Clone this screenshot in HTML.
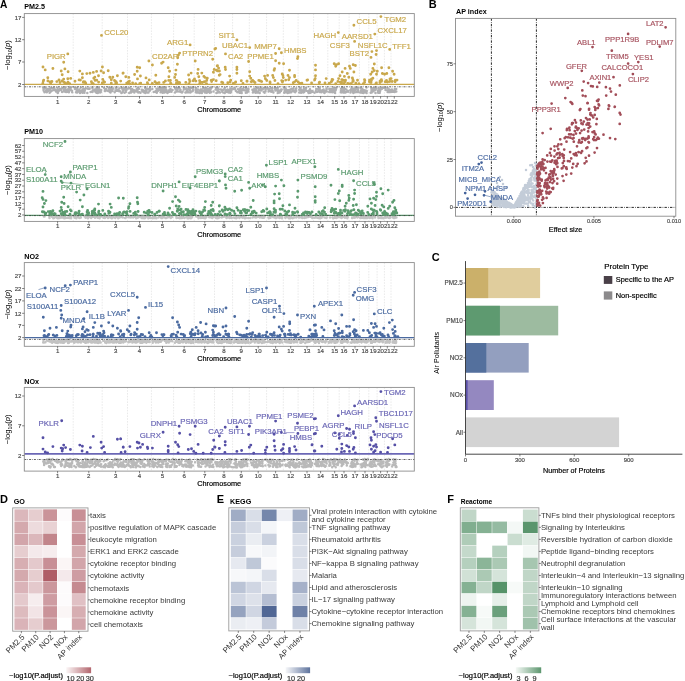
<!DOCTYPE html>
<html><head><meta charset="utf-8"><style>
html,body{margin:0;padding:0;background:#fff;}
svg{display:block;font-family:"Liberation Sans", sans-serif;filter:blur(0.3px);}

</style></head><body>
<svg width="685" height="681" viewBox="0 0 685 681">
<rect width="685" height="681" fill="#fff"/>
<text x="24.30" y="9.29" font-size="7.2" text-anchor="start" font-weight="bold" fill="#000" >PM2.5</text>
<line x1="73.20" y1="13.60" x2="73.20" y2="96.40" stroke="#d4d4d4" stroke-width="0.5" stroke-dasharray="1.6,1.2"/>
<line x1="102.20" y1="13.60" x2="102.20" y2="96.40" stroke="#d4d4d4" stroke-width="0.5" stroke-dasharray="1.6,1.2"/>
<line x1="127.50" y1="13.60" x2="127.50" y2="96.40" stroke="#d4d4d4" stroke-width="0.5" stroke-dasharray="1.6,1.2"/>
<line x1="151.40" y1="13.60" x2="151.40" y2="96.40" stroke="#d4d4d4" stroke-width="0.5" stroke-dasharray="1.6,1.2"/>
<line x1="173.60" y1="13.60" x2="173.60" y2="96.40" stroke="#d4d4d4" stroke-width="0.5" stroke-dasharray="1.6,1.2"/>
<line x1="194.20" y1="13.60" x2="194.20" y2="96.40" stroke="#d4d4d4" stroke-width="0.5" stroke-dasharray="1.6,1.2"/>
<line x1="214.50" y1="13.60" x2="214.50" y2="96.40" stroke="#d4d4d4" stroke-width="0.5" stroke-dasharray="1.6,1.2"/>
<line x1="232.60" y1="13.60" x2="232.60" y2="96.40" stroke="#d4d4d4" stroke-width="0.5" stroke-dasharray="1.6,1.2"/>
<line x1="249.30" y1="13.60" x2="249.30" y2="96.40" stroke="#d4d4d4" stroke-width="0.5" stroke-dasharray="1.6,1.2"/>
<line x1="266.60" y1="13.60" x2="266.60" y2="96.40" stroke="#d4d4d4" stroke-width="0.5" stroke-dasharray="1.6,1.2"/>
<line x1="283.30" y1="13.60" x2="283.30" y2="96.40" stroke="#d4d4d4" stroke-width="0.5" stroke-dasharray="1.6,1.2"/>
<line x1="298.10" y1="13.60" x2="298.10" y2="96.40" stroke="#d4d4d4" stroke-width="0.5" stroke-dasharray="1.6,1.2"/>
<line x1="313.60" y1="13.60" x2="313.60" y2="96.40" stroke="#d4d4d4" stroke-width="0.5" stroke-dasharray="1.6,1.2"/>
<line x1="327.80" y1="13.60" x2="327.80" y2="96.40" stroke="#d4d4d4" stroke-width="0.5" stroke-dasharray="1.6,1.2"/>
<line x1="339.20" y1="13.60" x2="339.20" y2="96.40" stroke="#d4d4d4" stroke-width="0.5" stroke-dasharray="1.6,1.2"/>
<line x1="349.10" y1="13.60" x2="349.10" y2="96.40" stroke="#d4d4d4" stroke-width="0.5" stroke-dasharray="1.6,1.2"/>
<line x1="359.40" y1="13.60" x2="359.40" y2="96.40" stroke="#d4d4d4" stroke-width="0.5" stroke-dasharray="1.6,1.2"/>
<line x1="368.80" y1="13.60" x2="368.80" y2="96.40" stroke="#d4d4d4" stroke-width="0.5" stroke-dasharray="1.6,1.2"/>
<line x1="377.10" y1="13.60" x2="377.10" y2="96.40" stroke="#d4d4d4" stroke-width="0.5" stroke-dasharray="1.6,1.2"/>
<line x1="384.40" y1="13.60" x2="384.40" y2="96.40" stroke="#d4d4d4" stroke-width="0.5" stroke-dasharray="1.6,1.2"/>
<line x1="391.00" y1="13.60" x2="391.00" y2="96.40" stroke="#d4d4d4" stroke-width="0.5" stroke-dasharray="1.6,1.2"/>
<line x1="24.30" y1="84.40" x2="414.30" y2="84.40" stroke="#c9a84c" stroke-width="1.3" />
<path d="M46.8 92.2h0M65.4 89.0h0M57.5 90.0h0M62.1 91.9h0M45.6 87.8h0M67.5 89.9h0M65.4 87.6h0M56.0 91.5h0M49.6 92.7h0M69.5 87.8h0M43.6 90.5h0M70.6 89.7h0M49.2 89.9h0M43.7 88.8h0M55.8 90.3h0M49.7 88.8h0M49.3 90.1h0M51.4 87.7h0M67.6 90.6h0M61.8 88.6h0M72.2 92.2h0M46.4 89.4h0M64.2 91.4h0M70.5 89.9h0M67.4 91.2h0M51.8 90.8h0M68.9 92.2h0M57.8 90.8h0M43.8 88.9h0M66.4 89.8h0M47.9 90.6h0M63.6 91.2h0M53.9 90.0h0M57.8 91.8h0M58.2 89.7h0M57.3 87.8h0M44.1 91.4h0M71.9 90.8h0M54.5 88.5h0M57.7 92.9h0M65.6 90.5h0M68.3 88.9h0M58.0 92.7h0M59.9 90.1h0M50.8 90.6h0M71.1 87.6h0M66.0 92.0h0M69.0 91.6h0M66.8 90.4h0M59.4 89.9h0M44.5 92.3h0M59.7 88.7h0M57.7 90.2h0M53.4 89.5h0M58.7 91.0h0M60.9 90.1h0M43.6 88.8h0M48.0 90.8h0M68.3 91.9h0M66.4 92.0h0M50.4 92.1h0M62.7 88.0h0M43.3 87.7h0M65.2 88.9h0M46.0 91.0h0M53.0 88.0h0M47.5 90.4h0M47.8 89.1h0M63.9 90.1h0M52.3 90.2h0M43.5 89.7h0M85.5 88.6h0M77.0 92.5h0M88.0 88.7h0M90.6 92.0h0M74.6 87.7h0M78.0 91.5h0M78.4 91.4h0M92.6 90.5h0M80.0 92.9h0M95.9 90.4h0M80.1 91.1h0M84.8 90.7h0M82.8 91.0h0M75.6 89.2h0M100.5 92.3h0M82.4 92.2h0M82.5 92.7h0M94.4 89.8h0M80.9 87.6h0M98.1 87.8h0M96.5 92.8h0M89.6 88.5h0M97.8 92.9h0M93.3 90.3h0M84.4 89.5h0M79.6 91.2h0M85.9 88.6h0M76.9 91.2h0M82.1 90.3h0M82.9 92.3h0M98.7 87.7h0M79.5 89.4h0M101.0 91.8h0M83.3 88.8h0M92.5 92.1h0M99.5 89.5h0M98.2 91.3h0M87.3 92.9h0M80.4 91.5h0M76.3 88.5h0M99.0 88.8h0M94.8 90.8h0M97.0 89.6h0M83.3 89.2h0M97.8 90.9h0M100.1 92.4h0M77.7 90.6h0M76.9 87.8h0M76.0 92.3h0M95.6 92.1h0M83.3 90.9h0M95.4 89.6h0M89.6 88.8h0M76.2 89.0h0M98.4 90.6h0M99.3 90.1h0M81.6 91.8h0M96.7 87.7h0M92.4 88.1h0M77.2 92.4h0M75.1 88.9h0M101.1 89.9h0M77.2 88.5h0M80.6 91.6h0M76.8 92.5h0M84.4 92.8h0M124.5 89.2h0M109.0 90.2h0M105.4 91.1h0M103.9 87.7h0M126.3 89.2h0M117.1 90.0h0M110.4 87.9h0M124.6 92.8h0M126.0 88.2h0M108.1 90.9h0M126.2 90.5h0M119.3 91.2h0M109.1 90.5h0M110.3 88.9h0M104.9 89.1h0M126.3 90.0h0M118.5 91.1h0M125.3 89.7h0M110.3 89.4h0M110.5 92.2h0M124.2 89.2h0M110.9 90.5h0M116.7 90.8h0M108.8 87.7h0M108.8 88.0h0M116.1 88.0h0M104.8 91.0h0M109.9 91.9h0M114.7 92.3h0M106.7 90.3h0M121.8 88.0h0M125.5 88.5h0M121.4 92.9h0M122.5 89.3h0M105.5 90.4h0M124.8 89.2h0M124.2 88.4h0M124.6 87.8h0M110.5 92.5h0M122.1 92.5h0M122.9 91.6h0M119.3 88.6h0M113.3 88.5h0M119.9 91.2h0M109.0 87.9h0M125.8 92.0h0M116.0 90.5h0M123.2 90.0h0M112.4 89.4h0M109.1 87.7h0M118.3 89.9h0M116.5 87.9h0M111.4 88.3h0M106.0 89.0h0M122.6 89.7h0M112.5 90.9h0M108.5 87.6h0M115.5 90.3h0M142.8 90.0h0M143.6 91.5h0M133.6 90.3h0M139.0 88.8h0M137.5 90.6h0M148.5 92.6h0M134.4 91.1h0M129.4 88.0h0M139.7 92.3h0M131.9 91.7h0M148.0 89.3h0M143.7 92.2h0M136.6 91.4h0M144.7 90.8h0M147.4 92.4h0M149.7 90.7h0M132.2 89.0h0M133.2 90.7h0M145.2 87.9h0M143.5 91.5h0M136.1 90.4h0M132.0 91.5h0M129.2 92.9h0M146.3 91.0h0M134.3 92.5h0M149.7 88.4h0M145.6 92.1h0M143.0 91.4h0M138.2 92.6h0M150.0 89.7h0M146.2 89.9h0M132.0 89.4h0M131.1 92.5h0M149.7 88.2h0M141.7 89.8h0M130.9 89.2h0M133.8 91.6h0M128.4 88.6h0M138.1 87.7h0M142.3 90.9h0M146.9 88.7h0M134.7 90.5h0M134.4 90.8h0M133.9 91.3h0M145.9 92.0h0M150.0 90.5h0M139.2 92.2h0M145.5 90.7h0M136.8 89.1h0M130.7 92.0h0M130.9 91.6h0M140.5 92.8h0M145.3 92.9h0M131.3 90.3h0M164.0 89.3h0M162.6 89.5h0M163.1 87.6h0M161.3 90.0h0M158.5 89.8h0M168.3 91.3h0M162.3 91.1h0M160.0 88.7h0M152.3 89.1h0M164.5 92.4h0M169.3 90.4h0M172.5 90.1h0M169.4 89.8h0M167.5 92.9h0M158.5 88.5h0M165.0 90.5h0M159.6 87.6h0M160.2 89.9h0M160.5 92.3h0M164.2 91.6h0M170.7 91.6h0M162.3 91.6h0M165.4 91.1h0M165.2 89.8h0M165.2 91.0h0M171.5 91.8h0M169.6 91.7h0M169.0 90.9h0M159.4 89.0h0M166.8 92.3h0M163.4 88.4h0M169.4 90.2h0M161.8 87.8h0M162.7 91.6h0M160.9 89.5h0M165.7 87.7h0M162.6 92.7h0M166.4 89.8h0M166.4 90.9h0M156.5 88.7h0M170.5 89.1h0M153.7 92.1h0M163.0 89.6h0M162.7 91.6h0M155.7 91.1h0M166.9 92.0h0M157.8 90.9h0M157.0 90.6h0M155.8 91.9h0M170.1 89.4h0M156.8 92.8h0M187.8 92.2h0M175.0 92.5h0M186.2 89.3h0M182.6 91.7h0M189.3 88.6h0M186.3 88.5h0M192.9 90.0h0M191.7 91.5h0M185.9 89.0h0M184.4 88.3h0M177.0 91.5h0M181.3 91.7h0M179.0 91.5h0M188.1 89.2h0M176.4 89.7h0M183.8 88.1h0M177.9 87.9h0M185.8 92.4h0M178.5 87.8h0M187.8 92.0h0M192.7 90.9h0M180.9 92.1h0M176.6 91.3h0M176.2 89.8h0M183.8 89.6h0M177.6 88.9h0M190.0 90.1h0M185.4 88.7h0M188.0 89.4h0M185.7 92.5h0M193.3 87.8h0M189.6 92.2h0M180.5 89.7h0M185.4 92.6h0M182.0 92.4h0M188.8 88.4h0M191.8 87.7h0M177.2 91.2h0M175.5 89.6h0M176.9 90.1h0M190.4 92.5h0M175.1 87.9h0M190.4 87.8h0M179.6 88.2h0M176.1 87.7h0M186.5 91.6h0M187.4 92.2h0M207.4 89.7h0M206.8 92.8h0M207.0 88.9h0M196.1 92.6h0M206.0 89.5h0M206.3 90.6h0M204.8 87.9h0M201.6 89.8h0M198.7 92.4h0M202.9 91.2h0M208.3 91.6h0M208.5 91.7h0M199.7 92.9h0M197.8 92.6h0M211.0 92.2h0M196.0 88.1h0M210.2 90.1h0M201.9 92.9h0M195.8 90.5h0M203.3 88.3h0M202.4 91.4h0M211.5 87.7h0M204.8 88.1h0M210.0 88.1h0M195.6 89.7h0M208.7 89.3h0M197.4 91.9h0M210.1 92.2h0M200.7 89.9h0M199.6 90.6h0M201.2 89.4h0M209.7 92.8h0M205.9 88.2h0M207.2 90.0h0M213.5 91.5h0M210.6 91.4h0M205.0 92.4h0M210.6 89.2h0M197.9 89.6h0M204.7 88.1h0M201.5 90.7h0M195.8 92.0h0M207.2 89.3h0M200.6 89.5h0M201.1 91.6h0M204.4 90.4h0M217.8 92.5h0M220.7 89.4h0M216.4 92.9h0M223.2 92.5h0M230.6 92.8h0M228.8 92.6h0M230.5 91.9h0M217.5 90.4h0M224.8 93.0h0M228.2 91.4h0M227.6 89.6h0M230.8 91.1h0M221.9 90.1h0M231.5 90.5h0M218.1 88.4h0M226.6 90.6h0M230.3 88.6h0M222.1 91.5h0M216.1 88.1h0M224.3 89.0h0M217.1 89.0h0M225.7 90.4h0M216.6 88.0h0M229.3 91.1h0M218.2 92.3h0M215.7 89.6h0M229.3 91.4h0M220.0 92.4h0M225.2 92.3h0M230.0 89.9h0M226.4 90.5h0M230.9 91.9h0M227.3 92.0h0M231.8 89.0h0M218.6 91.6h0M228.0 90.4h0M223.3 89.8h0M229.9 91.9h0M224.9 87.8h0M229.3 90.1h0M218.4 89.2h0M243.8 87.6h0M235.2 89.2h0M246.8 91.6h0M248.1 90.5h0M242.0 90.6h0M241.3 90.5h0M245.8 92.7h0M239.6 91.0h0M238.0 89.2h0M241.0 90.8h0M241.7 92.9h0M235.9 91.0h0M248.4 91.6h0M241.9 89.6h0M239.5 92.7h0M246.9 91.2h0M247.0 92.6h0M246.2 89.7h0M240.4 91.9h0M239.0 91.6h0M240.7 89.4h0M240.3 88.2h0M238.8 89.8h0M233.7 88.5h0M237.3 92.2h0M242.3 89.2h0M248.5 89.0h0M241.2 91.6h0M243.8 89.9h0M245.1 90.2h0M244.2 90.3h0M248.1 91.5h0M234.8 88.3h0M248.0 88.8h0M233.8 89.0h0M240.6 92.7h0M239.4 91.5h0M246.0 88.1h0M259.7 93.0h0M258.7 90.5h0M255.5 92.7h0M265.3 88.2h0M258.8 89.9h0M260.6 88.2h0M254.3 89.1h0M257.6 91.9h0M263.6 91.8h0M260.7 88.1h0M256.2 91.2h0M254.7 90.3h0M264.3 88.2h0M263.5 88.2h0M256.2 92.5h0M253.3 90.4h0M256.6 92.4h0M265.7 89.2h0M257.8 92.4h0M258.7 88.8h0M262.0 89.4h0M257.7 87.6h0M265.6 91.1h0M264.6 92.8h0M254.3 90.5h0M257.0 91.7h0M263.3 88.8h0M254.4 91.4h0M256.6 88.3h0M253.2 90.6h0M259.5 92.8h0M258.5 90.9h0M252.4 89.8h0M254.5 91.4h0M254.3 88.8h0M255.9 90.1h0M255.4 90.9h0M252.9 92.4h0M261.0 90.5h0M268.3 89.4h0M277.8 91.1h0M279.7 92.4h0M272.2 90.3h0M272.4 88.3h0M269.5 89.0h0M268.7 90.5h0M278.0 90.6h0M277.7 88.8h0M270.4 90.7h0M280.8 89.9h0M267.5 87.7h0M272.0 90.9h0M268.7 88.8h0M277.7 92.9h0M272.6 90.8h0M275.2 87.7h0M272.4 88.4h0M271.2 91.8h0M277.7 87.8h0M268.6 91.5h0M269.0 89.3h0M271.5 87.9h0M267.9 88.4h0M273.4 92.6h0M277.0 88.9h0M277.7 89.1h0M275.2 89.3h0M281.7 89.5h0M279.5 91.1h0M280.1 90.9h0M280.5 89.8h0M277.7 91.0h0M275.4 90.6h0M275.5 89.7h0M281.0 91.0h0M275.7 87.9h0M275.1 88.5h0M286.9 89.9h0M291.3 89.0h0M287.7 90.5h0M290.3 89.8h0M285.5 89.6h0M292.7 90.5h0M291.3 92.2h0M293.6 91.3h0M284.5 89.3h0M293.1 88.4h0M296.2 88.4h0M295.7 88.8h0M295.2 92.2h0M288.5 92.4h0M286.2 92.2h0M289.1 90.0h0M285.7 90.8h0M287.7 91.2h0M294.7 90.9h0M284.2 92.7h0M296.2 91.1h0M289.1 90.6h0M295.8 90.1h0M294.4 90.8h0M289.7 92.6h0M289.5 90.9h0M284.8 90.1h0M284.6 91.4h0M284.1 87.8h0M285.6 88.4h0M290.8 89.5h0M287.7 92.9h0M296.1 91.1h0M294.7 92.0h0M302.3 92.0h0M302.2 90.6h0M303.9 88.5h0M309.7 92.5h0M303.3 92.4h0M303.7 91.2h0M312.7 91.8h0M299.7 89.9h0M304.1 89.2h0M310.2 90.0h0M308.6 91.0h0M306.1 87.9h0M308.3 92.4h0M301.3 91.1h0M305.7 89.4h0M308.8 92.9h0M299.2 92.4h0M304.2 92.1h0M301.3 91.5h0M300.3 89.4h0M312.4 91.1h0M309.8 90.1h0M305.4 90.3h0M309.6 91.5h0M301.6 90.0h0M306.4 90.7h0M311.8 92.1h0M301.0 89.6h0M300.4 87.7h0M299.9 88.6h0M309.5 91.2h0M310.0 89.2h0M301.1 92.8h0M310.4 92.7h0M299.2 89.7h0M322.4 91.6h0M325.9 90.5h0M319.3 87.6h0M324.5 92.9h0M325.8 91.2h0M318.7 88.9h0M324.2 92.7h0M326.5 88.5h0M321.8 90.4h0M319.8 91.9h0M326.2 91.5h0M323.2 91.3h0M322.6 90.5h0M317.5 91.8h0M315.9 91.1h0M319.3 90.6h0M322.5 90.2h0M326.7 88.9h0M314.6 92.8h0M318.3 89.1h0M319.6 90.8h0M326.8 91.4h0M318.4 90.5h0M320.1 90.3h0M319.7 88.5h0M319.4 89.7h0M316.9 92.0h0M318.9 88.4h0M321.5 92.2h0M324.2 91.0h0M323.6 89.4h0M316.2 89.0h0M332.0 89.1h0M333.2 88.4h0M329.9 89.0h0M330.5 91.9h0M333.9 88.7h0M332.8 92.3h0M334.3 90.6h0M332.4 88.7h0M334.7 88.0h0M336.3 87.9h0M335.9 89.7h0M335.3 90.8h0M329.9 90.5h0M329.3 88.9h0M332.3 89.1h0M335.1 92.9h0M332.1 92.1h0M330.8 91.4h0M332.0 90.5h0M329.5 92.1h0M330.6 90.1h0M331.4 92.0h0M334.4 90.9h0M336.0 89.0h0M329.2 92.1h0M331.7 92.0h0M347.9 91.0h0M340.9 92.2h0M345.3 88.9h0M341.7 90.3h0M341.0 92.5h0M345.9 92.0h0M343.2 92.6h0M341.1 91.5h0M342.1 87.6h0M341.0 88.7h0M346.3 89.6h0M344.0 90.9h0M342.2 91.0h0M345.6 92.6h0M344.2 92.2h0M348.0 91.8h0M343.5 89.1h0M340.8 92.1h0M341.1 90.6h0M343.8 87.8h0M341.8 92.0h0M344.5 92.6h0M357.8 88.1h0M355.8 87.8h0M353.6 90.0h0M358.2 90.8h0M351.6 90.4h0M354.4 88.7h0M353.0 92.3h0M358.4 91.8h0M350.5 92.5h0M353.9 92.1h0M351.4 88.4h0M357.8 89.1h0M350.3 90.3h0M358.5 92.1h0M353.3 93.0h0M356.8 92.1h0M355.5 89.7h0M357.8 90.1h0M358.0 90.6h0M357.8 90.2h0M353.6 90.8h0M352.7 88.4h0M355.0 92.2h0M362.4 92.3h0M366.3 91.8h0M363.4 93.0h0M366.4 90.7h0M361.1 90.7h0M360.3 92.5h0M362.8 89.6h0M364.5 91.0h0M364.7 90.2h0M365.1 92.2h0M363.7 90.3h0M366.5 87.6h0M361.5 89.4h0M361.9 92.4h0M361.4 88.2h0M362.7 90.3h0M366.6 93.0h0M366.8 90.9h0M360.5 87.9h0M365.1 92.0h0M362.3 92.8h0M373.3 90.7h0M373.7 88.0h0M370.7 92.7h0M371.4 88.0h0M371.5 91.5h0M371.4 88.7h0M371.5 90.2h0M374.5 89.2h0M375.5 92.9h0M375.1 88.0h0M371.7 92.6h0M375.4 88.3h0M372.6 89.6h0M374.6 87.8h0M371.7 91.6h0M375.5 87.8h0M373.5 91.2h0M375.4 89.9h0M376.1 88.7h0M378.6 88.3h0M381.2 88.3h0M379.4 88.7h0M378.2 92.8h0M379.8 92.8h0M382.0 88.8h0M383.2 87.7h0M383.5 87.8h0M379.3 90.6h0M378.0 91.7h0M378.4 92.0h0M378.1 90.5h0M379.1 89.2h0M380.7 89.6h0M380.1 91.1h0M379.0 88.6h0M388.6 89.2h0M389.9 89.9h0M387.6 87.7h0M385.3 88.2h0M388.3 91.2h0M390.0 89.9h0M388.7 89.5h0M385.6 89.9h0M388.7 91.9h0M390.0 92.1h0M388.0 90.6h0M387.7 90.2h0M388.6 90.7h0M389.5 90.0h0M387.6 92.1h0M395.1 90.4h0M394.6 92.0h0M394.8 89.0h0M393.3 90.9h0M392.0 90.1h0M396.2 88.9h0M394.0 91.4h0M396.3 91.4h0M394.9 89.7h0M393.9 91.1h0M393.5 91.8h0M391.8 91.7h0M395.4 89.3h0M391.9 89.4h0" stroke="#b0b0b2" stroke-width="2.5" stroke-linecap="round" fill="none"/>
<line x1="24.30" y1="86.80" x2="414.30" y2="86.80" stroke="#3a3a3a" stroke-width="0.8" stroke-dasharray="2.0,1.1,0.6,1.1"/>
<path d="M67.8 53.9h0M63.7 62.2h0M43.0 67.0h0M45.2 69.9h0M52.9 68.5h0M61.2 71.0h0M64.9 68.9h0M68.1 71.8h0M62.2 74.7h0M47.8 77.7h0M43.7 80.1h0M50.0 82.0h0M63.7 79.1h0M67.8 78.7h0M70.7 78.4h0M56.8 81.6h0M62.0 80.9h0M79.8 71.1h0M82.4 73.9h0M86.8 73.6h0M90.0 73.3h0M93.3 72.4h0M96.6 71.4h0M101.1 71.0h0M102.4 67.0h0M103.6 72.8h0M108.2 70.7h0M82.4 77.7h0M93.8 78.2h0M94.8 77.2h0M98.5 75.8h0M96.7 80.1h0M102.8 79.4h0M104.0 81.6h0M109.8 77.2h0M112.8 77.2h0M111.3 79.7h0M116.0 81.6h0M117.4 75.8h0M123.0 73.3h0M123.2 73.1h0M125.8 76.7h0M128.8 77.4h0M134.6 74.5h0M137.2 67.2h0M139.7 67.7h0M137.2 71.2h0M140.4 76.0h0M137.5 78.9h0M146.0 77.9h0M147.4 82.6h0M148.9 61.0h0M152.4 65.0h0M155.8 75.3h0M155.0 81.8h0M161.6 63.3h0M163.1 62.1h0M168.2 67.7h0M169.6 71.2h0M168.9 76.7h0M170.4 80.4h0M178.4 55.1h0M179.6 53.1h0M177.7 57.7h0M177.4 64.3h0M175.9 70.1h0M175.5 74.5h0M174.7 77.4h0M176.2 80.4h0M190.1 44.9h0M195.2 61.0h0M198.1 69.4h0M197.7 73.5h0M201.8 73.1h0M198.8 76.7h0M188.6 75.0h0M191.1 73.1h0M189.3 79.6h0M194.5 78.9h0M195.9 81.1h0M203.9 76.4h0M205.0 77.4h0M207.3 78.2h0M204.4 81.8h0M211.2 80.4h0M213.4 79.6h0M214.9 49.0h0M212.7 59.2h0M217.5 65.8h0M214.2 69.4h0M217.5 70.9h0M213.4 72.3h0M219.3 75.3h0M215.7 48.4h0M236.9 39.9h0M249.7 47.6h0M225.5 53.9h0M248.6 61.5h0M217.2 65.9h0M218.6 68.1h0M216.5 70.3h0M219.4 71.0h0M225.2 67.3h0M225.5 69.5h0M236.9 67.3h0M236.9 69.5h0M236.9 73.2h0M220.1 74.6h0M229.6 76.1h0M249.7 71.7h0M249.7 76.1h0M250.8 78.3h0M279.2 48.8h0M281.4 52.7h0M275.6 53.5h0M275.6 60.8h0M279.2 63.2h0M283.6 63.7h0M297.9 56.8h0M297.5 58.6h0M274.6 68.8h0M274.1 70.3h0M289.5 70.3h0M264.6 76.1h0M267.6 75.4h0M265.4 78.7h0M266.8 80.5h0M272.7 75.4h0M273.4 77.6h0M274.9 80.5h0M282.2 73.9h0M282.9 75.4h0M283.3 77.6h0M288.0 75.4h0M289.5 77.6h0M288.7 79.7h0M294.6 75.4h0M294.6 76.8h0M241.3 80.8h0M247.1 81.2h0M260.3 81.0h0M261.7 81.6h0M298.2 82.0h0M307.0 80.2h0M380.9 16.6h0M353.9 25.3h0M338.3 32.6h0M374.8 34.1h0M354.6 41.4h0M389.7 49.4h0M376.5 50.6h0M371.9 51.6h0M376.1 54.5h0M371.0 57.4h0M315.5 65.2h0M315.5 69.9h0M315.5 75.7h0M315.2 78.6h0M307.2 80.1h0M311.6 83.0h0M334.2 63.7h0M336.4 64.7h0M338.6 63.7h0M335.7 66.2h0M326.2 78.6h0M332.0 80.8h0M319.6 82.3h0M345.1 68.4h0M349.5 66.2h0M350.3 68.4h0M353.2 64.7h0M355.4 65.5h0M342.2 72.0h0M347.3 73.5h0M353.9 72.0h0M340.0 75.7h0M344.4 76.4h0M348.8 77.2h0M352.4 77.9h0M338.6 78.6h0M343.0 80.1h0M374.3 64.0h0M372.9 68.4h0M374.3 70.6h0M377.3 71.3h0M372.2 72.0h0M370.7 74.2h0M376.5 74.2h0M381.6 67.7h0M382.4 73.5h0M384.6 74.2h0M386.8 73.5h0M388.9 67.7h0M392.6 71.3h0M394.1 74.2h0M391.1 78.6h0M395.5 80.1h0M389.7 81.5h0M101.5 35.4h0M47.9 80.9h0M50.7 83.3h0M42.8 83.5h0M51.9 81.5h0M43.3 81.3h0M51.6 81.7h0M59.0 80.0h0M66.9 83.4h0M68.0 82.2h0M64.8 82.7h0M60.0 82.5h0M63.9 82.3h0M69.7 83.7h0M80.4 80.1h0M91.4 81.7h0M92.0 83.2h0M85.7 83.3h0M79.1 79.9h0M95.1 80.4h0M75.0 81.3h0M83.3 82.2h0M93.2 83.8h0M85.0 81.9h0M98.6 82.1h0M83.6 81.7h0M116.6 83.0h0M115.7 83.0h0M102.3 82.9h0M104.2 82.2h0M114.5 80.5h0M120.7 81.1h0M126.7 83.1h0M111.3 83.2h0M104.6 82.1h0M139.8 83.5h0M149.2 79.9h0M129.6 83.8h0M129.4 81.1h0M147.6 83.7h0M128.2 82.0h0M135.7 83.8h0M128.2 83.3h0M132.6 83.0h0M140.7 83.1h0M156.9 83.3h0M170.6 83.2h0M163.7 82.4h0M159.0 82.6h0M152.3 83.4h0M165.4 81.0h0M156.6 83.4h0M171.0 83.6h0M168.7 80.4h0M176.9 80.6h0M177.0 83.7h0M179.7 82.8h0M185.8 82.4h0M189.9 81.4h0M176.4 83.3h0M188.9 83.6h0M193.1 80.8h0M178.4 83.0h0M179.0 82.5h0M199.7 83.8h0M199.8 83.3h0M201.6 82.4h0M211.6 81.5h0M206.7 80.5h0M202.3 82.5h0M199.6 80.7h0M211.7 80.3h0M206.5 83.6h0M216.2 80.8h0M230.1 82.0h0M230.7 80.2h0M227.8 82.7h0M222.8 82.8h0M221.7 82.3h0M233.3 83.5h0M235.7 81.9h0M246.9 81.2h0M235.4 82.4h0M243.0 83.5h0M251.3 81.7h0M253.8 81.5h0M252.7 80.5h0M255.0 82.5h0M258.8 80.4h0M281.7 80.6h0M278.0 83.7h0M270.0 82.0h0M282.8 81.2h0M270.1 82.8h0M282.4 82.1h0M296.2 80.5h0M294.9 81.6h0M293.3 82.8h0M285.7 80.1h0M299.5 83.1h0M307.6 80.0h0M301.9 83.2h0M325.0 82.9h0M319.2 82.7h0M314.6 80.1h0M335.7 83.8h0M329.1 83.4h0M332.1 79.5h0M329.5 83.1h0M331.4 81.7h0M337.9 81.6h0M337.9 81.5h0M332.8 79.6h0M345.2 81.5h0M344.6 82.2h0M343.9 83.6h0M341.8 79.6h0M341.2 83.0h0M341.5 82.2h0M340.4 82.2h0M345.5 80.2h0M347.8 83.5h0M355.8 83.1h0M353.1 80.9h0M357.5 80.2h0M358.9 83.8h0M352.8 81.5h0M350.3 83.7h0M353.3 81.0h0M351.2 83.6h0M352.9 79.7h0M364.5 79.8h0M364.8 80.4h0M364.6 82.3h0M363.3 83.7h0M369.5 80.3h0M375.9 83.8h0M370.4 82.4h0M371.5 79.1h0M371.0 82.5h0M372.9 78.2h0M371.4 80.5h0M369.4 81.8h0M376.4 83.0h0M380.1 80.9h0M381.4 81.4h0M381.7 80.8h0M379.9 82.5h0M380.4 81.7h0M381.4 79.6h0M387.4 82.0h0M390.0 79.0h0M386.5 80.5h0M386.5 80.4h0M385.2 81.7h0M395.1 80.7h0M397.0 80.1h0M395.1 81.8h0M392.1 81.5h0" stroke="#c9a84c" stroke-width="2.9" stroke-linecap="round" fill="none"/>
<text x="46.70" y="58.71" font-size="7.8" text-anchor="start" font-weight="normal" fill="#c9a84c" stroke="#c9a84c" stroke-width="0.18" >PIGR</text>
<text x="104.20" y="34.61" font-size="7.8" text-anchor="start" font-weight="normal" fill="#c9a84c" stroke="#c9a84c" stroke-width="0.18" >CCL20</text>
<text x="152.00" y="59.31" font-size="7.8" text-anchor="start" font-weight="normal" fill="#c9a84c" stroke="#c9a84c" stroke-width="0.18" >CD2AP</text>
<text x="167.00" y="45.01" font-size="7.8" text-anchor="start" font-weight="normal" fill="#c9a84c" stroke="#c9a84c" stroke-width="0.18" >ARG1</text>
<text x="182.30" y="55.91" font-size="7.8" text-anchor="start" font-weight="normal" fill="#c9a84c" stroke="#c9a84c" stroke-width="0.18" >PTPRN2</text>
<text x="218.50" y="38.31" font-size="7.8" text-anchor="start" font-weight="normal" fill="#c9a84c" stroke="#c9a84c" stroke-width="0.18" >SIT1</text>
<text x="222.00" y="47.51" font-size="7.8" text-anchor="start" font-weight="normal" fill="#c9a84c" stroke="#c9a84c" stroke-width="0.18" >UBAC1</text>
<text x="228.00" y="58.61" font-size="7.8" text-anchor="start" font-weight="normal" fill="#c9a84c" stroke="#c9a84c" stroke-width="0.18" >CA2</text>
<text x="254.20" y="48.71" font-size="7.8" text-anchor="start" font-weight="normal" fill="#c9a84c" stroke="#c9a84c" stroke-width="0.18" >MMP7</text>
<text x="247.30" y="59.31" font-size="7.8" text-anchor="start" font-weight="normal" fill="#c9a84c" stroke="#c9a84c" stroke-width="0.18" >PPME1</text>
<text x="284.00" y="52.71" font-size="7.8" text-anchor="start" font-weight="normal" fill="#c9a84c" stroke="#c9a84c" stroke-width="0.18" >HMBS</text>
<text x="313.60" y="37.81" font-size="7.8" text-anchor="start" font-weight="normal" fill="#c9a84c" stroke="#c9a84c" stroke-width="0.18" >HAGH</text>
<text x="356.60" y="24.11" font-size="7.8" text-anchor="start" font-weight="normal" fill="#c9a84c" stroke="#c9a84c" stroke-width="0.18" >CCL5</text>
<text x="384.40" y="22.31" font-size="7.8" text-anchor="start" font-weight="normal" fill="#c9a84c" stroke="#c9a84c" stroke-width="0.18" >TGM2</text>
<text x="341.70" y="39.01" font-size="7.8" text-anchor="start" font-weight="normal" fill="#c9a84c" stroke="#c9a84c" stroke-width="0.18" >AARSD1</text>
<text x="377.40" y="33.11" font-size="7.8" text-anchor="start" font-weight="normal" fill="#c9a84c" stroke="#c9a84c" stroke-width="0.18" >CXCL17</text>
<text x="329.80" y="47.71" font-size="7.8" text-anchor="start" font-weight="normal" fill="#c9a84c" stroke="#c9a84c" stroke-width="0.18" >CSF3</text>
<text x="357.80" y="47.71" font-size="7.8" text-anchor="start" font-weight="normal" fill="#c9a84c" stroke="#c9a84c" stroke-width="0.18" >NSFL1C</text>
<text x="392.30" y="49.41" font-size="7.8" text-anchor="start" font-weight="normal" fill="#c9a84c" stroke="#c9a84c" stroke-width="0.18" >TFF1</text>
<text x="349.60" y="56.41" font-size="7.8" text-anchor="start" font-weight="normal" fill="#c9a84c" stroke="#c9a84c" stroke-width="0.18" >BST2</text>
<rect x="24.3" y="13.6" width="390.0" height="82.80000000000001" fill="none" stroke="#8c8c8c" stroke-width="0.9"/>
<line x1="22.10" y1="17.40" x2="24.30" y2="17.40" stroke="#333333" stroke-width="0.6" />
<text x="21.50" y="19.60" font-size="6.1" text-anchor="end" font-weight="normal" fill="#4d4d4d" stroke="#4d4d4d" stroke-width="0.18" >17</text>
<line x1="22.10" y1="39.70" x2="24.30" y2="39.70" stroke="#333333" stroke-width="0.6" />
<text x="21.50" y="41.90" font-size="6.1" text-anchor="end" font-weight="normal" fill="#4d4d4d" stroke="#4d4d4d" stroke-width="0.18" >12</text>
<line x1="22.10" y1="62.00" x2="24.30" y2="62.00" stroke="#333333" stroke-width="0.6" />
<text x="21.50" y="64.20" font-size="6.1" text-anchor="end" font-weight="normal" fill="#4d4d4d" stroke="#4d4d4d" stroke-width="0.18" >7</text>
<line x1="22.10" y1="84.50" x2="24.30" y2="84.50" stroke="#333333" stroke-width="0.6" />
<text x="21.50" y="86.70" font-size="6.1" text-anchor="end" font-weight="normal" fill="#4d4d4d" stroke="#4d4d4d" stroke-width="0.18" >2</text>
<line x1="57.60" y1="96.40" x2="57.60" y2="98.60" stroke="#333333" stroke-width="0.6" />
<text x="57.60" y="103.70" font-size="6.1" text-anchor="middle" font-weight="normal" fill="#4d4d4d" stroke="#4d4d4d" stroke-width="0.18" >1</text>
<line x1="88.80" y1="96.40" x2="88.80" y2="98.60" stroke="#333333" stroke-width="0.6" />
<text x="88.80" y="103.70" font-size="6.1" text-anchor="middle" font-weight="normal" fill="#4d4d4d" stroke="#4d4d4d" stroke-width="0.18" >2</text>
<line x1="115.60" y1="96.40" x2="115.60" y2="98.60" stroke="#333333" stroke-width="0.6" />
<text x="115.60" y="103.70" font-size="6.1" text-anchor="middle" font-weight="normal" fill="#4d4d4d" stroke="#4d4d4d" stroke-width="0.18" >3</text>
<line x1="139.50" y1="96.40" x2="139.50" y2="98.60" stroke="#333333" stroke-width="0.6" />
<text x="139.50" y="103.70" font-size="6.1" text-anchor="middle" font-weight="normal" fill="#4d4d4d" stroke="#4d4d4d" stroke-width="0.18" >4</text>
<line x1="162.50" y1="96.40" x2="162.50" y2="98.60" stroke="#333333" stroke-width="0.6" />
<text x="162.50" y="103.70" font-size="6.1" text-anchor="middle" font-weight="normal" fill="#4d4d4d" stroke="#4d4d4d" stroke-width="0.18" >5</text>
<line x1="184.20" y1="96.40" x2="184.20" y2="98.60" stroke="#333333" stroke-width="0.6" />
<text x="184.20" y="103.70" font-size="6.1" text-anchor="middle" font-weight="normal" fill="#4d4d4d" stroke="#4d4d4d" stroke-width="0.18" >6</text>
<line x1="204.80" y1="96.40" x2="204.80" y2="98.60" stroke="#333333" stroke-width="0.6" />
<text x="204.80" y="103.70" font-size="6.1" text-anchor="middle" font-weight="normal" fill="#4d4d4d" stroke="#4d4d4d" stroke-width="0.18" >7</text>
<line x1="224.00" y1="96.40" x2="224.00" y2="98.60" stroke="#333333" stroke-width="0.6" />
<text x="224.00" y="103.70" font-size="6.1" text-anchor="middle" font-weight="normal" fill="#4d4d4d" stroke="#4d4d4d" stroke-width="0.18" >8</text>
<line x1="241.30" y1="96.40" x2="241.30" y2="98.60" stroke="#333333" stroke-width="0.6" />
<text x="241.30" y="103.70" font-size="6.1" text-anchor="middle" font-weight="normal" fill="#4d4d4d" stroke="#4d4d4d" stroke-width="0.18" >9</text>
<line x1="258.20" y1="96.40" x2="258.20" y2="98.60" stroke="#333333" stroke-width="0.6" />
<text x="258.20" y="103.70" font-size="6.1" text-anchor="middle" font-weight="normal" fill="#4d4d4d" stroke="#4d4d4d" stroke-width="0.18" >10</text>
<line x1="275.60" y1="96.40" x2="275.60" y2="98.60" stroke="#333333" stroke-width="0.6" />
<text x="275.60" y="103.70" font-size="6.1" text-anchor="middle" font-weight="normal" fill="#4d4d4d" stroke="#4d4d4d" stroke-width="0.18" >11</text>
<line x1="290.70" y1="96.40" x2="290.70" y2="98.60" stroke="#333333" stroke-width="0.6" />
<text x="290.70" y="103.70" font-size="6.1" text-anchor="middle" font-weight="normal" fill="#4d4d4d" stroke="#4d4d4d" stroke-width="0.18" >12</text>
<line x1="307.00" y1="96.40" x2="307.00" y2="98.60" stroke="#333333" stroke-width="0.6" />
<text x="307.00" y="103.70" font-size="6.1" text-anchor="middle" font-weight="normal" fill="#4d4d4d" stroke="#4d4d4d" stroke-width="0.18" >13</text>
<line x1="320.60" y1="96.40" x2="320.60" y2="98.60" stroke="#333333" stroke-width="0.6" />
<text x="320.60" y="103.70" font-size="6.1" text-anchor="middle" font-weight="normal" fill="#4d4d4d" stroke="#4d4d4d" stroke-width="0.18" >14</text>
<line x1="334.70" y1="96.40" x2="334.70" y2="98.60" stroke="#333333" stroke-width="0.6" />
<text x="334.70" y="103.70" font-size="6.1" text-anchor="middle" font-weight="normal" fill="#4d4d4d" stroke="#4d4d4d" stroke-width="0.18" >15</text>
<line x1="344.00" y1="96.40" x2="344.00" y2="98.60" stroke="#333333" stroke-width="0.6" />
<text x="344.00" y="103.70" font-size="6.1" text-anchor="middle" font-weight="normal" fill="#4d4d4d" stroke="#4d4d4d" stroke-width="0.18" >16</text>
<line x1="355.00" y1="96.40" x2="355.00" y2="98.60" stroke="#333333" stroke-width="0.6" />
<text x="355.00" y="103.70" font-size="6.1" text-anchor="middle" font-weight="normal" fill="#4d4d4d" stroke="#4d4d4d" stroke-width="0.18" >17</text>
<line x1="365.00" y1="96.40" x2="365.00" y2="98.60" stroke="#333333" stroke-width="0.6" />
<text x="365.00" y="103.70" font-size="6.1" text-anchor="middle" font-weight="normal" fill="#4d4d4d" stroke="#4d4d4d" stroke-width="0.18" >18</text>
<line x1="373.20" y1="96.40" x2="373.20" y2="98.60" stroke="#333333" stroke-width="0.6" />
<text x="373.20" y="103.70" font-size="6.1" text-anchor="middle" font-weight="normal" fill="#4d4d4d" stroke="#4d4d4d" stroke-width="0.18" >19</text>
<line x1="380.60" y1="96.40" x2="380.60" y2="98.60" stroke="#333333" stroke-width="0.6" />
<text x="380.60" y="103.70" font-size="6.1" text-anchor="middle" font-weight="normal" fill="#4d4d4d" stroke="#4d4d4d" stroke-width="0.18" >20</text>
<line x1="387.30" y1="96.40" x2="387.30" y2="98.60" stroke="#333333" stroke-width="0.6" />
<text x="387.30" y="103.70" font-size="6.1" text-anchor="middle" font-weight="normal" fill="#4d4d4d" stroke="#4d4d4d" stroke-width="0.18" >21</text>
<line x1="394.30" y1="96.40" x2="394.30" y2="98.60" stroke="#333333" stroke-width="0.6" />
<text x="394.30" y="103.70" font-size="6.1" text-anchor="middle" font-weight="normal" fill="#4d4d4d" stroke="#4d4d4d" stroke-width="0.18" >22</text>
<text x="219.20" y="111.83" font-size="7.3" text-anchor="middle" font-weight="normal" fill="#000" stroke="#000" stroke-width="0.18" >Chromosome</text>
<text transform="translate(9.94,55.00) rotate(-90)" font-size="7.6" text-anchor="middle" fill="#000">−log<tspan font-size="5.32" dy="1.90">10</tspan><tspan dy="-1.90">(</tspan><tspan font-style="italic">p</tspan>)</text>
<text x="24.30" y="134.19" font-size="7.2" text-anchor="start" font-weight="bold" fill="#000" >PM10</text>
<line x1="73.20" y1="138.60" x2="73.20" y2="221.40" stroke="#d4d4d4" stroke-width="0.5" stroke-dasharray="1.6,1.2"/>
<line x1="102.20" y1="138.60" x2="102.20" y2="221.40" stroke="#d4d4d4" stroke-width="0.5" stroke-dasharray="1.6,1.2"/>
<line x1="127.50" y1="138.60" x2="127.50" y2="221.40" stroke="#d4d4d4" stroke-width="0.5" stroke-dasharray="1.6,1.2"/>
<line x1="151.40" y1="138.60" x2="151.40" y2="221.40" stroke="#d4d4d4" stroke-width="0.5" stroke-dasharray="1.6,1.2"/>
<line x1="173.60" y1="138.60" x2="173.60" y2="221.40" stroke="#d4d4d4" stroke-width="0.5" stroke-dasharray="1.6,1.2"/>
<line x1="194.20" y1="138.60" x2="194.20" y2="221.40" stroke="#d4d4d4" stroke-width="0.5" stroke-dasharray="1.6,1.2"/>
<line x1="214.50" y1="138.60" x2="214.50" y2="221.40" stroke="#d4d4d4" stroke-width="0.5" stroke-dasharray="1.6,1.2"/>
<line x1="232.60" y1="138.60" x2="232.60" y2="221.40" stroke="#d4d4d4" stroke-width="0.5" stroke-dasharray="1.6,1.2"/>
<line x1="249.30" y1="138.60" x2="249.30" y2="221.40" stroke="#d4d4d4" stroke-width="0.5" stroke-dasharray="1.6,1.2"/>
<line x1="266.60" y1="138.60" x2="266.60" y2="221.40" stroke="#d4d4d4" stroke-width="0.5" stroke-dasharray="1.6,1.2"/>
<line x1="283.30" y1="138.60" x2="283.30" y2="221.40" stroke="#d4d4d4" stroke-width="0.5" stroke-dasharray="1.6,1.2"/>
<line x1="298.10" y1="138.60" x2="298.10" y2="221.40" stroke="#d4d4d4" stroke-width="0.5" stroke-dasharray="1.6,1.2"/>
<line x1="313.60" y1="138.60" x2="313.60" y2="221.40" stroke="#d4d4d4" stroke-width="0.5" stroke-dasharray="1.6,1.2"/>
<line x1="327.80" y1="138.60" x2="327.80" y2="221.40" stroke="#d4d4d4" stroke-width="0.5" stroke-dasharray="1.6,1.2"/>
<line x1="339.20" y1="138.60" x2="339.20" y2="221.40" stroke="#d4d4d4" stroke-width="0.5" stroke-dasharray="1.6,1.2"/>
<line x1="349.10" y1="138.60" x2="349.10" y2="221.40" stroke="#d4d4d4" stroke-width="0.5" stroke-dasharray="1.6,1.2"/>
<line x1="359.40" y1="138.60" x2="359.40" y2="221.40" stroke="#d4d4d4" stroke-width="0.5" stroke-dasharray="1.6,1.2"/>
<line x1="368.80" y1="138.60" x2="368.80" y2="221.40" stroke="#d4d4d4" stroke-width="0.5" stroke-dasharray="1.6,1.2"/>
<line x1="377.10" y1="138.60" x2="377.10" y2="221.40" stroke="#d4d4d4" stroke-width="0.5" stroke-dasharray="1.6,1.2"/>
<line x1="384.40" y1="138.60" x2="384.40" y2="221.40" stroke="#d4d4d4" stroke-width="0.5" stroke-dasharray="1.6,1.2"/>
<line x1="391.00" y1="138.60" x2="391.00" y2="221.40" stroke="#d4d4d4" stroke-width="0.5" stroke-dasharray="1.6,1.2"/>
<line x1="24.30" y1="215.40" x2="414.30" y2="215.40" stroke="#5a9a6e" stroke-width="1.3" />
<path d="M71.1 218.2h0M44.5 216.5h0M67.5 217.8h0M62.6 216.9h0M60.7 217.5h0M60.0 216.6h0M55.5 217.1h0M64.2 218.3h0M70.9 217.4h0M56.0 216.8h0M43.9 216.4h0M56.6 216.9h0M54.0 218.1h0M58.4 217.4h0M49.8 216.3h0M52.4 216.6h0M57.9 218.3h0M62.8 216.7h0M69.2 217.9h0M64.5 218.1h0M65.4 217.9h0M53.3 218.3h0M71.3 216.6h0M65.1 217.7h0M56.5 217.4h0M57.3 218.1h0M57.6 218.0h0M53.3 218.1h0M69.4 217.2h0M59.6 218.1h0M64.2 217.3h0M49.4 216.9h0M63.5 216.6h0M69.7 216.8h0M69.8 216.9h0M71.1 217.7h0M57.7 217.3h0M62.1 217.5h0M52.0 216.7h0M58.0 218.2h0M61.2 216.5h0M67.1 217.8h0M69.7 216.7h0M64.8 216.4h0M62.1 216.8h0M49.5 218.1h0M76.9 217.3h0M97.4 216.8h0M79.8 218.1h0M85.6 217.7h0M74.9 217.0h0M78.7 217.6h0M76.3 218.2h0M74.7 217.8h0M74.6 216.8h0M96.3 216.6h0M79.0 217.7h0M84.6 216.4h0M101.1 216.6h0M75.0 217.0h0M90.9 217.8h0M77.1 217.0h0M74.8 217.2h0M95.0 217.8h0M98.7 217.8h0M97.6 217.7h0M87.0 216.8h0M92.1 216.9h0M76.8 217.2h0M98.0 216.6h0M90.0 217.1h0M88.1 216.6h0M100.3 216.8h0M90.6 217.1h0M74.5 217.4h0M77.9 216.4h0M74.9 216.6h0M76.6 217.6h0M87.9 218.3h0M99.6 218.3h0M80.4 217.2h0M80.9 217.5h0M91.1 217.9h0M93.4 216.8h0M85.6 217.4h0M74.1 216.4h0M85.2 216.5h0M93.8 216.8h0M76.7 216.7h0M108.5 216.7h0M115.3 217.2h0M110.3 217.6h0M108.0 218.1h0M125.8 217.8h0M113.3 217.3h0M116.8 216.4h0M112.9 217.4h0M107.3 216.5h0M122.0 217.0h0M115.3 218.1h0M117.5 216.9h0M126.3 217.0h0M103.5 217.7h0M105.4 216.9h0M122.9 217.6h0M103.4 217.2h0M112.7 217.3h0M107.9 217.5h0M104.7 216.9h0M111.8 218.2h0M104.8 217.8h0M107.6 217.4h0M112.3 217.2h0M120.9 217.1h0M105.9 216.5h0M104.9 218.0h0M118.2 218.2h0M119.4 216.3h0M118.6 217.9h0M120.1 217.3h0M111.5 217.2h0M121.9 216.8h0M115.5 217.3h0M125.6 217.9h0M125.1 218.0h0M110.0 216.8h0M139.2 216.8h0M137.8 217.7h0M148.8 217.5h0M146.5 216.5h0M136.2 218.3h0M131.6 217.1h0M129.8 216.5h0M148.3 218.3h0M142.8 216.6h0M134.9 216.8h0M143.3 217.7h0M138.1 217.3h0M130.8 217.4h0M149.5 217.8h0M130.4 217.3h0M144.3 216.8h0M148.3 217.2h0M144.0 217.1h0M150.5 217.9h0M141.1 216.6h0M138.1 216.4h0M141.6 218.1h0M132.3 217.3h0M139.1 217.1h0M144.1 218.2h0M144.0 217.2h0M149.8 217.0h0M144.9 217.6h0M145.3 218.0h0M133.3 217.5h0M137.3 217.6h0M150.1 217.6h0M128.6 217.2h0M144.2 218.1h0M142.8 217.9h0M152.6 218.2h0M167.2 217.5h0M170.8 218.1h0M154.3 217.9h0M168.0 216.7h0M167.5 217.5h0M156.1 217.9h0M155.0 217.5h0M161.1 216.8h0M163.9 217.2h0M156.4 218.2h0M153.7 216.3h0M162.2 218.0h0M165.8 217.8h0M162.2 217.6h0M159.1 216.8h0M162.6 216.4h0M153.8 217.8h0M155.8 217.8h0M168.4 217.1h0M166.1 217.9h0M170.0 216.6h0M155.5 217.1h0M161.8 216.9h0M152.4 217.4h0M172.1 217.0h0M163.3 217.1h0M161.3 218.0h0M158.6 217.6h0M162.2 217.4h0M171.0 216.5h0M169.2 216.9h0M165.5 217.9h0M186.8 217.1h0M190.4 216.5h0M186.4 217.1h0M184.5 218.0h0M189.6 217.6h0M180.3 216.8h0M183.1 216.8h0M179.7 218.2h0M176.5 217.9h0M181.6 217.0h0M180.4 216.5h0M183.1 216.6h0M182.8 216.9h0M191.4 218.1h0M182.8 217.6h0M192.1 217.0h0M176.3 216.8h0M178.0 217.7h0M181.5 217.0h0M189.5 216.8h0M189.8 217.6h0M182.0 217.9h0M180.9 218.1h0M192.0 217.3h0M187.5 218.2h0M188.5 217.8h0M190.9 218.2h0M188.7 218.3h0M179.9 217.5h0M187.1 217.0h0M202.4 216.6h0M212.9 217.0h0M203.9 218.1h0M198.5 218.2h0M197.4 216.4h0M201.6 217.0h0M212.2 218.1h0M209.2 217.2h0M205.1 216.8h0M210.6 217.1h0M200.3 217.6h0M197.8 216.9h0M212.3 216.5h0M197.7 216.7h0M199.7 217.1h0M199.7 217.0h0M199.6 216.8h0M206.4 217.0h0M202.0 217.8h0M196.2 216.6h0M210.9 217.2h0M209.6 216.6h0M204.8 218.0h0M201.3 217.8h0M206.4 217.1h0M213.7 217.1h0M203.9 217.5h0M200.9 218.0h0M206.2 217.5h0M205.1 218.3h0M231.6 218.0h0M222.8 217.1h0M224.0 216.4h0M217.1 218.3h0M217.4 218.2h0M226.5 218.1h0M216.6 216.9h0M228.5 216.3h0M217.0 217.0h0M218.2 216.6h0M226.4 216.5h0M231.3 217.6h0M216.1 218.1h0M219.3 217.3h0M224.5 216.6h0M223.6 216.4h0M218.6 218.1h0M228.9 217.3h0M226.6 218.1h0M217.6 217.3h0M217.5 216.5h0M217.1 216.7h0M216.2 216.7h0M221.6 217.5h0M229.5 218.1h0M227.1 217.3h0M230.4 216.6h0M235.0 217.9h0M242.9 216.7h0M239.1 216.9h0M239.9 217.2h0M239.4 217.9h0M245.7 217.4h0M240.5 216.9h0M245.0 218.3h0M236.9 217.7h0M244.0 217.6h0M233.9 217.4h0M236.5 216.7h0M242.2 217.6h0M242.8 217.8h0M244.0 217.3h0M234.1 217.8h0M245.8 218.0h0M242.4 216.4h0M236.4 216.5h0M243.0 217.4h0M236.2 218.2h0M248.2 218.1h0M240.4 216.9h0M236.6 217.9h0M244.0 216.9h0M264.3 217.4h0M256.6 217.1h0M261.4 217.2h0M260.5 216.5h0M261.1 216.8h0M264.4 216.7h0M255.3 217.4h0M256.3 217.4h0M264.6 216.7h0M262.2 217.7h0M262.4 217.2h0M257.2 217.0h0M257.5 216.8h0M253.1 217.3h0M253.1 217.2h0M259.1 216.9h0M252.8 217.5h0M263.6 216.7h0M259.8 217.6h0M264.0 217.7h0M254.9 216.7h0M263.2 216.9h0M250.3 218.0h0M253.2 216.9h0M255.1 216.8h0M278.3 217.0h0M274.1 217.1h0M280.0 216.3h0M276.2 216.6h0M269.7 217.5h0M273.1 216.4h0M276.3 218.1h0M277.1 217.3h0M279.5 218.1h0M269.7 216.9h0M282.0 218.2h0M270.5 217.7h0M280.6 217.5h0M278.0 217.3h0M270.9 216.7h0M268.3 217.6h0M269.5 217.5h0M273.3 217.2h0M282.1 217.1h0M274.6 217.1h0M270.6 216.7h0M275.4 217.9h0M268.8 218.2h0M277.6 216.4h0M278.1 217.1h0M290.9 216.5h0M290.8 217.3h0M294.4 217.5h0M293.4 217.8h0M287.0 216.3h0M290.4 216.6h0M286.0 216.9h0M291.2 217.5h0M292.6 218.2h0M285.4 217.4h0M285.2 217.6h0M289.9 216.6h0M288.2 217.6h0M290.3 218.2h0M288.8 217.0h0M296.3 217.5h0M285.5 217.9h0M288.9 218.2h0M292.5 217.9h0M295.9 217.3h0M296.9 216.4h0M288.6 218.0h0M299.0 217.6h0M312.8 217.7h0M310.9 216.5h0M306.4 217.5h0M305.0 217.1h0M309.9 216.6h0M299.5 217.5h0M312.3 218.0h0M308.3 216.9h0M311.5 216.4h0M302.3 217.9h0M311.3 217.1h0M311.5 216.5h0M307.2 216.4h0M302.1 216.7h0M299.0 217.1h0M305.9 216.9h0M308.0 216.4h0M306.1 217.4h0M304.5 218.1h0M300.7 217.2h0M305.3 217.0h0M312.4 217.4h0M320.9 217.2h0M319.9 218.2h0M324.5 217.6h0M316.4 217.5h0M316.0 217.0h0M314.7 217.7h0M326.7 217.6h0M321.6 216.8h0M320.0 217.2h0M319.7 216.8h0M317.2 217.8h0M326.4 217.9h0M322.2 216.4h0M318.2 218.0h0M326.7 217.4h0M321.6 217.7h0M317.5 217.7h0M319.0 218.0h0M320.2 217.6h0M321.4 217.4h0M320.2 218.2h0M336.0 217.1h0M333.6 218.1h0M335.9 217.6h0M338.0 216.5h0M334.5 217.5h0M333.1 218.2h0M338.1 217.1h0M334.6 217.8h0M335.4 217.0h0M336.4 217.0h0M330.0 217.6h0M335.0 217.1h0M333.5 218.3h0M336.5 217.1h0M337.5 217.4h0M332.6 217.6h0M336.3 218.1h0M345.6 217.6h0M343.3 216.4h0M343.8 216.5h0M347.8 217.0h0M345.0 217.8h0M341.5 218.0h0M342.7 216.5h0M345.0 217.1h0M347.6 217.2h0M340.8 216.3h0M340.3 217.3h0M345.9 216.4h0M342.7 217.3h0M347.4 218.2h0M357.5 217.6h0M354.9 216.7h0M355.2 216.6h0M352.5 218.0h0M354.8 217.8h0M353.9 216.9h0M354.3 217.4h0M352.0 218.0h0M358.4 216.7h0M352.0 217.9h0M356.2 216.7h0M355.0 216.8h0M357.4 217.5h0M354.3 216.6h0M353.4 217.2h0M363.0 216.7h0M361.7 217.7h0M367.4 218.0h0M365.0 217.9h0M361.2 216.7h0M365.7 216.3h0M360.9 217.9h0M361.7 216.7h0M363.3 218.0h0M360.3 218.1h0M362.6 217.4h0M363.9 216.5h0M367.7 216.7h0M366.5 218.1h0M372.6 218.2h0M370.0 216.6h0M372.8 216.4h0M375.0 217.4h0M375.0 216.9h0M369.8 218.1h0M371.0 217.1h0M370.4 217.5h0M372.7 216.7h0M369.9 217.0h0M374.8 216.6h0M371.1 217.5h0M381.5 217.9h0M381.6 218.0h0M378.8 218.1h0M378.1 216.5h0M378.5 217.9h0M380.8 218.1h0M383.5 218.2h0M381.4 217.0h0M383.4 217.8h0M379.0 217.4h0M385.3 216.3h0M388.4 217.7h0M389.5 217.8h0M385.9 217.8h0M390.1 217.7h0M387.6 216.9h0M385.5 217.6h0M390.0 216.5h0M389.3 218.1h0M393.5 218.0h0M392.6 216.9h0M394.6 218.1h0M394.4 216.5h0M396.4 217.4h0M395.6 216.8h0M393.4 216.5h0M392.7 217.2h0M393.8 217.6h0" stroke="#c4c4c4" stroke-width="2.5" stroke-linecap="round" fill="none"/>
<line x1="24.30" y1="215.60" x2="414.30" y2="215.60" stroke="#3a3a3a" stroke-width="0.8" stroke-dasharray="2.0,1.1,0.6,1.1"/>
<path d="M45.2 174.6h0M70.4 172.0h0M61.2 176.8h0M61.2 181.2h0M62.2 182.6h0M71.0 183.1h0M87.1 188.9h0M76.6 192.1h0M43.0 191.4h0M83.9 195.0h0M42.2 197.7h0M43.0 199.4h0M45.9 200.6h0M44.4 203.5h0M63.7 197.2h0M61.7 202.3h0M64.1 203.5h0M80.2 200.1h0M43.0 207.0h0M68.1 206.7h0M61.2 207.4h0M82.4 206.7h0M98.5 204.1h0M110.1 204.1h0M111.3 207.4h0M118.6 198.0h0M123.3 198.2h0M52.9 210.8h0M70.4 209.9h0M94.8 208.9h0M102.8 210.4h0M65.0 141.5h0M137.2 197.7h0M137.5 202.3h0M137.8 203.8h0M129.9 203.8h0M128.8 206.7h0M128.5 208.2h0M163.1 191.0h0M179.1 181.9h0M190.1 188.0h0M195.2 176.8h0M219.3 180.9h0M175.5 196.8h0M178.4 200.1h0M179.9 201.6h0M172.6 201.6h0M169.6 208.2h0M176.2 206.0h0M179.1 206.4h0M177.7 208.9h0M178.1 210.4h0M205.4 201.6h0M212.7 202.3h0M204.7 207.4h0M211.2 205.5h0M219.3 206.0h0M187.9 209.6h0M193.0 209.6h0M195.9 211.1h0M219.4 181.0h0M225.2 174.0h0M225.2 176.6h0M225.5 184.9h0M226.0 188.3h0M234.7 191.2h0M241.6 190.3h0M248.6 182.4h0M249.7 188.3h0M265.4 186.8h0M262.4 184.9h0M266.4 165.2h0M281.4 180.1h0M275.6 186.1h0M283.9 185.7h0M274.6 194.1h0M279.2 193.7h0M279.5 198.8h0M274.1 201.0h0M274.1 202.9h0M314.9 166.8h0M297.9 180.1h0M297.9 191.2h0M297.5 197.3h0M315.2 186.8h0M315.2 196.7h0M315.2 200.8h0M315.2 202.3h0M253.2 200.5h0M219.4 205.8h0M224.9 207.3h0M236.9 207.8h0M250.8 207.3h0M266.8 209.0h0M282.9 205.8h0M289.5 204.9h0M295.0 208.3h0M274.1 208.7h0M338.3 169.4h0M353.6 180.7h0M374.3 184.3h0M373.6 183.3h0M331.0 185.3h0M342.2 185.3h0M342.2 186.5h0M339.3 190.9h0M338.3 193.5h0M354.6 190.1h0M354.6 193.5h0M380.9 188.7h0M388.2 190.1h0M376.5 192.3h0M382.7 193.8h0M334.9 199.6h0M339.7 200.8h0M348.8 195.5h0M349.2 198.2h0M348.8 200.4h0M353.6 199.3h0M370.0 198.9h0M373.6 198.2h0M376.5 196.4h0M375.8 199.6h0M394.0 200.4h0M392.6 202.3h0M394.8 207.7h0M346.3 203.3h0M345.1 206.2h0M353.2 205.5h0M356.4 204.7h0M371.4 203.3h0M375.1 205.5h0M367.8 206.2h0M382.1 205.2h0M383.8 206.9h0M389.7 206.2h0M388.2 208.4h0M324.7 207.7h0M323.2 210.6h0M332.0 208.4h0M335.7 209.1h0M331.3 210.1h0M312.0 212.0h0M305.7 212.5h0M50.3 213.6h0M51.3 211.9h0M45.4 214.2h0M51.6 211.9h0M42.4 211.7h0M45.8 213.2h0M49.7 214.1h0M44.7 212.6h0M51.0 214.6h0M50.3 211.5h0M43.8 211.9h0M48.2 211.6h0M55.2 213.9h0M55.0 214.2h0M54.7 213.6h0M52.6 214.2h0M54.1 213.6h0M66.8 211.4h0M63.1 212.5h0M64.1 214.1h0M61.7 210.1h0M71.2 210.9h0M62.1 214.4h0M61.3 213.8h0M65.1 214.8h0M65.1 211.7h0M70.0 214.2h0M60.0 211.1h0M64.6 213.7h0M74.9 213.9h0M75.6 213.9h0M75.4 212.7h0M78.9 213.7h0M76.5 212.9h0M79.1 211.3h0M94.8 214.3h0M92.1 213.8h0M88.6 212.6h0M88.6 213.7h0M81.1 214.8h0M93.9 210.5h0M86.9 214.6h0M92.6 212.8h0M87.1 212.0h0M82.4 214.1h0M92.2 211.5h0M94.8 213.1h0M94.6 210.5h0M87.6 210.5h0M96.1 214.7h0M100.7 214.5h0M98.6 212.1h0M99.8 214.2h0M100.5 214.7h0M98.9 211.3h0M98.8 214.0h0M110.0 212.2h0M108.5 211.3h0M109.5 212.9h0M108.8 213.2h0M104.8 214.0h0M104.8 214.8h0M117.0 213.6h0M119.3 214.7h0M118.3 214.3h0M114.6 214.0h0M119.7 212.5h0M115.7 214.4h0M122.6 213.7h0M133.7 213.4h0M130.1 211.4h0M122.6 213.9h0M127.0 214.2h0M126.6 212.4h0M123.6 212.3h0M125.6 212.5h0M124.1 211.9h0M127.0 211.6h0M149.5 212.3h0M135.3 213.4h0M149.6 211.9h0M146.4 212.9h0M149.1 210.4h0M144.2 212.3h0M136.5 214.8h0M138.1 211.5h0M147.7 211.2h0M148.3 214.7h0M135.4 214.0h0M135.3 212.3h0M159.4 211.3h0M152.0 212.5h0M157.0 212.5h0M154.7 214.2h0M159.0 211.3h0M168.0 213.0h0M163.2 214.0h0M164.7 214.2h0M164.5 212.4h0M167.8 214.4h0M169.3 214.8h0M183.4 211.8h0M179.4 213.6h0M180.0 209.7h0M173.7 214.4h0M181.2 213.8h0M172.4 212.4h0M173.4 214.0h0M174.7 214.6h0M181.6 211.9h0M179.5 213.6h0M181.1 209.1h0M184.0 214.7h0M175.0 214.5h0M177.2 211.3h0M194.5 213.2h0M199.5 211.6h0M200.0 212.8h0M195.0 214.5h0M193.5 211.4h0M189.3 211.5h0M187.9 212.6h0M194.5 212.5h0M188.1 214.1h0M191.2 211.4h0M192.1 214.1h0M190.7 213.5h0M187.9 211.8h0M192.6 213.4h0M186.0 209.5h0M186.6 214.4h0M204.8 210.4h0M213.2 210.6h0M203.7 210.0h0M201.4 214.5h0M202.5 212.0h0M208.7 211.5h0M213.3 210.7h0M210.7 214.2h0M212.8 209.4h0M211.8 214.6h0M210.3 212.2h0M208.0 213.7h0M211.0 210.3h0M211.0 213.5h0M227.5 214.6h0M226.6 214.7h0M215.1 214.5h0M226.1 208.9h0M222.9 211.4h0M225.0 210.0h0M231.5 210.2h0M220.6 214.6h0M230.2 213.7h0M227.9 209.8h0M217.9 214.1h0M222.2 210.0h0M229.5 208.9h0M219.6 211.6h0M229.8 213.1h0M225.0 213.9h0M246.7 212.7h0M240.8 211.3h0M238.1 210.2h0M240.3 212.8h0M244.6 211.3h0M244.4 209.8h0M245.9 212.9h0M243.3 209.8h0M233.9 211.3h0M241.4 213.0h0M234.9 213.6h0M245.0 209.7h0M248.8 210.6h0M247.1 210.1h0M252.6 211.7h0M263.9 211.3h0M254.4 211.7h0M256.2 213.1h0M261.7 211.8h0M252.2 212.0h0M251.0 214.2h0M263.2 210.4h0M254.1 211.3h0M252.9 212.8h0M272.6 214.6h0M273.9 212.0h0M280.6 214.5h0M271.6 214.8h0M270.3 213.7h0M280.1 209.3h0M270.4 212.5h0M275.4 212.4h0M282.3 209.2h0M267.6 212.9h0M275.5 211.4h0M275.5 210.2h0M268.6 212.6h0M280.3 214.2h0M269.8 211.6h0M269.3 212.1h0M285.7 214.2h0M288.7 211.2h0M292.6 212.2h0M292.8 213.3h0M297.7 212.3h0M292.8 214.7h0M287.5 212.3h0M297.4 211.6h0M284.8 211.0h0M287.0 212.3h0M286.7 214.7h0M294.8 212.8h0M307.5 212.3h0M307.3 213.5h0M303.5 213.0h0M302.4 214.1h0M310.4 213.8h0M309.1 212.4h0M305.5 211.9h0M303.6 214.8h0M324.5 212.1h0M323.4 211.2h0M320.1 213.5h0M322.1 211.5h0M318.8 212.0h0M325.6 214.1h0M316.2 214.4h0M322.5 214.3h0M339.5 214.6h0M338.9 213.5h0M339.2 213.6h0M331.1 211.8h0M333.0 210.2h0M338.2 213.9h0M334.9 212.5h0M337.7 213.9h0M335.7 212.7h0M335.9 212.5h0M334.3 213.3h0M334.0 209.8h0M350.4 214.5h0M347.9 210.6h0M353.6 214.6h0M348.3 212.7h0M356.9 213.7h0M358.3 210.2h0M340.4 212.4h0M350.7 211.5h0M357.8 214.1h0M356.6 214.8h0M356.7 213.7h0M340.5 210.2h0M359.4 211.3h0M355.6 213.0h0M345.0 211.3h0M356.2 213.7h0M347.5 213.7h0M345.3 209.8h0M340.1 214.8h0M343.7 210.4h0M351.4 210.6h0M353.9 209.7h0M351.7 214.8h0M342.0 212.9h0M360.9 213.9h0M362.2 210.9h0M367.7 212.4h0M363.4 213.5h0M360.6 213.4h0M361.1 213.0h0M382.7 213.0h0M380.7 210.2h0M384.5 212.8h0M372.3 209.6h0M377.0 213.7h0M380.3 209.8h0M385.7 213.1h0M372.8 213.8h0M373.4 214.0h0M384.6 211.5h0M368.9 214.5h0M371.3 209.0h0M374.2 210.3h0M372.0 214.1h0M385.0 214.6h0M377.0 212.2h0M374.1 210.6h0M383.4 213.9h0M373.4 212.4h0M376.6 211.5h0M394.9 213.6h0M396.8 213.0h0M386.3 213.2h0M392.1 214.3h0M396.1 212.2h0M392.0 213.8h0M387.5 213.9h0M393.4 211.8h0M393.9 214.7h0M394.9 211.7h0M393.8 212.6h0M395.8 210.0h0" stroke="#5a9a6e" stroke-width="2.9" stroke-linecap="round" fill="none"/>
<text x="42.70" y="147.11" font-size="7.8" text-anchor="start" font-weight="normal" fill="#5a9a6e" stroke="#5a9a6e" stroke-width="0.18" >NCF2</text>
<text x="26.00" y="172.41" font-size="7.8" text-anchor="start" font-weight="normal" fill="#5a9a6e" stroke="#5a9a6e" stroke-width="0.18" >ELOA</text>
<text x="26.00" y="182.31" font-size="7.8" text-anchor="start" font-weight="normal" fill="#5a9a6e" stroke="#5a9a6e" stroke-width="0.18" >S100A11</text>
<text x="72.50" y="170.21" font-size="7.8" text-anchor="start" font-weight="normal" fill="#5a9a6e" stroke="#5a9a6e" stroke-width="0.18" >PARP1</text>
<text x="63.30" y="179.31" font-size="7.8" text-anchor="start" font-weight="normal" fill="#5a9a6e" stroke="#5a9a6e" stroke-width="0.18" >MNDA</text>
<text x="60.80" y="190.01" font-size="7.8" text-anchor="start" font-weight="normal" fill="#5a9a6e" stroke="#5a9a6e" stroke-width="0.18" >PKLR</text>
<text x="84.90" y="188.01" font-size="7.8" text-anchor="start" font-weight="normal" fill="#5a9a6e" stroke="#5a9a6e" stroke-width="0.18" >EGLN1</text>
<text x="151.20" y="188.01" font-size="7.8" text-anchor="start" font-weight="normal" fill="#5a9a6e" stroke="#5a9a6e" stroke-width="0.18" >DNPH1</text>
<text x="181.80" y="188.01" font-size="7.8" text-anchor="start" font-weight="normal" fill="#5a9a6e" stroke="#5a9a6e" stroke-width="0.18" >EIF4EBP1</text>
<text x="195.90" y="174.41" font-size="7.8" text-anchor="start" font-weight="normal" fill="#5a9a6e" stroke="#5a9a6e" stroke-width="0.18" >PSMG3</text>
<text x="227.70" y="171.91" font-size="7.8" text-anchor="start" font-weight="normal" fill="#5a9a6e" stroke="#5a9a6e" stroke-width="0.18" >CA2</text>
<text x="227.70" y="181.31" font-size="7.8" text-anchor="start" font-weight="normal" fill="#5a9a6e" stroke="#5a9a6e" stroke-width="0.18" >CA1</text>
<text x="251.20" y="187.51" font-size="7.8" text-anchor="start" font-weight="normal" fill="#5a9a6e" stroke="#5a9a6e" stroke-width="0.18" >AK4</text>
<text x="256.70" y="178.11" font-size="7.8" text-anchor="start" font-weight="normal" fill="#5a9a6e" stroke="#5a9a6e" stroke-width="0.18" >HMBS</text>
<text x="268.60" y="164.91" font-size="7.8" text-anchor="start" font-weight="normal" fill="#5a9a6e" stroke="#5a9a6e" stroke-width="0.18" >LSP1</text>
<text x="291.40" y="164.41" font-size="7.8" text-anchor="start" font-weight="normal" fill="#5a9a6e" stroke="#5a9a6e" stroke-width="0.18" >APEX1</text>
<text x="300.60" y="178.81" font-size="7.8" text-anchor="start" font-weight="normal" fill="#5a9a6e" stroke="#5a9a6e" stroke-width="0.18" >PSMD9</text>
<text x="340.80" y="174.91" font-size="7.8" text-anchor="start" font-weight="normal" fill="#5a9a6e" stroke="#5a9a6e" stroke-width="0.18" >HAGH</text>
<text x="356.00" y="186.31" font-size="7.8" text-anchor="start" font-weight="normal" fill="#5a9a6e" stroke="#5a9a6e" stroke-width="0.18" >CCL3</text>
<rect x="24.3" y="138.6" width="390.0" height="82.80000000000001" fill="none" stroke="#8c8c8c" stroke-width="0.9"/>
<line x1="22.10" y1="145.50" x2="24.30" y2="145.50" stroke="#333333" stroke-width="0.6" />
<text x="21.50" y="147.70" font-size="6.1" text-anchor="end" font-weight="normal" fill="#4d4d4d" stroke="#4d4d4d" stroke-width="0.18" >62</text>
<line x1="22.10" y1="151.29" x2="24.30" y2="151.29" stroke="#333333" stroke-width="0.6" />
<text x="21.50" y="153.49" font-size="6.1" text-anchor="end" font-weight="normal" fill="#4d4d4d" stroke="#4d4d4d" stroke-width="0.18" >57</text>
<line x1="22.10" y1="157.08" x2="24.30" y2="157.08" stroke="#333333" stroke-width="0.6" />
<text x="21.50" y="159.28" font-size="6.1" text-anchor="end" font-weight="normal" fill="#4d4d4d" stroke="#4d4d4d" stroke-width="0.18" >52</text>
<line x1="22.10" y1="162.87" x2="24.30" y2="162.87" stroke="#333333" stroke-width="0.6" />
<text x="21.50" y="165.07" font-size="6.1" text-anchor="end" font-weight="normal" fill="#4d4d4d" stroke="#4d4d4d" stroke-width="0.18" >47</text>
<line x1="22.10" y1="168.66" x2="24.30" y2="168.66" stroke="#333333" stroke-width="0.6" />
<text x="21.50" y="170.86" font-size="6.1" text-anchor="end" font-weight="normal" fill="#4d4d4d" stroke="#4d4d4d" stroke-width="0.18" >42</text>
<line x1="22.10" y1="174.45" x2="24.30" y2="174.45" stroke="#333333" stroke-width="0.6" />
<text x="21.50" y="176.65" font-size="6.1" text-anchor="end" font-weight="normal" fill="#4d4d4d" stroke="#4d4d4d" stroke-width="0.18" >37</text>
<line x1="22.10" y1="180.24" x2="24.30" y2="180.24" stroke="#333333" stroke-width="0.6" />
<text x="21.50" y="182.44" font-size="6.1" text-anchor="end" font-weight="normal" fill="#4d4d4d" stroke="#4d4d4d" stroke-width="0.18" >32</text>
<line x1="22.10" y1="186.03" x2="24.30" y2="186.03" stroke="#333333" stroke-width="0.6" />
<text x="21.50" y="188.23" font-size="6.1" text-anchor="end" font-weight="normal" fill="#4d4d4d" stroke="#4d4d4d" stroke-width="0.18" >27</text>
<line x1="22.10" y1="191.82" x2="24.30" y2="191.82" stroke="#333333" stroke-width="0.6" />
<text x="21.50" y="194.02" font-size="6.1" text-anchor="end" font-weight="normal" fill="#4d4d4d" stroke="#4d4d4d" stroke-width="0.18" >22</text>
<line x1="22.10" y1="197.61" x2="24.30" y2="197.61" stroke="#333333" stroke-width="0.6" />
<text x="21.50" y="199.81" font-size="6.1" text-anchor="end" font-weight="normal" fill="#4d4d4d" stroke="#4d4d4d" stroke-width="0.18" >17</text>
<line x1="22.10" y1="203.40" x2="24.30" y2="203.40" stroke="#333333" stroke-width="0.6" />
<text x="21.50" y="205.60" font-size="6.1" text-anchor="end" font-weight="normal" fill="#4d4d4d" stroke="#4d4d4d" stroke-width="0.18" >12</text>
<line x1="22.10" y1="209.19" x2="24.30" y2="209.19" stroke="#333333" stroke-width="0.6" />
<text x="21.50" y="211.39" font-size="6.1" text-anchor="end" font-weight="normal" fill="#4d4d4d" stroke="#4d4d4d" stroke-width="0.18" >7</text>
<line x1="22.10" y1="214.98" x2="24.30" y2="214.98" stroke="#333333" stroke-width="0.6" />
<text x="21.50" y="217.18" font-size="6.1" text-anchor="end" font-weight="normal" fill="#4d4d4d" stroke="#4d4d4d" stroke-width="0.18" >2</text>
<line x1="57.60" y1="221.40" x2="57.60" y2="223.60" stroke="#333333" stroke-width="0.6" />
<text x="57.60" y="228.40" font-size="6.1" text-anchor="middle" font-weight="normal" fill="#4d4d4d" stroke="#4d4d4d" stroke-width="0.18" >1</text>
<line x1="88.80" y1="221.40" x2="88.80" y2="223.60" stroke="#333333" stroke-width="0.6" />
<text x="88.80" y="228.40" font-size="6.1" text-anchor="middle" font-weight="normal" fill="#4d4d4d" stroke="#4d4d4d" stroke-width="0.18" >2</text>
<line x1="115.60" y1="221.40" x2="115.60" y2="223.60" stroke="#333333" stroke-width="0.6" />
<text x="115.60" y="228.40" font-size="6.1" text-anchor="middle" font-weight="normal" fill="#4d4d4d" stroke="#4d4d4d" stroke-width="0.18" >3</text>
<line x1="139.50" y1="221.40" x2="139.50" y2="223.60" stroke="#333333" stroke-width="0.6" />
<text x="139.50" y="228.40" font-size="6.1" text-anchor="middle" font-weight="normal" fill="#4d4d4d" stroke="#4d4d4d" stroke-width="0.18" >4</text>
<line x1="162.50" y1="221.40" x2="162.50" y2="223.60" stroke="#333333" stroke-width="0.6" />
<text x="162.50" y="228.40" font-size="6.1" text-anchor="middle" font-weight="normal" fill="#4d4d4d" stroke="#4d4d4d" stroke-width="0.18" >5</text>
<line x1="184.20" y1="221.40" x2="184.20" y2="223.60" stroke="#333333" stroke-width="0.6" />
<text x="184.20" y="228.40" font-size="6.1" text-anchor="middle" font-weight="normal" fill="#4d4d4d" stroke="#4d4d4d" stroke-width="0.18" >6</text>
<line x1="204.80" y1="221.40" x2="204.80" y2="223.60" stroke="#333333" stroke-width="0.6" />
<text x="204.80" y="228.40" font-size="6.1" text-anchor="middle" font-weight="normal" fill="#4d4d4d" stroke="#4d4d4d" stroke-width="0.18" >7</text>
<line x1="224.00" y1="221.40" x2="224.00" y2="223.60" stroke="#333333" stroke-width="0.6" />
<text x="224.00" y="228.40" font-size="6.1" text-anchor="middle" font-weight="normal" fill="#4d4d4d" stroke="#4d4d4d" stroke-width="0.18" >8</text>
<line x1="241.30" y1="221.40" x2="241.30" y2="223.60" stroke="#333333" stroke-width="0.6" />
<text x="241.30" y="228.40" font-size="6.1" text-anchor="middle" font-weight="normal" fill="#4d4d4d" stroke="#4d4d4d" stroke-width="0.18" >9</text>
<line x1="258.20" y1="221.40" x2="258.20" y2="223.60" stroke="#333333" stroke-width="0.6" />
<text x="258.20" y="228.40" font-size="6.1" text-anchor="middle" font-weight="normal" fill="#4d4d4d" stroke="#4d4d4d" stroke-width="0.18" >10</text>
<line x1="275.60" y1="221.40" x2="275.60" y2="223.60" stroke="#333333" stroke-width="0.6" />
<text x="275.60" y="228.40" font-size="6.1" text-anchor="middle" font-weight="normal" fill="#4d4d4d" stroke="#4d4d4d" stroke-width="0.18" >11</text>
<line x1="290.70" y1="221.40" x2="290.70" y2="223.60" stroke="#333333" stroke-width="0.6" />
<text x="290.70" y="228.40" font-size="6.1" text-anchor="middle" font-weight="normal" fill="#4d4d4d" stroke="#4d4d4d" stroke-width="0.18" >12</text>
<line x1="307.00" y1="221.40" x2="307.00" y2="223.60" stroke="#333333" stroke-width="0.6" />
<text x="307.00" y="228.40" font-size="6.1" text-anchor="middle" font-weight="normal" fill="#4d4d4d" stroke="#4d4d4d" stroke-width="0.18" >13</text>
<line x1="320.60" y1="221.40" x2="320.60" y2="223.60" stroke="#333333" stroke-width="0.6" />
<text x="320.60" y="228.40" font-size="6.1" text-anchor="middle" font-weight="normal" fill="#4d4d4d" stroke="#4d4d4d" stroke-width="0.18" >14</text>
<line x1="334.70" y1="221.40" x2="334.70" y2="223.60" stroke="#333333" stroke-width="0.6" />
<text x="334.70" y="228.40" font-size="6.1" text-anchor="middle" font-weight="normal" fill="#4d4d4d" stroke="#4d4d4d" stroke-width="0.18" >15</text>
<line x1="344.00" y1="221.40" x2="344.00" y2="223.60" stroke="#333333" stroke-width="0.6" />
<text x="344.00" y="228.40" font-size="6.1" text-anchor="middle" font-weight="normal" fill="#4d4d4d" stroke="#4d4d4d" stroke-width="0.18" >16</text>
<line x1="355.00" y1="221.40" x2="355.00" y2="223.60" stroke="#333333" stroke-width="0.6" />
<text x="355.00" y="228.40" font-size="6.1" text-anchor="middle" font-weight="normal" fill="#4d4d4d" stroke="#4d4d4d" stroke-width="0.18" >17</text>
<line x1="365.00" y1="221.40" x2="365.00" y2="223.60" stroke="#333333" stroke-width="0.6" />
<text x="365.00" y="228.40" font-size="6.1" text-anchor="middle" font-weight="normal" fill="#4d4d4d" stroke="#4d4d4d" stroke-width="0.18" >18</text>
<line x1="373.20" y1="221.40" x2="373.20" y2="223.60" stroke="#333333" stroke-width="0.6" />
<text x="373.20" y="228.40" font-size="6.1" text-anchor="middle" font-weight="normal" fill="#4d4d4d" stroke="#4d4d4d" stroke-width="0.18" >19</text>
<line x1="380.60" y1="221.40" x2="380.60" y2="223.60" stroke="#333333" stroke-width="0.6" />
<text x="380.60" y="228.40" font-size="6.1" text-anchor="middle" font-weight="normal" fill="#4d4d4d" stroke="#4d4d4d" stroke-width="0.18" >20</text>
<line x1="387.30" y1="221.40" x2="387.30" y2="223.60" stroke="#333333" stroke-width="0.6" />
<text x="387.30" y="228.40" font-size="6.1" text-anchor="middle" font-weight="normal" fill="#4d4d4d" stroke="#4d4d4d" stroke-width="0.18" >21</text>
<line x1="394.30" y1="221.40" x2="394.30" y2="223.60" stroke="#333333" stroke-width="0.6" />
<text x="394.30" y="228.40" font-size="6.1" text-anchor="middle" font-weight="normal" fill="#4d4d4d" stroke="#4d4d4d" stroke-width="0.18" >22</text>
<text x="219.20" y="236.83" font-size="7.3" text-anchor="middle" font-weight="normal" fill="#000" stroke="#000" stroke-width="0.18" >Chromosome</text>
<text transform="translate(9.94,180.00) rotate(-90)" font-size="7.6" text-anchor="middle" fill="#000">−log<tspan font-size="5.32" dy="1.90">10</tspan><tspan dy="-1.90">(</tspan><tspan font-style="italic">p</tspan>)</text>
<text x="24.30" y="258.89" font-size="7.2" text-anchor="start" font-weight="bold" fill="#000" >NO2</text>
<line x1="73.20" y1="262.60" x2="73.20" y2="346.30" stroke="#d4d4d4" stroke-width="0.5" stroke-dasharray="1.6,1.2"/>
<line x1="102.20" y1="262.60" x2="102.20" y2="346.30" stroke="#d4d4d4" stroke-width="0.5" stroke-dasharray="1.6,1.2"/>
<line x1="127.50" y1="262.60" x2="127.50" y2="346.30" stroke="#d4d4d4" stroke-width="0.5" stroke-dasharray="1.6,1.2"/>
<line x1="151.40" y1="262.60" x2="151.40" y2="346.30" stroke="#d4d4d4" stroke-width="0.5" stroke-dasharray="1.6,1.2"/>
<line x1="173.60" y1="262.60" x2="173.60" y2="346.30" stroke="#d4d4d4" stroke-width="0.5" stroke-dasharray="1.6,1.2"/>
<line x1="194.20" y1="262.60" x2="194.20" y2="346.30" stroke="#d4d4d4" stroke-width="0.5" stroke-dasharray="1.6,1.2"/>
<line x1="214.50" y1="262.60" x2="214.50" y2="346.30" stroke="#d4d4d4" stroke-width="0.5" stroke-dasharray="1.6,1.2"/>
<line x1="232.60" y1="262.60" x2="232.60" y2="346.30" stroke="#d4d4d4" stroke-width="0.5" stroke-dasharray="1.6,1.2"/>
<line x1="249.30" y1="262.60" x2="249.30" y2="346.30" stroke="#d4d4d4" stroke-width="0.5" stroke-dasharray="1.6,1.2"/>
<line x1="266.60" y1="262.60" x2="266.60" y2="346.30" stroke="#d4d4d4" stroke-width="0.5" stroke-dasharray="1.6,1.2"/>
<line x1="283.30" y1="262.60" x2="283.30" y2="346.30" stroke="#d4d4d4" stroke-width="0.5" stroke-dasharray="1.6,1.2"/>
<line x1="298.10" y1="262.60" x2="298.10" y2="346.30" stroke="#d4d4d4" stroke-width="0.5" stroke-dasharray="1.6,1.2"/>
<line x1="313.60" y1="262.60" x2="313.60" y2="346.30" stroke="#d4d4d4" stroke-width="0.5" stroke-dasharray="1.6,1.2"/>
<line x1="327.80" y1="262.60" x2="327.80" y2="346.30" stroke="#d4d4d4" stroke-width="0.5" stroke-dasharray="1.6,1.2"/>
<line x1="339.20" y1="262.60" x2="339.20" y2="346.30" stroke="#d4d4d4" stroke-width="0.5" stroke-dasharray="1.6,1.2"/>
<line x1="349.10" y1="262.60" x2="349.10" y2="346.30" stroke="#d4d4d4" stroke-width="0.5" stroke-dasharray="1.6,1.2"/>
<line x1="359.40" y1="262.60" x2="359.40" y2="346.30" stroke="#d4d4d4" stroke-width="0.5" stroke-dasharray="1.6,1.2"/>
<line x1="368.80" y1="262.60" x2="368.80" y2="346.30" stroke="#d4d4d4" stroke-width="0.5" stroke-dasharray="1.6,1.2"/>
<line x1="377.10" y1="262.60" x2="377.10" y2="346.30" stroke="#d4d4d4" stroke-width="0.5" stroke-dasharray="1.6,1.2"/>
<line x1="384.40" y1="262.60" x2="384.40" y2="346.30" stroke="#d4d4d4" stroke-width="0.5" stroke-dasharray="1.6,1.2"/>
<line x1="391.00" y1="262.60" x2="391.00" y2="346.30" stroke="#d4d4d4" stroke-width="0.5" stroke-dasharray="1.6,1.2"/>
<line x1="24.30" y1="337.70" x2="414.30" y2="337.70" stroke="#4a6aa0" stroke-width="1.3" />
<path d="M49.8 341.5h0M53.8 341.7h0M61.3 340.0h0M43.2 342.4h0M50.5 340.5h0M72.3 341.3h0M67.6 341.3h0M61.7 340.3h0M61.6 342.5h0M58.3 342.1h0M62.7 340.0h0M65.2 341.6h0M51.7 339.9h0M68.4 341.3h0M64.1 342.5h0M63.9 342.7h0M54.5 342.3h0M56.0 342.7h0M68.8 340.1h0M46.8 340.5h0M71.4 341.2h0M61.3 340.7h0M57.8 341.0h0M53.2 341.6h0M60.1 342.6h0M63.0 342.7h0M68.1 342.9h0M62.7 340.3h0M68.3 342.8h0M69.6 341.6h0M63.9 340.5h0M67.4 341.6h0M51.2 340.0h0M68.1 342.9h0M45.4 342.3h0M54.9 340.3h0M51.5 342.2h0M68.6 339.9h0M61.0 339.9h0M64.1 340.8h0M68.9 342.8h0M57.8 342.9h0M52.0 340.0h0M60.6 339.9h0M48.6 341.1h0M60.9 340.3h0M44.1 342.5h0M52.1 342.8h0M69.3 341.0h0M56.4 341.4h0M61.9 341.6h0M59.4 341.7h0M70.6 341.4h0M55.6 342.0h0M49.8 340.7h0M71.7 341.4h0M59.0 339.8h0M55.1 341.6h0M43.4 341.7h0M61.5 340.0h0M61.4 341.2h0M62.9 340.9h0M63.7 342.1h0M43.5 340.0h0M62.8 342.8h0M50.2 341.2h0M60.3 340.8h0M53.6 340.8h0M53.7 341.6h0M51.7 341.0h0M65.7 339.9h0M59.7 342.1h0M52.0 340.5h0M66.6 340.5h0M48.3 341.1h0M63.5 340.1h0M52.3 340.8h0M67.5 341.2h0M68.1 340.3h0M52.8 341.8h0M69.0 341.2h0M80.2 340.2h0M88.5 340.4h0M96.1 342.4h0M79.0 340.7h0M96.1 341.8h0M96.1 340.9h0M77.6 340.7h0M95.8 340.6h0M83.5 341.1h0M85.5 341.1h0M99.2 340.3h0M74.1 342.7h0M98.1 342.9h0M85.9 342.7h0M99.4 340.5h0M94.4 342.4h0M92.2 341.4h0M81.9 340.9h0M80.2 340.0h0M90.1 340.7h0M96.2 339.9h0M98.8 342.0h0M99.3 342.6h0M98.7 341.6h0M74.4 342.1h0M78.7 340.7h0M92.2 341.4h0M85.3 342.7h0M90.8 340.9h0M80.9 342.5h0M87.1 342.2h0M83.6 340.4h0M88.6 342.3h0M78.7 342.3h0M99.3 342.3h0M96.6 339.8h0M91.2 342.5h0M75.4 340.6h0M81.4 341.4h0M85.6 341.3h0M95.3 339.8h0M75.5 340.2h0M77.4 340.0h0M100.7 342.4h0M76.4 341.4h0M82.7 340.8h0M83.6 341.8h0M90.1 340.9h0M79.2 340.8h0M77.4 341.5h0M93.6 341.0h0M76.2 340.4h0M84.2 341.7h0M95.4 341.0h0M96.0 341.7h0M85.8 341.0h0M87.6 342.0h0M85.5 342.0h0M86.6 340.6h0M88.7 342.0h0M76.0 341.1h0M85.7 342.5h0M99.7 341.0h0M98.6 342.3h0M81.2 341.2h0M77.4 342.3h0M92.1 342.6h0M95.7 341.9h0M94.1 341.5h0M76.8 341.6h0M74.1 340.2h0M95.2 339.9h0M76.5 340.1h0M98.1 340.4h0M74.6 342.4h0M105.9 342.4h0M119.0 342.4h0M125.6 341.6h0M121.9 339.9h0M121.2 341.4h0M119.9 340.1h0M120.8 342.7h0M104.4 340.8h0M116.4 342.4h0M108.7 340.4h0M108.9 341.7h0M120.9 341.0h0M111.7 341.0h0M111.3 341.1h0M105.0 341.4h0M126.1 341.1h0M120.7 340.3h0M119.4 342.1h0M119.0 341.4h0M114.5 341.8h0M124.3 340.3h0M105.3 342.1h0M124.7 341.4h0M113.5 342.0h0M107.4 340.6h0M107.7 341.6h0M110.5 340.5h0M119.4 342.8h0M110.0 342.0h0M112.8 342.4h0M116.9 340.6h0M108.2 339.9h0M114.4 341.0h0M107.1 340.9h0M110.6 342.2h0M106.4 342.9h0M114.4 341.7h0M114.1 342.4h0M122.5 341.5h0M114.4 342.0h0M123.3 341.0h0M120.4 342.8h0M114.1 340.5h0M108.6 342.0h0M119.0 342.8h0M123.2 340.6h0M107.5 340.6h0M107.4 342.0h0M123.3 342.6h0M109.0 342.5h0M110.4 341.1h0M120.3 340.1h0M105.2 342.4h0M109.9 340.9h0M116.8 341.9h0M103.2 340.8h0M113.3 341.3h0M108.0 341.6h0M125.6 341.0h0M115.9 340.2h0M109.5 341.9h0M105.7 342.6h0M124.5 340.1h0M125.3 341.0h0M121.3 342.1h0M134.9 341.9h0M142.9 342.3h0M134.2 342.1h0M149.7 341.9h0M140.3 340.2h0M139.3 340.9h0M144.3 341.9h0M140.9 340.4h0M142.7 341.8h0M132.3 342.6h0M142.9 340.2h0M149.1 340.2h0M135.7 342.0h0M141.6 341.5h0M142.7 341.2h0M135.3 340.3h0M129.8 342.0h0M145.1 341.5h0M144.8 340.9h0M134.2 341.0h0M147.8 339.9h0M139.6 340.6h0M145.4 340.9h0M135.7 341.1h0M140.4 342.2h0M136.2 342.4h0M130.8 340.6h0M130.5 340.1h0M145.7 342.1h0M132.4 340.4h0M137.6 342.1h0M146.5 342.1h0M141.5 340.3h0M137.2 340.4h0M140.1 341.6h0M132.8 340.6h0M145.7 339.9h0M146.2 342.6h0M149.5 341.0h0M140.6 341.6h0M142.4 342.8h0M143.6 340.7h0M147.5 341.3h0M141.7 342.1h0M128.4 342.2h0M143.1 341.3h0M140.0 341.2h0M132.6 341.4h0M129.1 341.4h0M142.7 341.2h0M140.9 342.8h0M148.2 340.2h0M146.0 341.7h0M129.4 340.9h0M133.5 340.0h0M140.3 342.7h0M135.5 342.5h0M143.8 340.2h0M147.4 341.7h0M149.0 342.0h0M144.8 340.9h0M146.3 342.7h0M169.9 341.2h0M167.8 341.3h0M154.4 339.9h0M153.8 340.4h0M155.5 341.3h0M166.6 341.5h0M160.9 341.8h0M158.5 341.2h0M167.8 341.0h0M155.9 342.6h0M167.0 340.9h0M159.8 341.4h0M164.5 340.5h0M152.3 340.4h0M168.3 340.2h0M161.7 340.4h0M156.5 340.3h0M160.5 340.3h0M152.8 340.1h0M155.7 341.3h0M153.4 339.9h0M161.4 341.1h0M166.7 340.0h0M160.5 341.0h0M152.7 342.8h0M156.7 340.1h0M162.0 340.3h0M165.0 340.9h0M154.8 340.0h0M167.2 340.7h0M168.4 341.2h0M171.4 340.7h0M157.3 340.6h0M169.0 341.8h0M159.3 340.1h0M166.3 342.8h0M164.4 339.8h0M152.8 340.1h0M155.7 339.9h0M153.3 341.8h0M170.7 340.4h0M172.3 341.3h0M168.8 342.6h0M171.6 339.9h0M158.5 341.7h0M171.7 340.1h0M158.2 342.4h0M154.6 341.0h0M159.1 341.9h0M171.3 340.3h0M167.4 342.1h0M169.4 341.5h0M171.2 340.9h0M160.7 340.5h0M168.3 341.3h0M157.8 340.3h0M167.0 341.7h0M187.9 341.0h0M183.7 340.3h0M187.9 339.9h0M183.3 342.2h0M187.3 340.1h0M178.9 342.4h0M186.6 342.5h0M191.0 341.2h0M191.4 342.1h0M180.7 340.9h0M175.8 341.0h0M192.6 340.1h0M185.2 340.1h0M175.9 341.8h0M179.0 340.0h0M177.3 341.8h0M185.5 339.8h0M178.8 342.8h0M178.6 341.5h0M182.4 342.2h0M185.9 342.2h0M184.6 340.4h0M177.8 340.0h0M190.1 340.1h0M174.9 342.8h0M178.2 342.6h0M176.0 341.2h0M178.6 342.4h0M186.1 341.8h0M188.9 342.5h0M181.0 341.7h0M182.9 340.1h0M190.3 341.6h0M189.9 340.4h0M184.6 341.2h0M188.2 340.0h0M181.0 341.3h0M175.8 341.5h0M188.4 341.1h0M186.7 341.7h0M178.5 340.9h0M193.3 340.8h0M182.6 340.1h0M178.5 340.3h0M192.1 342.1h0M191.0 342.9h0M186.0 342.7h0M184.6 341.1h0M192.4 342.6h0M192.4 341.3h0M189.1 341.1h0M193.3 342.7h0M179.9 342.7h0M198.5 340.1h0M208.5 340.7h0M204.7 341.8h0M195.8 342.1h0M200.2 341.1h0M201.4 342.1h0M209.0 340.7h0M196.9 340.7h0M202.7 340.0h0M197.9 342.2h0M208.1 342.8h0M213.3 342.5h0M202.0 340.3h0M200.8 341.2h0M204.8 341.5h0M201.7 342.4h0M200.3 341.2h0M211.6 342.3h0M200.6 340.6h0M210.1 339.8h0M197.5 341.4h0M205.0 340.3h0M195.9 340.4h0M209.4 341.2h0M213.3 342.2h0M213.3 339.9h0M198.5 339.8h0M203.1 340.8h0M196.0 341.5h0M196.8 340.8h0M199.6 342.3h0M202.8 340.6h0M195.8 341.1h0M206.7 341.9h0M212.1 342.3h0M199.6 340.2h0M209.2 342.2h0M204.5 342.4h0M205.3 340.7h0M198.2 339.9h0M207.0 342.6h0M211.9 341.2h0M207.4 342.7h0M210.2 341.7h0M202.7 341.4h0M198.2 340.4h0M207.8 342.9h0M205.2 341.1h0M201.6 341.2h0M210.0 341.2h0M212.9 340.3h0M200.9 341.4h0M222.1 342.4h0M229.0 342.7h0M225.4 339.9h0M224.8 341.5h0M223.3 340.7h0M227.0 342.6h0M217.0 341.9h0M221.4 341.4h0M230.1 342.8h0M225.9 340.4h0M230.5 340.4h0M221.6 342.4h0M220.5 340.6h0M231.0 342.7h0M220.5 341.0h0M220.0 340.2h0M219.4 342.8h0M216.6 340.5h0M218.6 340.0h0M224.0 342.1h0M229.1 341.8h0M228.8 339.8h0M220.0 342.8h0M216.4 340.6h0M223.3 340.6h0M224.3 339.9h0M219.2 342.8h0M217.7 342.6h0M218.2 342.9h0M226.4 341.8h0M217.6 340.0h0M227.8 340.3h0M218.4 342.4h0M229.7 340.0h0M231.2 341.5h0M221.6 340.1h0M221.7 342.9h0M219.9 340.2h0M217.7 340.2h0M221.1 342.6h0M216.6 340.4h0M230.8 342.9h0M231.5 340.6h0M221.1 342.7h0M223.3 342.0h0M220.5 339.9h0M221.0 342.1h0M245.2 341.6h0M240.4 341.5h0M240.1 341.5h0M246.0 340.4h0M242.4 342.7h0M246.2 340.4h0M247.9 342.4h0M235.9 340.6h0M236.5 340.0h0M248.2 341.1h0M246.6 340.2h0M233.6 342.5h0M245.4 342.9h0M243.8 341.4h0M245.0 340.1h0M241.6 341.2h0M235.6 341.7h0M238.3 341.4h0M239.0 340.8h0M238.8 341.7h0M248.2 342.7h0M246.4 342.4h0M237.7 342.8h0M237.5 340.2h0M241.0 342.1h0M238.5 341.8h0M237.7 342.8h0M240.2 341.3h0M241.4 342.5h0M248.3 341.4h0M240.1 341.7h0M234.4 341.1h0M246.2 342.2h0M234.3 342.4h0M239.2 342.8h0M238.9 340.5h0M241.7 342.5h0M239.9 342.5h0M244.1 340.9h0M237.9 341.4h0M239.4 341.0h0M243.2 342.5h0M242.2 340.3h0M253.6 340.9h0M259.8 340.2h0M251.4 340.8h0M254.5 339.9h0M258.6 342.7h0M258.5 342.1h0M263.1 342.4h0M264.4 341.2h0M260.8 340.2h0M263.9 341.0h0M257.6 342.6h0M254.6 340.4h0M263.0 341.7h0M251.4 339.9h0M255.6 339.8h0M263.2 340.4h0M254.4 341.0h0M258.1 341.1h0M260.0 341.8h0M256.9 340.1h0M265.5 341.9h0M251.4 341.2h0M261.9 342.9h0M251.1 339.8h0M257.6 341.1h0M264.1 342.4h0M255.3 341.1h0M259.3 342.5h0M253.3 341.0h0M251.5 341.8h0M250.5 342.7h0M258.3 341.6h0M251.4 340.5h0M257.5 342.5h0M258.6 340.7h0M265.5 341.9h0M258.4 340.4h0M254.8 342.6h0M252.2 341.4h0M259.8 340.9h0M262.2 342.6h0M263.6 342.1h0M253.3 340.0h0M256.9 340.8h0M270.3 342.5h0M270.7 342.4h0M281.6 340.2h0M281.2 341.0h0M270.6 340.4h0M268.0 341.3h0M273.2 342.4h0M280.0 340.0h0M273.5 341.0h0M270.1 340.6h0M271.4 342.0h0M272.5 340.1h0M270.7 341.2h0M275.9 340.6h0M278.0 340.5h0M277.5 341.7h0M270.1 342.1h0M273.4 341.5h0M276.4 341.7h0M274.1 340.0h0M279.3 342.5h0M274.8 341.6h0M271.5 342.6h0M277.8 340.5h0M279.7 342.9h0M272.6 342.9h0M274.7 340.4h0M278.2 340.9h0M278.5 341.6h0M269.0 341.4h0M280.2 341.3h0M275.5 342.5h0M274.1 341.3h0M276.2 342.4h0M270.5 340.1h0M278.9 341.5h0M272.0 342.6h0M280.8 341.5h0M282.3 342.4h0M278.7 340.7h0M267.6 341.9h0M278.5 340.9h0M274.6 341.6h0M287.4 342.0h0M291.5 341.0h0M285.5 341.5h0M288.3 342.0h0M286.4 341.0h0M286.7 341.1h0M291.7 340.1h0M284.8 341.3h0M286.8 341.4h0M286.3 340.1h0M291.2 342.7h0M295.6 341.4h0M289.3 340.0h0M287.7 340.8h0M296.5 340.2h0M296.6 341.3h0M289.8 340.6h0M296.8 340.4h0M291.6 341.4h0M286.7 340.5h0M297.1 342.3h0M293.8 342.6h0M285.4 342.0h0M294.0 340.5h0M290.1 342.8h0M288.4 342.2h0M286.3 341.9h0M287.7 341.4h0M289.0 342.5h0M293.9 341.4h0M293.2 341.1h0M294.7 340.6h0M291.3 341.6h0M289.2 339.9h0M286.3 341.8h0M286.9 342.2h0M290.8 342.8h0M295.3 342.1h0M304.1 339.9h0M306.6 342.1h0M311.7 340.4h0M301.1 342.8h0M309.2 341.3h0M309.2 340.3h0M306.5 341.9h0M307.3 340.3h0M300.8 341.7h0M311.2 340.2h0M299.0 340.1h0M309.8 341.0h0M305.2 342.9h0M307.4 340.6h0M308.6 339.8h0M302.8 342.0h0M301.3 339.9h0M306.1 340.8h0M312.4 340.1h0M310.1 341.0h0M310.1 341.2h0M308.2 340.8h0M302.0 341.2h0M310.0 340.9h0M302.1 341.1h0M300.2 340.8h0M306.9 341.5h0M307.2 340.7h0M299.2 339.9h0M303.6 340.4h0M306.8 340.6h0M309.5 341.7h0M308.1 342.1h0M306.2 341.1h0M303.2 340.0h0M309.9 341.4h0M300.3 342.7h0M307.0 341.7h0M305.0 340.2h0M312.8 340.3h0M319.0 342.9h0M315.9 341.3h0M320.4 340.6h0M326.1 341.1h0M314.5 341.3h0M314.5 342.0h0M325.3 342.6h0M315.0 341.9h0M318.2 341.3h0M318.2 340.7h0M316.1 341.7h0M315.5 342.8h0M315.0 342.8h0M316.8 340.1h0M323.8 341.4h0M324.1 341.4h0M322.3 340.1h0M322.9 341.4h0M326.5 339.8h0M315.3 341.9h0M326.1 341.1h0M323.4 341.5h0M319.3 341.2h0M322.0 339.9h0M318.3 342.1h0M317.7 341.3h0M317.6 340.9h0M322.6 342.1h0M326.5 341.3h0M317.0 340.8h0M315.1 340.5h0M321.8 341.7h0M317.4 340.4h0M315.6 340.4h0M320.7 340.6h0M325.5 341.6h0M331.9 341.1h0M329.0 342.1h0M336.0 340.9h0M335.7 340.6h0M330.8 340.5h0M330.5 341.7h0M334.9 342.1h0M329.6 342.2h0M333.3 341.0h0M333.5 341.1h0M330.6 341.0h0M334.9 342.0h0M337.6 340.4h0M337.3 342.3h0M335.6 342.8h0M330.0 342.2h0M337.4 340.2h0M334.4 342.7h0M331.5 342.5h0M337.5 341.1h0M330.0 340.5h0M336.7 341.1h0M331.7 341.2h0M337.7 340.6h0M328.8 342.7h0M331.7 341.0h0M338.2 340.7h0M329.4 342.6h0M331.0 340.5h0M347.8 340.5h0M347.5 340.8h0M342.5 340.5h0M344.5 341.5h0M343.3 341.4h0M342.5 342.4h0M347.8 342.1h0M346.8 340.0h0M342.1 340.4h0M341.3 342.8h0M347.5 342.6h0M344.6 340.2h0M343.5 340.0h0M347.5 340.6h0M342.4 342.7h0M341.7 342.7h0M342.6 341.9h0M340.9 342.6h0M343.3 340.9h0M345.4 341.6h0M342.1 340.2h0M344.8 339.9h0M347.2 340.9h0M341.4 340.8h0M340.9 340.8h0M354.6 341.1h0M352.8 340.7h0M354.1 342.2h0M353.7 342.2h0M354.1 340.2h0M351.4 342.4h0M354.1 341.0h0M354.4 342.4h0M353.2 340.9h0M353.1 339.8h0M354.6 341.3h0M354.2 341.2h0M354.0 342.0h0M351.5 342.8h0M350.9 342.5h0M351.4 342.3h0M352.2 340.0h0M354.6 342.4h0M357.3 342.5h0M358.4 340.0h0M353.2 340.1h0M356.5 341.2h0M356.4 342.3h0M358.6 341.9h0M357.5 341.5h0M350.6 342.6h0M360.9 340.1h0M366.7 340.7h0M365.4 339.9h0M361.8 342.0h0M360.5 341.4h0M367.5 340.5h0M365.7 342.1h0M365.0 342.2h0M365.6 339.8h0M361.7 341.5h0M367.8 340.5h0M364.8 340.2h0M366.8 341.2h0M364.3 341.9h0M361.3 342.1h0M366.4 342.5h0M362.4 340.5h0M361.5 342.6h0M363.6 341.0h0M364.3 342.0h0M362.7 340.8h0M366.2 342.2h0M362.5 340.0h0M367.4 342.1h0M373.6 341.1h0M376.0 341.1h0M371.1 340.1h0M372.0 341.7h0M372.0 342.7h0M374.0 341.2h0M374.0 341.7h0M373.7 341.3h0M373.1 341.3h0M375.2 340.4h0M374.9 340.7h0M375.3 340.0h0M372.8 341.2h0M374.4 340.4h0M371.4 340.2h0M373.4 341.6h0M369.6 340.4h0M370.9 342.8h0M372.6 341.6h0M371.5 341.8h0M375.0 341.9h0M377.9 341.2h0M380.7 339.9h0M382.4 340.8h0M379.6 341.7h0M381.2 341.3h0M382.8 341.4h0M379.9 340.0h0M381.1 340.9h0M381.0 340.9h0M377.9 339.9h0M378.8 340.1h0M382.8 341.6h0M379.3 342.0h0M381.5 340.0h0M382.2 340.5h0M383.6 340.2h0M379.5 340.6h0M382.8 342.3h0M388.1 340.3h0M387.3 342.0h0M385.5 342.7h0M389.4 342.7h0M388.7 341.7h0M390.1 340.6h0M386.7 340.2h0M386.1 342.3h0M385.7 342.1h0M387.2 342.5h0M389.0 341.9h0M389.4 339.9h0M386.5 340.9h0M387.3 341.9h0M389.6 342.1h0M389.8 342.0h0M387.0 341.4h0M395.5 342.3h0M393.6 340.9h0M394.8 340.5h0M396.1 339.8h0M395.0 341.3h0M392.8 341.6h0M394.1 342.8h0M396.1 341.6h0M396.1 342.5h0M392.6 342.4h0M395.9 342.9h0M395.5 341.0h0M392.8 341.8h0M392.8 342.1h0M394.6 342.4h0M393.5 340.7h0" stroke="#c2c2c2" stroke-width="2.5" stroke-linecap="round" fill="none"/>
<line x1="24.30" y1="339.40" x2="414.30" y2="339.40" stroke="#3a3a3a" stroke-width="0.8" stroke-dasharray="2.0,1.1,0.6,1.1"/>
<path d="M45.2 288.0h0M65.2 285.8h0M70.4 285.1h0M61.2 305.5h0M60.8 310.4h0M61.7 315.0h0M61.2 318.2h0M43.3 317.2h0M87.1 311.8h0M83.9 318.7h0M94.8 322.6h0M101.4 326.0h0M108.7 322.6h0M112.8 326.0h0M117.4 328.2h0M120.6 330.8h0M44.4 330.8h0M50.0 328.2h0M56.4 327.4h0M62.2 330.8h0M67.8 331.1h0M71.0 325.3h0M70.7 327.0h0M83.1 327.0h0M82.4 328.9h0M86.8 329.6h0M88.2 330.4h0M85.0 331.8h0M93.3 327.4h0M103.6 331.1h0M104.0 332.8h0M97.7 333.3h0M99.9 333.3h0M93.3 334.3h0M113.0 335.2h0M118.6 334.0h0M78.0 334.7h0M72.2 335.5h0M168.2 266.6h0M137.2 297.2h0M145.5 307.4h0M128.5 310.4h0M138.7 317.7h0M137.2 322.5h0M137.2 329.3h0M129.9 326.0h0M127.3 329.8h0M129.0 331.5h0M120.7 331.2h0M172.6 317.7h0M177.4 322.0h0M178.7 325.0h0M179.6 327.4h0M200.6 322.5h0M206.1 323.9h0M196.2 327.4h0M213.4 325.7h0M214.9 326.0h0M192.3 329.8h0M198.1 330.8h0M190.8 332.3h0M195.2 333.7h0M212.7 330.1h0M213.4 332.3h0M134.6 332.7h0M149.2 332.7h0M156.5 332.7h0M142.6 334.7h0M163.5 334.7h0M171.1 335.6h0M177.7 332.3h0M201.0 333.0h0M205.4 332.3h0M226.0 308.0h0M266.5 288.0h0M279.5 306.3h0M283.9 313.6h0M274.1 317.2h0M297.5 315.0h0M314.3 306.3h0M234.7 316.5h0M248.6 321.2h0M223.0 327.0h0M226.0 326.0h0M215.7 326.0h0M246.8 328.2h0M279.2 327.0h0M283.6 326.4h0M281.4 329.3h0M282.2 331.1h0M289.7 322.0h0M289.7 323.8h0M289.5 330.4h0M314.3 325.3h0M309.9 329.9h0M225.5 331.1h0M236.6 332.3h0M252.7 332.6h0M249.3 334.3h0M266.8 332.3h0M274.1 332.8h0M298.2 334.3h0M354.6 292.4h0M353.2 295.3h0M374.3 313.9h0M341.8 315.0h0M353.6 319.7h0M330.5 320.9h0M335.7 323.8h0M315.5 325.0h0M392.3 320.1h0M389.4 322.6h0M394.8 326.7h0M371.4 323.5h0M375.1 323.8h0M376.5 326.4h0M373.6 327.4h0M346.6 326.4h0M349.5 326.4h0M354.6 329.6h0M356.1 330.8h0M353.2 331.8h0M321.8 327.4h0M324.0 329.9h0M310.1 329.9h0M315.5 330.8h0M334.2 330.8h0M338.6 328.5h0M342.2 331.1h0M363.4 330.4h0M367.8 330.4h0M383.8 328.2h0M392.6 329.6h0M395.2 331.4h0M48.2 335.3h0M44.0 335.7h0M44.5 335.4h0M45.1 336.5h0M48.8 334.5h0M47.1 336.5h0M53.2 335.1h0M56.9 335.4h0M53.3 335.1h0M55.1 336.3h0M67.1 335.9h0M67.8 334.7h0M71.8 336.9h0M66.9 333.8h0M67.9 335.4h0M70.2 337.1h0M69.5 335.2h0M67.0 336.3h0M67.4 336.9h0M66.3 336.5h0M90.0 334.8h0M83.1 335.0h0M81.8 335.8h0M78.4 334.6h0M87.5 335.0h0M77.2 334.8h0M76.2 335.7h0M83.3 337.0h0M82.3 334.5h0M85.4 336.4h0M103.4 336.3h0M104.6 336.2h0M93.1 334.2h0M93.0 336.6h0M102.8 336.9h0M99.6 334.6h0M100.3 336.3h0M102.6 334.8h0M100.1 335.5h0M96.5 336.2h0M123.9 334.2h0M108.0 336.7h0M111.6 334.9h0M111.2 336.8h0M120.3 336.8h0M123.6 336.0h0M122.4 334.8h0M111.3 334.9h0M137.5 336.6h0M130.8 334.9h0M140.1 336.4h0M145.0 336.7h0M138.0 337.0h0M136.3 334.1h0M139.0 336.8h0M134.3 335.1h0M135.0 334.1h0M131.1 334.2h0M141.2 334.4h0M151.8 337.0h0M150.9 335.5h0M150.1 336.9h0M163.5 334.6h0M164.0 334.7h0M161.9 334.6h0M162.9 335.7h0M176.4 337.1h0M171.3 336.5h0M176.9 336.9h0M184.6 335.4h0M181.1 334.1h0M173.4 334.1h0M184.4 336.5h0M171.9 334.5h0M183.3 334.5h0M176.1 335.3h0M191.1 336.6h0M194.2 334.7h0M190.9 333.9h0M190.3 333.7h0M192.4 334.4h0M198.2 333.8h0M194.7 334.9h0M192.9 334.3h0M202.7 334.5h0M205.6 337.0h0M207.6 336.4h0M202.4 336.6h0M202.2 336.5h0M218.8 333.7h0M217.9 334.2h0M220.0 334.8h0M215.2 336.5h0M212.7 335.5h0M213.2 334.7h0M214.5 335.4h0M217.0 335.2h0M223.6 336.6h0M228.9 336.7h0M228.7 334.2h0M225.9 334.2h0M228.1 334.3h0M227.3 335.0h0M243.9 336.7h0M241.7 335.4h0M241.0 335.1h0M246.8 334.5h0M245.6 336.8h0M244.1 335.2h0M247.2 337.1h0M237.2 333.7h0M239.8 334.9h0M242.7 336.0h0M255.1 335.4h0M262.8 335.6h0M260.1 336.4h0M259.0 335.3h0M259.4 334.1h0M250.1 333.7h0M257.5 336.5h0M255.5 336.9h0M252.2 334.3h0M259.0 334.2h0M251.3 336.9h0M272.3 335.5h0M279.6 336.3h0M280.2 335.1h0M270.4 334.2h0M265.6 335.1h0M268.1 337.0h0M274.5 335.4h0M277.5 336.0h0M284.4 334.2h0M267.4 337.1h0M285.1 335.8h0M266.3 336.7h0M279.4 336.7h0M272.2 334.7h0M271.8 334.8h0M284.9 334.1h0M295.8 335.2h0M291.3 335.1h0M296.1 335.3h0M293.9 334.7h0M289.9 334.8h0M300.7 337.1h0M290.5 333.7h0M288.2 334.4h0M295.1 337.0h0M295.8 337.1h0M313.1 336.5h0M313.5 334.5h0M308.8 336.2h0M312.3 334.7h0M311.4 337.0h0M311.7 334.2h0M313.7 336.3h0M316.7 335.5h0M316.2 333.8h0M315.1 335.8h0M322.9 336.5h0M312.6 334.3h0M314.7 334.1h0M355.2 335.9h0M342.0 336.9h0M356.6 335.5h0M342.2 336.6h0M339.1 333.3h0M336.5 335.0h0M349.9 335.2h0M346.6 335.7h0M338.2 333.6h0M357.2 335.0h0M339.8 333.1h0M338.4 336.6h0M349.9 333.6h0M348.5 336.8h0M359.4 336.7h0M342.3 332.7h0M354.4 334.0h0M335.0 333.4h0M343.8 337.1h0M354.3 333.0h0M334.3 335.5h0M394.8 336.0h0M375.7 333.8h0M380.1 332.6h0M393.4 333.4h0M388.6 336.6h0M388.0 334.9h0M381.4 335.0h0M375.8 336.6h0M395.2 335.9h0M369.4 332.7h0M382.3 334.4h0M376.9 336.7h0M376.6 333.5h0M374.8 333.1h0M375.7 333.2h0M371.7 335.5h0M370.1 336.7h0M382.7 335.9h0M383.2 336.5h0M375.9 336.1h0M394.7 336.9h0M379.3 333.4h0M384.3 336.3h0M397.9 336.8h0" stroke="#4a6aa0" stroke-width="2.9" stroke-linecap="round" fill="none"/>
<text x="26.00" y="297.71" font-size="7.8" text-anchor="start" font-weight="normal" fill="#4a6aa0" stroke="#4a6aa0" stroke-width="0.18" >ELOA</text>
<text x="49.60" y="292.01" font-size="7.8" text-anchor="start" font-weight="normal" fill="#4a6aa0" stroke="#4a6aa0" stroke-width="0.18" >NCF2</text>
<text x="73.20" y="285.31" font-size="7.8" text-anchor="start" font-weight="normal" fill="#4a6aa0" stroke="#4a6aa0" stroke-width="0.18" >PARP1</text>
<text x="64.00" y="303.91" font-size="7.8" text-anchor="start" font-weight="normal" fill="#4a6aa0" stroke="#4a6aa0" stroke-width="0.18" >S100A12</text>
<text x="26.80" y="308.91" font-size="7.8" text-anchor="start" font-weight="normal" fill="#4a6aa0" stroke="#4a6aa0" stroke-width="0.18" >S100A11</text>
<text x="62.50" y="322.51" font-size="7.8" text-anchor="start" font-weight="normal" fill="#4a6aa0" stroke="#4a6aa0" stroke-width="0.18" >MNDA</text>
<text x="88.80" y="318.81" font-size="7.8" text-anchor="start" font-weight="normal" fill="#4a6aa0" stroke="#4a6aa0" stroke-width="0.18" >IL1B</text>
<text x="107.20" y="315.61" font-size="7.8" text-anchor="start" font-weight="normal" fill="#4a6aa0" stroke="#4a6aa0" stroke-width="0.18" >LYAR</text>
<text x="110.00" y="297.01" font-size="7.8" text-anchor="start" font-weight="normal" fill="#4a6aa0" stroke="#4a6aa0" stroke-width="0.18" >CXCL5</text>
<text x="148.00" y="307.31" font-size="7.8" text-anchor="start" font-weight="normal" fill="#4a6aa0" stroke="#4a6aa0" stroke-width="0.18" >IL15</text>
<text x="170.60" y="272.61" font-size="7.8" text-anchor="start" font-weight="normal" fill="#4a6aa0" stroke="#4a6aa0" stroke-width="0.18" >CXCL14</text>
<text x="207.60" y="312.61" font-size="7.8" text-anchor="start" font-weight="normal" fill="#4a6aa0" stroke="#4a6aa0" stroke-width="0.18" >NBN</text>
<text x="245.50" y="292.51" font-size="7.8" text-anchor="start" font-weight="normal" fill="#4a6aa0" stroke="#4a6aa0" stroke-width="0.18" >LSP1</text>
<text x="251.70" y="304.41" font-size="7.8" text-anchor="start" font-weight="normal" fill="#4a6aa0" stroke="#4a6aa0" stroke-width="0.18" >CASP1</text>
<text x="261.70" y="313.11" font-size="7.8" text-anchor="start" font-weight="normal" fill="#4a6aa0" stroke="#4a6aa0" stroke-width="0.18" >OLR1</text>
<text x="300.10" y="318.81" font-size="7.8" text-anchor="start" font-weight="normal" fill="#4a6aa0" stroke="#4a6aa0" stroke-width="0.18" >PXN</text>
<text x="317.90" y="305.61" font-size="7.8" text-anchor="start" font-weight="normal" fill="#4a6aa0" stroke="#4a6aa0" stroke-width="0.18" >APEX1</text>
<text x="356.60" y="292.01" font-size="7.8" text-anchor="start" font-weight="normal" fill="#4a6aa0" stroke="#4a6aa0" stroke-width="0.18" >CSF3</text>
<text x="355.80" y="301.41" font-size="7.8" text-anchor="start" font-weight="normal" fill="#4a6aa0" stroke="#4a6aa0" stroke-width="0.18" >OMG</text>
<text x="376.90" y="314.31" font-size="7.8" text-anchor="start" font-weight="normal" fill="#4a6aa0" stroke="#4a6aa0" stroke-width="0.18" >CLC</text>
<rect x="24.3" y="262.6" width="390.0" height="83.69999999999999" fill="none" stroke="#8c8c8c" stroke-width="0.9"/>
<line x1="22.10" y1="276.00" x2="24.30" y2="276.00" stroke="#333333" stroke-width="0.6" />
<text x="21.50" y="278.20" font-size="6.1" text-anchor="end" font-weight="normal" fill="#4d4d4d" stroke="#4d4d4d" stroke-width="0.18" >27</text>
<line x1="22.10" y1="288.50" x2="24.30" y2="288.50" stroke="#333333" stroke-width="0.6" />
<text x="21.50" y="290.70" font-size="6.1" text-anchor="end" font-weight="normal" fill="#4d4d4d" stroke="#4d4d4d" stroke-width="0.18" >22</text>
<line x1="22.10" y1="300.90" x2="24.30" y2="300.90" stroke="#333333" stroke-width="0.6" />
<text x="21.50" y="303.10" font-size="6.1" text-anchor="end" font-weight="normal" fill="#4d4d4d" stroke="#4d4d4d" stroke-width="0.18" >17</text>
<line x1="22.10" y1="313.30" x2="24.30" y2="313.30" stroke="#333333" stroke-width="0.6" />
<text x="21.50" y="315.50" font-size="6.1" text-anchor="end" font-weight="normal" fill="#4d4d4d" stroke="#4d4d4d" stroke-width="0.18" >12</text>
<line x1="22.10" y1="325.40" x2="24.30" y2="325.40" stroke="#333333" stroke-width="0.6" />
<text x="21.50" y="327.60" font-size="6.1" text-anchor="end" font-weight="normal" fill="#4d4d4d" stroke="#4d4d4d" stroke-width="0.18" >7</text>
<line x1="22.10" y1="337.60" x2="24.30" y2="337.60" stroke="#333333" stroke-width="0.6" />
<text x="21.50" y="339.80" font-size="6.1" text-anchor="end" font-weight="normal" fill="#4d4d4d" stroke="#4d4d4d" stroke-width="0.18" >2</text>
<line x1="57.60" y1="346.30" x2="57.60" y2="348.50" stroke="#333333" stroke-width="0.6" />
<text x="57.60" y="353.20" font-size="6.1" text-anchor="middle" font-weight="normal" fill="#4d4d4d" stroke="#4d4d4d" stroke-width="0.18" >1</text>
<line x1="88.80" y1="346.30" x2="88.80" y2="348.50" stroke="#333333" stroke-width="0.6" />
<text x="88.80" y="353.20" font-size="6.1" text-anchor="middle" font-weight="normal" fill="#4d4d4d" stroke="#4d4d4d" stroke-width="0.18" >2</text>
<line x1="115.60" y1="346.30" x2="115.60" y2="348.50" stroke="#333333" stroke-width="0.6" />
<text x="115.60" y="353.20" font-size="6.1" text-anchor="middle" font-weight="normal" fill="#4d4d4d" stroke="#4d4d4d" stroke-width="0.18" >3</text>
<line x1="139.50" y1="346.30" x2="139.50" y2="348.50" stroke="#333333" stroke-width="0.6" />
<text x="139.50" y="353.20" font-size="6.1" text-anchor="middle" font-weight="normal" fill="#4d4d4d" stroke="#4d4d4d" stroke-width="0.18" >4</text>
<line x1="162.50" y1="346.30" x2="162.50" y2="348.50" stroke="#333333" stroke-width="0.6" />
<text x="162.50" y="353.20" font-size="6.1" text-anchor="middle" font-weight="normal" fill="#4d4d4d" stroke="#4d4d4d" stroke-width="0.18" >5</text>
<line x1="184.20" y1="346.30" x2="184.20" y2="348.50" stroke="#333333" stroke-width="0.6" />
<text x="184.20" y="353.20" font-size="6.1" text-anchor="middle" font-weight="normal" fill="#4d4d4d" stroke="#4d4d4d" stroke-width="0.18" >6</text>
<line x1="204.80" y1="346.30" x2="204.80" y2="348.50" stroke="#333333" stroke-width="0.6" />
<text x="204.80" y="353.20" font-size="6.1" text-anchor="middle" font-weight="normal" fill="#4d4d4d" stroke="#4d4d4d" stroke-width="0.18" >7</text>
<line x1="224.00" y1="346.30" x2="224.00" y2="348.50" stroke="#333333" stroke-width="0.6" />
<text x="224.00" y="353.20" font-size="6.1" text-anchor="middle" font-weight="normal" fill="#4d4d4d" stroke="#4d4d4d" stroke-width="0.18" >8</text>
<line x1="241.30" y1="346.30" x2="241.30" y2="348.50" stroke="#333333" stroke-width="0.6" />
<text x="241.30" y="353.20" font-size="6.1" text-anchor="middle" font-weight="normal" fill="#4d4d4d" stroke="#4d4d4d" stroke-width="0.18" >9</text>
<line x1="258.20" y1="346.30" x2="258.20" y2="348.50" stroke="#333333" stroke-width="0.6" />
<text x="258.20" y="353.20" font-size="6.1" text-anchor="middle" font-weight="normal" fill="#4d4d4d" stroke="#4d4d4d" stroke-width="0.18" >10</text>
<line x1="275.60" y1="346.30" x2="275.60" y2="348.50" stroke="#333333" stroke-width="0.6" />
<text x="275.60" y="353.20" font-size="6.1" text-anchor="middle" font-weight="normal" fill="#4d4d4d" stroke="#4d4d4d" stroke-width="0.18" >11</text>
<line x1="290.70" y1="346.30" x2="290.70" y2="348.50" stroke="#333333" stroke-width="0.6" />
<text x="290.70" y="353.20" font-size="6.1" text-anchor="middle" font-weight="normal" fill="#4d4d4d" stroke="#4d4d4d" stroke-width="0.18" >12</text>
<line x1="307.00" y1="346.30" x2="307.00" y2="348.50" stroke="#333333" stroke-width="0.6" />
<text x="307.00" y="353.20" font-size="6.1" text-anchor="middle" font-weight="normal" fill="#4d4d4d" stroke="#4d4d4d" stroke-width="0.18" >13</text>
<line x1="320.60" y1="346.30" x2="320.60" y2="348.50" stroke="#333333" stroke-width="0.6" />
<text x="320.60" y="353.20" font-size="6.1" text-anchor="middle" font-weight="normal" fill="#4d4d4d" stroke="#4d4d4d" stroke-width="0.18" >14</text>
<line x1="334.70" y1="346.30" x2="334.70" y2="348.50" stroke="#333333" stroke-width="0.6" />
<text x="334.70" y="353.20" font-size="6.1" text-anchor="middle" font-weight="normal" fill="#4d4d4d" stroke="#4d4d4d" stroke-width="0.18" >15</text>
<line x1="344.00" y1="346.30" x2="344.00" y2="348.50" stroke="#333333" stroke-width="0.6" />
<text x="344.00" y="353.20" font-size="6.1" text-anchor="middle" font-weight="normal" fill="#4d4d4d" stroke="#4d4d4d" stroke-width="0.18" >16</text>
<line x1="355.00" y1="346.30" x2="355.00" y2="348.50" stroke="#333333" stroke-width="0.6" />
<text x="355.00" y="353.20" font-size="6.1" text-anchor="middle" font-weight="normal" fill="#4d4d4d" stroke="#4d4d4d" stroke-width="0.18" >17</text>
<line x1="365.00" y1="346.30" x2="365.00" y2="348.50" stroke="#333333" stroke-width="0.6" />
<text x="365.00" y="353.20" font-size="6.1" text-anchor="middle" font-weight="normal" fill="#4d4d4d" stroke="#4d4d4d" stroke-width="0.18" >18</text>
<line x1="373.20" y1="346.30" x2="373.20" y2="348.50" stroke="#333333" stroke-width="0.6" />
<text x="373.20" y="353.20" font-size="6.1" text-anchor="middle" font-weight="normal" fill="#4d4d4d" stroke="#4d4d4d" stroke-width="0.18" >19</text>
<line x1="380.60" y1="346.30" x2="380.60" y2="348.50" stroke="#333333" stroke-width="0.6" />
<text x="380.60" y="353.20" font-size="6.1" text-anchor="middle" font-weight="normal" fill="#4d4d4d" stroke="#4d4d4d" stroke-width="0.18" >20</text>
<line x1="387.30" y1="346.30" x2="387.30" y2="348.50" stroke="#333333" stroke-width="0.6" />
<text x="387.30" y="353.20" font-size="6.1" text-anchor="middle" font-weight="normal" fill="#4d4d4d" stroke="#4d4d4d" stroke-width="0.18" >21</text>
<line x1="394.30" y1="346.30" x2="394.30" y2="348.50" stroke="#333333" stroke-width="0.6" />
<text x="394.30" y="353.20" font-size="6.1" text-anchor="middle" font-weight="normal" fill="#4d4d4d" stroke="#4d4d4d" stroke-width="0.18" >22</text>
<text x="219.20" y="361.23" font-size="7.3" text-anchor="middle" font-weight="normal" fill="#000" stroke="#000" stroke-width="0.18" >Chromosome</text>
<text transform="translate(9.94,304.45) rotate(-90)" font-size="7.6" text-anchor="middle" fill="#000">−log<tspan font-size="5.32" dy="1.90">10</tspan><tspan dy="-1.90">(</tspan><tspan font-style="italic">p</tspan>)</text>
<text x="24.30" y="384.19" font-size="7.2" text-anchor="start" font-weight="bold" fill="#000" >NOx</text>
<line x1="73.20" y1="387.40" x2="73.20" y2="471.10" stroke="#d4d4d4" stroke-width="0.5" stroke-dasharray="1.6,1.2"/>
<line x1="102.20" y1="387.40" x2="102.20" y2="471.10" stroke="#d4d4d4" stroke-width="0.5" stroke-dasharray="1.6,1.2"/>
<line x1="127.50" y1="387.40" x2="127.50" y2="471.10" stroke="#d4d4d4" stroke-width="0.5" stroke-dasharray="1.6,1.2"/>
<line x1="151.40" y1="387.40" x2="151.40" y2="471.10" stroke="#d4d4d4" stroke-width="0.5" stroke-dasharray="1.6,1.2"/>
<line x1="173.60" y1="387.40" x2="173.60" y2="471.10" stroke="#d4d4d4" stroke-width="0.5" stroke-dasharray="1.6,1.2"/>
<line x1="194.20" y1="387.40" x2="194.20" y2="471.10" stroke="#d4d4d4" stroke-width="0.5" stroke-dasharray="1.6,1.2"/>
<line x1="214.50" y1="387.40" x2="214.50" y2="471.10" stroke="#d4d4d4" stroke-width="0.5" stroke-dasharray="1.6,1.2"/>
<line x1="232.60" y1="387.40" x2="232.60" y2="471.10" stroke="#d4d4d4" stroke-width="0.5" stroke-dasharray="1.6,1.2"/>
<line x1="249.30" y1="387.40" x2="249.30" y2="471.10" stroke="#d4d4d4" stroke-width="0.5" stroke-dasharray="1.6,1.2"/>
<line x1="266.60" y1="387.40" x2="266.60" y2="471.10" stroke="#d4d4d4" stroke-width="0.5" stroke-dasharray="1.6,1.2"/>
<line x1="283.30" y1="387.40" x2="283.30" y2="471.10" stroke="#d4d4d4" stroke-width="0.5" stroke-dasharray="1.6,1.2"/>
<line x1="298.10" y1="387.40" x2="298.10" y2="471.10" stroke="#d4d4d4" stroke-width="0.5" stroke-dasharray="1.6,1.2"/>
<line x1="313.60" y1="387.40" x2="313.60" y2="471.10" stroke="#d4d4d4" stroke-width="0.5" stroke-dasharray="1.6,1.2"/>
<line x1="327.80" y1="387.40" x2="327.80" y2="471.10" stroke="#d4d4d4" stroke-width="0.5" stroke-dasharray="1.6,1.2"/>
<line x1="339.20" y1="387.40" x2="339.20" y2="471.10" stroke="#d4d4d4" stroke-width="0.5" stroke-dasharray="1.6,1.2"/>
<line x1="349.10" y1="387.40" x2="349.10" y2="471.10" stroke="#d4d4d4" stroke-width="0.5" stroke-dasharray="1.6,1.2"/>
<line x1="359.40" y1="387.40" x2="359.40" y2="471.10" stroke="#d4d4d4" stroke-width="0.5" stroke-dasharray="1.6,1.2"/>
<line x1="368.80" y1="387.40" x2="368.80" y2="471.10" stroke="#d4d4d4" stroke-width="0.5" stroke-dasharray="1.6,1.2"/>
<line x1="377.10" y1="387.40" x2="377.10" y2="471.10" stroke="#d4d4d4" stroke-width="0.5" stroke-dasharray="1.6,1.2"/>
<line x1="384.40" y1="387.40" x2="384.40" y2="471.10" stroke="#d4d4d4" stroke-width="0.5" stroke-dasharray="1.6,1.2"/>
<line x1="391.00" y1="387.40" x2="391.00" y2="471.10" stroke="#d4d4d4" stroke-width="0.5" stroke-dasharray="1.6,1.2"/>
<line x1="24.30" y1="453.90" x2="414.30" y2="453.90" stroke="#6b67b6" stroke-width="1.6" />
<path d="M49.8 459.9h0M54.5 460.3h0M44.8 462.4h0M70.0 465.7h0M65.4 460.9h0M58.7 461.3h0M47.9 459.9h0M49.1 466.8h0M67.3 465.8h0M66.5 460.6h0M52.0 464.3h0M64.5 466.2h0M68.8 459.7h0M60.7 464.6h0M57.8 460.5h0M56.8 459.8h0M70.5 466.3h0M59.0 461.5h0M69.7 463.8h0M68.9 466.1h0M57.8 462.5h0M60.5 462.6h0M47.6 461.6h0M66.9 459.4h0M44.2 464.3h0M51.1 463.5h0M56.7 461.9h0M72.3 460.6h0M55.0 460.7h0M61.5 461.3h0M53.3 465.3h0M52.3 463.7h0M69.6 459.8h0M44.6 460.9h0M65.4 464.2h0M49.8 461.8h0M48.1 462.9h0M44.1 464.9h0M69.3 467.0h0M64.6 467.1h0M43.3 461.4h0M71.4 465.5h0M54.9 466.9h0M61.2 465.9h0M51.5 460.6h0M55.9 460.1h0M54.1 467.1h0M52.6 459.1h0M44.1 460.4h0M66.0 462.0h0M51.4 459.8h0M71.9 462.6h0M49.0 459.5h0M44.4 460.4h0M62.8 460.3h0M44.0 463.1h0M50.2 467.4h0M46.4 463.4h0M65.7 462.4h0M72.0 463.0h0M50.0 462.4h0M43.9 462.5h0M50.2 466.5h0M67.4 463.2h0M43.7 461.1h0M50.0 460.7h0M49.7 466.3h0M47.0 459.4h0M70.3 463.7h0M72.1 462.4h0M69.5 464.5h0M66.2 465.3h0M57.4 459.8h0M49.0 466.3h0M69.4 466.8h0M52.8 464.5h0M66.5 464.4h0M66.9 463.4h0M62.2 464.8h0M50.7 466.8h0M71.1 459.6h0M71.5 467.1h0M62.6 459.4h0M69.4 460.1h0M71.5 464.6h0M44.6 460.4h0M61.6 463.8h0M64.9 466.8h0M49.3 459.0h0M70.1 459.1h0M68.7 460.0h0M66.8 465.6h0M68.8 463.6h0M98.1 460.7h0M92.4 461.8h0M98.4 465.5h0M86.9 463.4h0M74.7 459.3h0M90.3 463.1h0M97.7 464.1h0M77.8 462.0h0M95.0 463.4h0M74.3 466.0h0M96.7 459.7h0M88.9 462.2h0M95.6 461.6h0M80.4 463.1h0M100.5 459.8h0M77.1 464.2h0M98.3 463.3h0M85.9 466.2h0M95.3 459.6h0M98.1 460.6h0M82.3 466.0h0M85.6 465.7h0M78.6 466.3h0M78.8 460.3h0M87.5 461.8h0M88.8 466.6h0M93.5 459.0h0M82.5 463.6h0M87.3 465.0h0M87.3 459.6h0M80.7 466.1h0M83.8 465.4h0M101.0 464.3h0M92.5 464.1h0M82.6 466.7h0M86.8 466.7h0M82.4 466.3h0M95.6 464.1h0M86.1 460.2h0M95.1 462.0h0M92.1 460.1h0M76.3 460.2h0M96.2 460.5h0M98.7 462.1h0M89.8 461.9h0M91.0 459.8h0M85.0 466.9h0M78.9 464.5h0M83.0 461.5h0M74.6 459.2h0M100.0 466.0h0M96.0 465.8h0M100.1 460.3h0M90.0 463.2h0M89.7 466.9h0M94.8 467.1h0M77.2 464.5h0M92.5 465.3h0M90.9 466.0h0M82.3 466.8h0M85.1 464.0h0M98.6 464.9h0M82.5 460.9h0M82.9 464.3h0M101.3 466.6h0M85.0 462.4h0M96.4 461.4h0M85.3 459.1h0M79.0 463.5h0M93.0 464.2h0M84.0 467.0h0M91.1 460.3h0M75.9 467.2h0M101.1 466.7h0M90.5 461.6h0M76.5 461.2h0M80.1 466.8h0M98.5 465.5h0M78.1 461.0h0M82.2 467.0h0M78.5 465.6h0M92.7 463.6h0M100.3 461.2h0M88.4 460.3h0M76.7 459.3h0M82.7 460.0h0M75.7 467.3h0M109.9 466.5h0M119.6 465.1h0M118.5 467.0h0M123.8 465.0h0M116.3 464.8h0M120.2 463.6h0M114.9 460.3h0M123.0 463.1h0M104.6 460.4h0M123.7 461.2h0M112.3 464.7h0M123.4 461.8h0M112.2 462.6h0M103.7 466.4h0M103.5 467.1h0M106.6 460.3h0M123.1 465.9h0M108.5 463.6h0M114.3 465.0h0M107.4 465.9h0M126.6 464.9h0M124.8 466.9h0M112.0 466.1h0M122.8 463.9h0M105.5 464.2h0M124.6 461.6h0M118.3 466.5h0M117.2 459.3h0M118.0 461.1h0M123.3 464.6h0M110.3 466.5h0M117.8 461.8h0M122.8 466.5h0M124.2 466.4h0M118.6 464.9h0M117.3 463.4h0M126.4 462.0h0M104.9 465.0h0M114.8 463.6h0M117.2 461.1h0M107.8 459.6h0M121.5 466.6h0M119.5 460.0h0M126.2 465.9h0M115.1 459.0h0M123.0 464.2h0M117.7 459.2h0M120.4 459.3h0M114.3 460.2h0M111.5 466.5h0M120.7 465.9h0M110.1 462.3h0M117.3 459.3h0M112.8 467.2h0M120.9 466.2h0M110.1 464.8h0M121.7 464.9h0M113.4 460.5h0M103.4 466.5h0M125.1 461.3h0M120.9 462.4h0M117.9 466.1h0M110.6 464.2h0M109.1 463.3h0M103.7 461.2h0M109.8 466.7h0M106.1 465.4h0M105.1 467.3h0M106.9 459.8h0M108.0 466.8h0M118.8 466.5h0M114.8 460.0h0M111.1 462.8h0M126.5 460.4h0M108.8 466.1h0M130.8 467.2h0M134.9 463.8h0M143.0 466.6h0M130.0 466.1h0M132.3 465.0h0M128.9 465.4h0M132.3 460.7h0M129.1 461.7h0M135.6 467.3h0M141.8 462.1h0M150.4 460.4h0M133.1 467.0h0M149.5 464.7h0M150.1 459.5h0M148.4 464.9h0M143.2 466.1h0M130.6 460.7h0M131.4 463.0h0M140.5 463.5h0M136.4 465.2h0M147.0 465.4h0M129.1 460.3h0M133.2 461.0h0M141.1 460.6h0M142.2 461.9h0M136.4 464.9h0M149.4 460.6h0M136.1 467.2h0M133.0 459.2h0M132.6 465.9h0M144.6 466.9h0M139.4 459.3h0M135.1 465.0h0M137.1 460.2h0M136.7 462.9h0M136.2 462.7h0M131.3 459.3h0M145.8 465.2h0M137.6 460.0h0M134.9 463.7h0M148.3 463.0h0M150.0 463.4h0M132.3 464.2h0M141.7 464.0h0M144.5 459.2h0M138.0 465.7h0M131.4 459.4h0M132.4 461.4h0M138.0 461.6h0M142.4 460.4h0M136.0 464.7h0M140.4 467.1h0M149.2 461.2h0M135.8 463.5h0M140.4 462.1h0M147.5 460.7h0M138.8 460.0h0M148.0 464.0h0M150.3 460.2h0M144.2 464.0h0M129.4 465.9h0M147.8 459.7h0M149.3 465.6h0M141.8 463.6h0M134.2 459.5h0M138.9 466.3h0M133.0 463.0h0M134.6 464.8h0M149.7 466.5h0M134.7 462.5h0M128.4 463.4h0M169.8 466.1h0M153.7 462.6h0M153.8 462.6h0M171.0 461.4h0M169.6 467.0h0M169.1 460.7h0M171.1 466.8h0M172.8 459.1h0M152.3 461.4h0M162.9 462.6h0M154.1 464.4h0M166.0 464.3h0M162.7 463.6h0M166.4 459.5h0M161.2 460.1h0M154.3 465.4h0M158.9 461.9h0M157.9 463.9h0M154.6 464.4h0M153.7 467.0h0M155.4 465.4h0M163.4 462.6h0M158.5 462.0h0M167.8 463.4h0M163.2 461.1h0M165.1 460.4h0M162.1 464.5h0M163.4 463.9h0M163.9 460.6h0M171.9 464.7h0M167.1 467.0h0M161.5 461.8h0M158.5 461.7h0M158.4 461.7h0M156.5 463.1h0M158.2 462.1h0M165.9 461.6h0M170.0 465.7h0M159.0 466.0h0M155.8 459.8h0M172.7 459.3h0M152.3 466.3h0M152.3 464.5h0M163.6 460.9h0M157.3 467.1h0M160.3 461.0h0M161.3 465.2h0M158.2 459.7h0M168.5 459.8h0M153.3 459.0h0M172.7 462.6h0M167.4 463.7h0M172.3 461.9h0M159.4 464.7h0M152.2 462.1h0M167.8 463.8h0M162.3 466.9h0M161.1 465.1h0M160.3 459.7h0M160.2 460.8h0M152.8 461.4h0M154.8 462.8h0M167.4 465.4h0M170.4 461.7h0M166.0 466.5h0M160.4 466.7h0M176.4 466.7h0M191.1 467.2h0M190.2 465.0h0M182.7 465.0h0M191.1 463.8h0M186.2 466.8h0M179.8 461.8h0M175.1 466.4h0M186.4 464.7h0M178.9 460.6h0M183.5 466.4h0M181.1 462.5h0M182.3 466.1h0M176.8 466.3h0M174.6 464.9h0M188.9 462.9h0M188.5 461.4h0M177.1 462.0h0M179.4 465.0h0M185.1 464.6h0M192.9 465.5h0M189.4 467.1h0M192.0 465.2h0M181.0 463.3h0M188.8 465.6h0M191.5 465.2h0M187.1 461.1h0M186.2 460.6h0M186.7 460.5h0M174.7 467.0h0M190.9 461.6h0M175.3 465.9h0M189.1 460.3h0M189.9 466.0h0M185.3 461.3h0M175.5 459.5h0M182.8 465.1h0M186.5 460.9h0M189.6 459.5h0M186.1 460.5h0M174.5 460.6h0M189.5 460.8h0M174.7 463.1h0M181.0 463.8h0M185.4 464.9h0M191.8 461.8h0M186.5 460.0h0M179.2 459.8h0M190.8 461.8h0M187.9 466.4h0M181.7 460.7h0M179.1 463.1h0M181.8 459.6h0M190.6 464.4h0M191.0 466.1h0M188.2 465.9h0M187.8 462.6h0M190.0 466.7h0M176.4 460.2h0M177.6 462.8h0M190.8 463.4h0M211.0 462.1h0M205.6 461.1h0M207.0 461.3h0M195.1 462.3h0M205.5 466.4h0M200.4 466.8h0M210.2 460.3h0M209.6 466.9h0M213.0 464.8h0M202.3 463.6h0M207.2 464.1h0M198.5 466.4h0M205.1 459.6h0M200.7 459.7h0M203.6 459.8h0M204.9 461.3h0M210.5 465.5h0M198.5 465.8h0M205.9 461.3h0M212.0 459.1h0M202.5 464.0h0M198.0 463.1h0M211.5 461.9h0M208.3 460.6h0M213.2 467.1h0M198.1 465.4h0M201.2 459.3h0M198.9 465.1h0M203.7 463.4h0M197.4 460.4h0M201.8 463.3h0M210.3 462.8h0M201.1 466.7h0M207.9 465.3h0M210.1 463.1h0M199.9 459.9h0M207.3 465.3h0M211.9 466.7h0M204.4 463.1h0M213.0 459.7h0M202.0 463.6h0M206.3 464.1h0M198.0 463.3h0M198.3 462.2h0M198.3 461.7h0M206.7 462.4h0M198.1 462.9h0M207.5 461.5h0M200.1 462.7h0M208.0 459.3h0M207.6 459.5h0M211.6 460.6h0M210.4 459.3h0M204.2 461.2h0M209.5 465.5h0M197.4 459.4h0M208.7 462.5h0M202.0 461.9h0M201.9 463.8h0M202.3 460.1h0M223.1 467.3h0M228.0 465.0h0M230.6 462.7h0M221.3 465.7h0M217.0 465.4h0M217.7 464.2h0M223.8 465.5h0M216.3 464.6h0M228.9 459.3h0M226.6 461.4h0M227.6 467.2h0M215.3 462.4h0M223.5 467.2h0M230.5 459.2h0M217.6 462.4h0M228.6 465.6h0M224.5 466.7h0M228.8 466.4h0M225.8 461.2h0M227.4 465.0h0M230.6 460.4h0M215.7 461.9h0M219.5 462.3h0M216.3 464.1h0M222.4 461.2h0M217.0 463.8h0M216.9 466.2h0M219.9 466.5h0M217.3 462.3h0M228.1 463.4h0M222.7 466.4h0M218.0 466.1h0M223.8 461.4h0M221.1 461.3h0M225.7 462.7h0M223.8 464.5h0M229.5 464.9h0M220.2 464.6h0M226.7 466.6h0M221.7 463.5h0M227.8 461.8h0M220.7 464.2h0M221.5 466.1h0M221.0 460.8h0M225.4 464.0h0M231.6 466.9h0M222.3 462.8h0M226.1 463.2h0M225.0 462.4h0M229.5 466.5h0M228.3 465.3h0M229.9 461.1h0M230.8 460.7h0M217.0 463.2h0M235.8 461.2h0M242.5 460.2h0M239.4 462.1h0M247.6 459.7h0M241.1 462.9h0M235.8 461.9h0M238.9 462.0h0M241.8 463.7h0M240.4 462.7h0M242.6 463.1h0M235.3 464.5h0M239.6 466.2h0M235.4 463.6h0M237.9 464.3h0M245.8 464.5h0M242.0 466.8h0M236.8 467.4h0M240.0 464.3h0M235.4 459.3h0M235.8 463.6h0M237.0 465.7h0M235.7 464.6h0M247.0 464.8h0M247.3 465.9h0M246.4 459.3h0M241.1 461.5h0M240.0 465.1h0M244.4 460.7h0M236.0 459.6h0M244.6 465.9h0M234.8 460.1h0M235.5 467.3h0M234.5 463.8h0M246.6 460.4h0M243.7 461.9h0M243.1 462.9h0M235.7 466.5h0M241.0 467.2h0M242.4 467.1h0M243.3 459.5h0M233.5 467.3h0M243.5 465.6h0M246.1 462.0h0M244.0 464.4h0M234.3 463.5h0M247.4 463.7h0M245.3 459.6h0M239.7 463.2h0M241.8 466.1h0M240.8 463.8h0M258.2 464.7h0M259.2 462.3h0M254.6 466.3h0M255.7 465.0h0M254.4 467.3h0M253.5 462.5h0M255.9 466.4h0M261.6 461.2h0M253.9 465.2h0M257.1 460.5h0M251.9 465.1h0M260.5 465.8h0M251.3 463.0h0M252.4 463.8h0M253.7 460.9h0M258.9 460.4h0M262.6 460.4h0M254.3 465.3h0M254.2 461.5h0M262.4 463.7h0M262.8 466.3h0M265.2 459.7h0M256.3 462.8h0M254.6 466.3h0M256.3 466.8h0M251.2 462.7h0M260.0 465.6h0M257.7 466.6h0M254.8 462.0h0M253.1 460.6h0M257.7 465.1h0M253.1 463.1h0M256.9 467.3h0M257.8 465.8h0M253.8 466.5h0M250.5 460.3h0M260.1 463.5h0M258.4 464.2h0M255.6 464.6h0M256.3 463.9h0M261.3 461.6h0M262.1 465.9h0M265.6 459.5h0M256.8 460.4h0M252.7 463.0h0M262.3 460.1h0M262.6 466.1h0M265.3 465.4h0M253.4 465.0h0M259.1 461.3h0M262.5 461.8h0M280.1 466.4h0M273.4 460.1h0M279.7 460.3h0M269.2 466.4h0M271.0 461.2h0M273.3 465.1h0M270.3 461.7h0M268.4 461.2h0M278.7 464.4h0M276.5 466.5h0M267.9 461.4h0M277.0 462.0h0M282.1 460.9h0M281.9 465.2h0M277.6 466.9h0M273.9 461.8h0M274.0 465.2h0M279.8 464.3h0M279.4 464.6h0M279.1 460.1h0M279.9 463.5h0M272.3 460.1h0M276.6 460.8h0M272.9 463.6h0M270.6 460.9h0M268.6 461.9h0M279.9 461.1h0M271.4 460.1h0M276.6 465.2h0M270.2 465.9h0M267.6 460.0h0M268.8 465.6h0M268.6 465.1h0M270.6 461.5h0M268.9 465.8h0M273.0 466.8h0M277.9 463.7h0M274.4 463.7h0M276.2 467.1h0M270.7 460.5h0M282.5 464.8h0M276.9 462.9h0M267.6 460.9h0M279.5 461.3h0M276.5 463.1h0M270.0 459.5h0M268.4 465.0h0M271.0 463.3h0M276.1 465.4h0M269.8 462.6h0M294.1 464.6h0M290.4 464.4h0M294.5 466.4h0M291.1 459.8h0M285.8 464.6h0M293.1 462.7h0M293.3 460.8h0M289.3 462.2h0M294.0 467.1h0M287.7 459.8h0M289.0 466.3h0M297.2 459.5h0M288.5 463.0h0M295.9 463.8h0M289.7 467.2h0M293.8 466.5h0M294.8 467.3h0M293.1 465.6h0M290.8 464.7h0M296.5 467.0h0M296.0 464.7h0M290.6 462.5h0M289.3 467.0h0M292.9 465.7h0M292.9 459.8h0M290.0 461.9h0M296.9 464.8h0M288.9 463.3h0M295.9 463.4h0M293.4 462.0h0M289.7 465.4h0M286.7 464.7h0M295.2 467.4h0M291.1 464.2h0M297.2 465.7h0M295.6 463.4h0M285.8 465.9h0M285.3 465.0h0M287.9 465.8h0M292.6 463.3h0M290.4 461.5h0M297.3 463.7h0M296.8 460.0h0M284.4 460.5h0M303.3 467.3h0M300.7 463.4h0M310.8 461.6h0M302.9 460.8h0M299.7 463.9h0M306.7 460.8h0M306.7 463.2h0M308.6 461.0h0M302.1 466.4h0M308.4 465.4h0M303.7 463.9h0M304.2 464.7h0M312.2 463.1h0M305.2 464.9h0M305.8 462.1h0M299.2 465.9h0M306.0 466.1h0M303.7 466.4h0M310.1 461.0h0M309.7 459.4h0M307.9 465.6h0M308.9 461.4h0M303.8 460.5h0M311.4 464.0h0M309.8 463.1h0M304.9 466.9h0M311.9 465.2h0M307.9 466.5h0M303.4 461.7h0M309.8 464.7h0M309.5 465.0h0M304.5 460.0h0M309.6 466.3h0M306.3 461.7h0M310.7 460.6h0M301.6 463.8h0M305.6 465.4h0M299.1 466.8h0M302.8 463.2h0M299.3 462.2h0M305.9 466.9h0M301.6 460.1h0M310.9 466.7h0M305.8 463.3h0M311.1 462.9h0M305.2 462.6h0M317.5 461.3h0M319.0 459.6h0M320.2 465.5h0M325.4 460.1h0M319.0 466.3h0M326.4 461.7h0M316.6 466.1h0M318.1 464.5h0M326.1 461.1h0M318.1 463.8h0M315.5 463.3h0M321.7 462.6h0M323.7 464.6h0M321.7 465.9h0M316.2 460.5h0M318.0 460.5h0M325.7 466.1h0M325.7 462.3h0M325.1 466.8h0M324.1 466.1h0M323.0 459.1h0M318.5 461.2h0M321.1 463.7h0M326.0 461.2h0M326.7 460.3h0M324.3 461.7h0M321.5 464.2h0M315.0 463.9h0M322.7 461.2h0M315.6 464.1h0M317.7 460.5h0M317.4 463.8h0M320.3 462.2h0M315.9 460.8h0M322.1 462.4h0M316.7 465.9h0M321.3 461.9h0M326.6 463.5h0M316.3 463.0h0M317.7 466.1h0M324.2 459.6h0M316.1 464.7h0M333.5 461.6h0M333.4 460.2h0M333.2 463.8h0M337.8 464.1h0M334.2 459.3h0M333.5 463.7h0M335.1 461.6h0M337.8 465.0h0M335.7 467.2h0M338.0 460.1h0M337.4 463.5h0M334.5 459.2h0M329.3 465.7h0M332.2 467.3h0M337.9 463.5h0M334.4 464.0h0M333.9 465.8h0M338.3 461.8h0M332.7 462.3h0M329.4 460.3h0M330.4 465.3h0M330.4 464.0h0M338.2 462.4h0M338.4 461.1h0M332.1 460.2h0M330.1 462.4h0M336.2 464.5h0M330.8 459.5h0M329.3 461.8h0M334.0 459.0h0M329.6 464.6h0M330.9 459.4h0M336.5 459.6h0M335.9 459.4h0M347.2 463.0h0M342.8 460.8h0M346.8 462.5h0M344.6 461.7h0M341.5 461.6h0M342.1 465.2h0M346.8 465.5h0M342.4 461.8h0M347.8 462.9h0M344.8 459.4h0M346.4 462.7h0M341.8 463.0h0M341.7 462.0h0M343.0 462.7h0M342.8 460.4h0M346.9 463.5h0M343.1 464.3h0M340.8 461.5h0M343.0 463.1h0M347.2 462.7h0M343.4 464.1h0M346.4 461.7h0M345.6 462.0h0M340.2 459.6h0M340.4 462.3h0M341.8 463.7h0M346.1 462.8h0M346.1 461.5h0M341.6 465.9h0M354.7 460.8h0M353.0 466.4h0M350.4 466.2h0M350.9 466.4h0M354.5 460.0h0M352.3 462.3h0M355.1 465.6h0M357.2 460.8h0M354.9 465.5h0M351.6 465.8h0M352.0 464.0h0M354.2 463.5h0M357.3 460.2h0M352.2 467.1h0M355.4 466.6h0M351.9 461.7h0M355.0 465.5h0M354.3 459.6h0M353.8 465.5h0M357.6 459.8h0M353.3 466.7h0M356.3 464.2h0M351.3 463.2h0M353.5 463.2h0M354.2 459.8h0M357.0 462.7h0M351.5 464.2h0M352.7 460.1h0M355.0 459.2h0M357.9 463.8h0M362.3 466.9h0M364.7 459.1h0M365.8 459.4h0M362.4 463.8h0M365.3 467.0h0M366.6 460.5h0M364.5 459.9h0M365.7 462.6h0M365.3 459.6h0M364.1 462.7h0M360.5 464.5h0M367.8 465.3h0M367.7 459.8h0M365.2 463.9h0M363.7 465.7h0M363.4 459.7h0M365.1 466.2h0M363.1 464.3h0M361.4 467.2h0M367.8 459.1h0M365.2 466.8h0M364.2 459.7h0M365.9 463.2h0M362.9 459.5h0M361.9 465.9h0M363.9 463.5h0M365.2 462.2h0M366.1 465.1h0M369.7 464.4h0M369.8 463.2h0M375.8 466.0h0M371.6 466.8h0M370.8 464.9h0M374.7 459.3h0M371.3 463.5h0M376.3 460.4h0M372.7 466.5h0M370.8 466.0h0M374.6 465.7h0M371.9 464.1h0M370.6 461.4h0M375.0 460.0h0M373.2 459.7h0M375.0 464.4h0M370.4 466.4h0M374.0 464.4h0M370.1 465.9h0M374.3 462.2h0M370.1 465.5h0M371.1 465.6h0M373.5 462.1h0M372.6 461.4h0M380.8 466.4h0M381.1 462.3h0M381.8 467.2h0M378.9 463.7h0M383.0 463.6h0M379.2 460.6h0M381.9 463.8h0M378.3 459.9h0M379.6 463.6h0M380.4 461.5h0M379.3 464.0h0M382.4 462.1h0M380.5 464.9h0M380.0 465.5h0M377.9 461.2h0M381.2 460.0h0M378.1 464.2h0M381.1 464.5h0M382.7 461.7h0M383.1 466.2h0M383.3 461.6h0M385.5 465.5h0M386.2 459.5h0M388.8 464.9h0M388.6 459.9h0M388.8 461.1h0M387.7 464.7h0M387.0 462.0h0M389.4 464.5h0M389.4 459.4h0M389.1 460.6h0M386.8 464.5h0M389.1 464.4h0M387.7 463.5h0M388.2 460.8h0M387.1 462.6h0M385.7 462.6h0M388.7 459.1h0M386.9 466.8h0M389.7 460.1h0M396.3 466.7h0M394.9 460.8h0M394.1 460.2h0M394.5 459.8h0M393.7 460.2h0M395.1 461.9h0M396.0 465.9h0M392.6 465.1h0M395.4 461.3h0M395.8 459.5h0M393.4 464.8h0M395.7 466.9h0M394.5 465.1h0M396.5 466.9h0M393.4 462.7h0M395.6 463.4h0M392.2 466.6h0M393.7 460.3h0M393.4 459.2h0" stroke="#b9b9b9" stroke-width="2.5" stroke-linecap="round" fill="none"/>
<line x1="24.30" y1="459.50" x2="414.30" y2="459.50" stroke="#3a3a3a" stroke-width="0.8" stroke-dasharray="2.0,1.1,0.6,1.1"/>
<path d="M61.7 420.8h0M43.0 437.8h0M93.3 436.4h0M117.4 439.3h0M120.6 438.9h0M52.9 446.6h0M43.0 449.1h0M45.2 452.0h0M47.6 452.9h0M61.2 448.1h0M63.7 445.1h0M65.6 447.6h0M62.7 448.8h0M62.2 451.0h0M70.4 449.5h0M79.8 445.1h0M82.4 446.2h0M82.1 451.0h0M90.4 447.6h0M87.1 452.4h0M101.1 442.2h0M103.6 446.6h0M101.7 448.1h0M104.6 452.4h0M123.3 447.3h0M121.1 452.4h0M179.1 426.2h0M179.6 433.2h0M195.2 426.2h0M163.1 432.3h0M190.1 434.6h0M120.7 438.9h0M123.2 447.3h0M125.1 451.7h0M129.9 446.6h0M137.2 442.2h0M139.0 443.0h0M142.6 444.4h0M137.5 448.1h0M140.4 447.3h0M147.4 447.3h0M147.7 448.5h0M152.4 448.1h0M168.2 446.2h0M168.2 450.5h0M168.2 451.7h0M175.5 442.2h0M177.7 444.7h0M178.8 446.6h0M178.1 452.9h0M198.1 444.4h0M188.3 449.5h0M191.5 448.8h0M193.7 451.4h0M195.9 453.2h0M213.7 440.3h0M214.6 447.0h0M212.7 449.5h0M219.3 436.1h0M219.3 448.5h0M203.2 453.2h0M211.2 453.2h0M219.4 436.0h0M225.2 427.2h0M236.9 426.9h0M249.5 426.2h0M248.6 434.5h0M275.6 421.1h0M297.5 423.2h0M314.3 418.9h0M274.1 434.2h0M281.4 432.4h0M297.9 433.5h0M314.3 433.9h0M225.2 441.8h0M225.2 445.1h0M219.4 448.5h0M215.0 447.3h0M250.8 445.1h0M249.3 447.3h0M274.1 440.8h0M274.6 446.2h0M275.1 450.3h0M283.6 444.4h0M282.9 448.8h0M281.4 450.3h0M266.8 447.3h0M265.4 450.3h0M289.5 448.5h0M289.5 450.3h0M289.5 451.7h0M294.6 446.6h0M296.0 450.0h0M312.1 444.7h0M314.3 451.0h0M236.9 451.4h0M241.6 450.5h0M224.9 452.4h0M253.7 453.2h0M265.4 453.2h0M283.6 453.2h0M380.9 391.6h0M354.6 405.9h0M338.3 415.7h0M375.8 417.8h0M376.5 421.2h0M315.5 418.6h0M315.5 433.5h0M346.6 428.5h0M349.5 429.2h0M353.5 431.7h0M353.5 433.5h0M355.4 437.8h0M334.9 432.9h0M339.3 434.3h0M347.3 435.4h0M339.3 438.3h0M373.6 431.7h0M374.8 434.6h0M371.0 437.8h0M371.4 440.2h0M392.6 438.7h0M312.0 444.9h0M321.8 446.3h0M314.9 451.0h0M341.8 444.1h0M336.8 449.2h0M341.8 448.5h0M346.6 445.6h0M348.8 447.0h0M353.9 447.5h0M353.2 449.2h0M349.5 451.4h0M344.4 451.4h0M341.5 451.9h0M370.0 444.9h0M373.6 446.3h0M375.8 444.6h0M376.5 447.0h0M371.4 449.2h0M375.1 450.7h0M373.6 452.2h0M394.8 444.9h0M388.2 447.8h0M380.6 452.2h0M387.5 452.4h0M355.4 452.9h0" stroke="#5650a6" stroke-width="2.9" stroke-linecap="round" fill="none"/>
<text x="38.50" y="426.31" font-size="7.8" text-anchor="start" font-weight="normal" fill="#6a66b5" stroke="#6a66b5" stroke-width="0.18" >PKLR</text>
<text x="139.70" y="438.01" font-size="7.8" text-anchor="start" font-weight="normal" fill="#6a66b5" stroke="#6a66b5" stroke-width="0.18" >GLRX</text>
<text x="150.70" y="425.61" font-size="7.8" text-anchor="start" font-weight="normal" fill="#6a66b5" stroke="#6a66b5" stroke-width="0.18" >DNPH1</text>
<text x="180.30" y="424.31" font-size="7.8" text-anchor="start" font-weight="normal" fill="#6a66b5" stroke="#6a66b5" stroke-width="0.18" >PSMG3</text>
<text x="208.30" y="433.51" font-size="7.8" text-anchor="start" font-weight="normal" fill="#6a66b5" stroke="#6a66b5" stroke-width="0.18" >CA2</text>
<text x="226.90" y="424.31" font-size="7.8" text-anchor="start" font-weight="normal" fill="#6a66b5" stroke="#6a66b5" stroke-width="0.18" >UBAC1</text>
<text x="228.20" y="434.31" font-size="7.8" text-anchor="start" font-weight="normal" fill="#6a66b5" stroke="#6a66b5" stroke-width="0.18" >SIT1</text>
<text x="256.00" y="419.31" font-size="7.8" text-anchor="start" font-weight="normal" fill="#6a66b5" stroke="#6a66b5" stroke-width="0.18" >PPME1</text>
<text x="254.70" y="433.51" font-size="7.8" text-anchor="start" font-weight="normal" fill="#6a66b5" stroke="#6a66b5" stroke-width="0.18" >PIK3AR1</text>
<text x="287.20" y="418.11" font-size="7.8" text-anchor="start" font-weight="normal" fill="#6a66b5" stroke="#6a66b5" stroke-width="0.18" >PSME2</text>
<text x="293.90" y="430.51" font-size="7.8" text-anchor="start" font-weight="normal" fill="#6a66b5" stroke="#6a66b5" stroke-width="0.18" >PEBP1</text>
<text x="289.70" y="439.71" font-size="7.8" text-anchor="start" font-weight="normal" fill="#6a66b5" stroke="#6a66b5" stroke-width="0.18" >HMBS</text>
<text x="383.90" y="395.31" font-size="7.8" text-anchor="start" font-weight="normal" fill="#6a66b5" stroke="#6a66b5" stroke-width="0.18" >TGM2</text>
<text x="357.00" y="404.51" font-size="7.8" text-anchor="start" font-weight="normal" fill="#6a66b5" stroke="#6a66b5" stroke-width="0.18" >AARSD1</text>
<text x="340.40" y="415.21" font-size="7.8" text-anchor="start" font-weight="normal" fill="#6a66b5" stroke="#6a66b5" stroke-width="0.18" >HAGH</text>
<text x="378.70" y="416.11" font-size="7.8" text-anchor="start" font-weight="normal" fill="#6a66b5" stroke="#6a66b5" stroke-width="0.18" >TBC1D17</text>
<text x="322.30" y="428.11" font-size="7.8" text-anchor="start" font-weight="normal" fill="#6a66b5" stroke="#6a66b5" stroke-width="0.18" >AGRP</text>
<text x="354.60" y="429.31" font-size="7.8" text-anchor="start" font-weight="normal" fill="#6a66b5" stroke="#6a66b5" stroke-width="0.18" >RILP</text>
<text x="378.90" y="427.61" font-size="7.8" text-anchor="start" font-weight="normal" fill="#6a66b5" stroke="#6a66b5" stroke-width="0.18" >NSFL1C</text>
<text x="331.80" y="437.31" font-size="7.8" text-anchor="start" font-weight="normal" fill="#6a66b5" stroke="#6a66b5" stroke-width="0.18" >CCL5</text>
<text x="376.20" y="438.01" font-size="7.8" text-anchor="start" font-weight="normal" fill="#6a66b5" stroke="#6a66b5" stroke-width="0.18" >PDCD5</text>
<rect x="24.3" y="387.4" width="390.0" height="83.70000000000005" fill="none" stroke="#8c8c8c" stroke-width="0.9"/>
<line x1="22.10" y1="396.00" x2="24.30" y2="396.00" stroke="#333333" stroke-width="0.6" />
<text x="21.50" y="398.20" font-size="6.1" text-anchor="end" font-weight="normal" fill="#4d4d4d" stroke="#4d4d4d" stroke-width="0.18" >12</text>
<line x1="22.10" y1="425.80" x2="24.30" y2="425.80" stroke="#333333" stroke-width="0.6" />
<text x="21.50" y="428.00" font-size="6.1" text-anchor="end" font-weight="normal" fill="#4d4d4d" stroke="#4d4d4d" stroke-width="0.18" >7</text>
<line x1="22.10" y1="455.50" x2="24.30" y2="455.50" stroke="#333333" stroke-width="0.6" />
<text x="21.50" y="457.70" font-size="6.1" text-anchor="end" font-weight="normal" fill="#4d4d4d" stroke="#4d4d4d" stroke-width="0.18" >2</text>
<line x1="57.60" y1="471.10" x2="57.60" y2="473.30" stroke="#333333" stroke-width="0.6" />
<text x="57.60" y="477.80" font-size="6.1" text-anchor="middle" font-weight="normal" fill="#4d4d4d" stroke="#4d4d4d" stroke-width="0.18" >1</text>
<line x1="88.80" y1="471.10" x2="88.80" y2="473.30" stroke="#333333" stroke-width="0.6" />
<text x="88.80" y="477.80" font-size="6.1" text-anchor="middle" font-weight="normal" fill="#4d4d4d" stroke="#4d4d4d" stroke-width="0.18" >2</text>
<line x1="115.60" y1="471.10" x2="115.60" y2="473.30" stroke="#333333" stroke-width="0.6" />
<text x="115.60" y="477.80" font-size="6.1" text-anchor="middle" font-weight="normal" fill="#4d4d4d" stroke="#4d4d4d" stroke-width="0.18" >3</text>
<line x1="139.50" y1="471.10" x2="139.50" y2="473.30" stroke="#333333" stroke-width="0.6" />
<text x="139.50" y="477.80" font-size="6.1" text-anchor="middle" font-weight="normal" fill="#4d4d4d" stroke="#4d4d4d" stroke-width="0.18" >4</text>
<line x1="162.50" y1="471.10" x2="162.50" y2="473.30" stroke="#333333" stroke-width="0.6" />
<text x="162.50" y="477.80" font-size="6.1" text-anchor="middle" font-weight="normal" fill="#4d4d4d" stroke="#4d4d4d" stroke-width="0.18" >5</text>
<line x1="184.20" y1="471.10" x2="184.20" y2="473.30" stroke="#333333" stroke-width="0.6" />
<text x="184.20" y="477.80" font-size="6.1" text-anchor="middle" font-weight="normal" fill="#4d4d4d" stroke="#4d4d4d" stroke-width="0.18" >6</text>
<line x1="204.80" y1="471.10" x2="204.80" y2="473.30" stroke="#333333" stroke-width="0.6" />
<text x="204.80" y="477.80" font-size="6.1" text-anchor="middle" font-weight="normal" fill="#4d4d4d" stroke="#4d4d4d" stroke-width="0.18" >7</text>
<line x1="224.00" y1="471.10" x2="224.00" y2="473.30" stroke="#333333" stroke-width="0.6" />
<text x="224.00" y="477.80" font-size="6.1" text-anchor="middle" font-weight="normal" fill="#4d4d4d" stroke="#4d4d4d" stroke-width="0.18" >8</text>
<line x1="241.30" y1="471.10" x2="241.30" y2="473.30" stroke="#333333" stroke-width="0.6" />
<text x="241.30" y="477.80" font-size="6.1" text-anchor="middle" font-weight="normal" fill="#4d4d4d" stroke="#4d4d4d" stroke-width="0.18" >9</text>
<line x1="258.20" y1="471.10" x2="258.20" y2="473.30" stroke="#333333" stroke-width="0.6" />
<text x="258.20" y="477.80" font-size="6.1" text-anchor="middle" font-weight="normal" fill="#4d4d4d" stroke="#4d4d4d" stroke-width="0.18" >10</text>
<line x1="275.60" y1="471.10" x2="275.60" y2="473.30" stroke="#333333" stroke-width="0.6" />
<text x="275.60" y="477.80" font-size="6.1" text-anchor="middle" font-weight="normal" fill="#4d4d4d" stroke="#4d4d4d" stroke-width="0.18" >11</text>
<line x1="290.70" y1="471.10" x2="290.70" y2="473.30" stroke="#333333" stroke-width="0.6" />
<text x="290.70" y="477.80" font-size="6.1" text-anchor="middle" font-weight="normal" fill="#4d4d4d" stroke="#4d4d4d" stroke-width="0.18" >12</text>
<line x1="307.00" y1="471.10" x2="307.00" y2="473.30" stroke="#333333" stroke-width="0.6" />
<text x="307.00" y="477.80" font-size="6.1" text-anchor="middle" font-weight="normal" fill="#4d4d4d" stroke="#4d4d4d" stroke-width="0.18" >13</text>
<line x1="320.60" y1="471.10" x2="320.60" y2="473.30" stroke="#333333" stroke-width="0.6" />
<text x="320.60" y="477.80" font-size="6.1" text-anchor="middle" font-weight="normal" fill="#4d4d4d" stroke="#4d4d4d" stroke-width="0.18" >14</text>
<line x1="334.70" y1="471.10" x2="334.70" y2="473.30" stroke="#333333" stroke-width="0.6" />
<text x="334.70" y="477.80" font-size="6.1" text-anchor="middle" font-weight="normal" fill="#4d4d4d" stroke="#4d4d4d" stroke-width="0.18" >15</text>
<line x1="344.00" y1="471.10" x2="344.00" y2="473.30" stroke="#333333" stroke-width="0.6" />
<text x="344.00" y="477.80" font-size="6.1" text-anchor="middle" font-weight="normal" fill="#4d4d4d" stroke="#4d4d4d" stroke-width="0.18" >16</text>
<line x1="355.00" y1="471.10" x2="355.00" y2="473.30" stroke="#333333" stroke-width="0.6" />
<text x="355.00" y="477.80" font-size="6.1" text-anchor="middle" font-weight="normal" fill="#4d4d4d" stroke="#4d4d4d" stroke-width="0.18" >17</text>
<line x1="365.00" y1="471.10" x2="365.00" y2="473.30" stroke="#333333" stroke-width="0.6" />
<text x="365.00" y="477.80" font-size="6.1" text-anchor="middle" font-weight="normal" fill="#4d4d4d" stroke="#4d4d4d" stroke-width="0.18" >18</text>
<line x1="373.20" y1="471.10" x2="373.20" y2="473.30" stroke="#333333" stroke-width="0.6" />
<text x="373.20" y="477.80" font-size="6.1" text-anchor="middle" font-weight="normal" fill="#4d4d4d" stroke="#4d4d4d" stroke-width="0.18" >19</text>
<line x1="380.60" y1="471.10" x2="380.60" y2="473.30" stroke="#333333" stroke-width="0.6" />
<text x="380.60" y="477.80" font-size="6.1" text-anchor="middle" font-weight="normal" fill="#4d4d4d" stroke="#4d4d4d" stroke-width="0.18" >20</text>
<line x1="387.30" y1="471.10" x2="387.30" y2="473.30" stroke="#333333" stroke-width="0.6" />
<text x="387.30" y="477.80" font-size="6.1" text-anchor="middle" font-weight="normal" fill="#4d4d4d" stroke="#4d4d4d" stroke-width="0.18" >21</text>
<line x1="394.30" y1="471.10" x2="394.30" y2="473.30" stroke="#333333" stroke-width="0.6" />
<text x="394.30" y="477.80" font-size="6.1" text-anchor="middle" font-weight="normal" fill="#4d4d4d" stroke="#4d4d4d" stroke-width="0.18" >22</text>
<text x="219.20" y="485.93" font-size="7.3" text-anchor="middle" font-weight="normal" fill="#000" stroke="#000" stroke-width="0.18" >Chromosome</text>
<text transform="translate(9.94,429.25) rotate(-90)" font-size="7.6" text-anchor="middle" fill="#000">−log<tspan font-size="5.32" dy="1.90">10</tspan><tspan dy="-1.90">(</tspan><tspan font-style="italic">p</tspan>)</text>
<line x1="38.50" y1="289.60" x2="44.20" y2="287.90" stroke="#4a6aa0" stroke-width="0.6" />
<line x1="45.80" y1="171.60" x2="45.30" y2="173.60" stroke="#5a9a6e" stroke-width="0.6" />
<line x1="62.30" y1="182.40" x2="84.00" y2="184.80" stroke="#5a9a6e" stroke-width="0.6" />
<line x1="63.00" y1="178.80" x2="70.20" y2="172.80" stroke="#5a9a6e" stroke-width="0.5" />
<line x1="285.50" y1="432.60" x2="294.50" y2="432.60" stroke="#6a66b5" stroke-width="0.6" />
<line x1="484.50" y1="195.20" x2="491.00" y2="196.90" stroke="#4f6ea5" stroke-width="0.6" />
<text x="0.00" y="8.17" font-size="10.2" text-anchor="start" font-weight="bold" fill="#000" >A</text>
<text x="428.70" y="8.16" font-size="11" text-anchor="start" font-weight="bold" fill="#000" >B</text>
<text x="431.70" y="260.96" font-size="11" text-anchor="start" font-weight="bold" fill="#000" >C</text>
<text x="0.00" y="503.36" font-size="11" text-anchor="start" font-weight="bold" fill="#000" >D</text>
<text x="216.70" y="503.06" font-size="11" text-anchor="start" font-weight="bold" fill="#000" >E</text>
<text x="447.20" y="502.56" font-size="11" text-anchor="start" font-weight="bold" fill="#000" >F</text>
<text x="456.00" y="14.49" font-size="7.2" text-anchor="start" font-weight="bold" fill="#000" >AP index</text>
<line x1="491.40" y1="18.40" x2="491.40" y2="216.20" stroke="#111" stroke-width="0.9" stroke-dasharray="2.4,1.2,0.7,1.2"/>
<line x1="536.40" y1="18.40" x2="536.40" y2="216.20" stroke="#111" stroke-width="0.9" stroke-dasharray="2.4,1.2,0.7,1.2"/>
<line x1="455.50" y1="207.40" x2="675.80" y2="207.40" stroke="#111" stroke-width="0.9" stroke-dasharray="2.4,1.2,0.7,1.2"/>
<rect x="455.5" y="18.4" width="220.29999999999995" height="197.79999999999998" fill="none" stroke="#8c8c8c" stroke-width="0.9"/>
<line x1="453.50" y1="207.40" x2="455.50" y2="207.40" stroke="#333333" stroke-width="0.6" />
<text x="452.90" y="209.42" font-size="5.6" text-anchor="end" font-weight="normal" fill="#4d4d4d" stroke="#4d4d4d" stroke-width="0.18" >0</text>
<line x1="453.50" y1="159.53" x2="455.50" y2="159.53" stroke="#333333" stroke-width="0.6" />
<text x="452.90" y="161.55" font-size="5.6" text-anchor="end" font-weight="normal" fill="#4d4d4d" stroke="#4d4d4d" stroke-width="0.18" >25</text>
<line x1="453.50" y1="111.67" x2="455.50" y2="111.67" stroke="#333333" stroke-width="0.6" />
<text x="452.90" y="113.68" font-size="5.6" text-anchor="end" font-weight="normal" fill="#4d4d4d" stroke="#4d4d4d" stroke-width="0.18" >50</text>
<line x1="453.50" y1="63.80" x2="455.50" y2="63.80" stroke="#333333" stroke-width="0.6" />
<text x="452.90" y="65.82" font-size="5.6" text-anchor="end" font-weight="normal" fill="#4d4d4d" stroke="#4d4d4d" stroke-width="0.18" >75</text>
<line x1="513.80" y1="216.20" x2="513.80" y2="218.20" stroke="#333333" stroke-width="0.6" />
<text x="513.80" y="223.02" font-size="5.6" text-anchor="middle" font-weight="normal" fill="#4d4d4d" stroke="#4d4d4d" stroke-width="0.18" >0.000</text>
<line x1="593.90" y1="216.20" x2="593.90" y2="218.20" stroke="#333333" stroke-width="0.6" />
<text x="593.90" y="223.02" font-size="5.6" text-anchor="middle" font-weight="normal" fill="#4d4d4d" stroke="#4d4d4d" stroke-width="0.18" >0.005</text>
<line x1="674.00" y1="216.20" x2="674.00" y2="218.20" stroke="#333333" stroke-width="0.6" />
<text x="674.00" y="223.02" font-size="5.6" text-anchor="middle" font-weight="normal" fill="#4d4d4d" stroke="#4d4d4d" stroke-width="0.18" >0.010</text>
<text x="565.60" y="231.53" font-size="7.3" text-anchor="middle" font-weight="normal" fill="#000" stroke="#000" stroke-width="0.18" >Effect size</text>
<text transform="translate(441.54,117.00) rotate(-90)" font-size="7.6" text-anchor="middle" fill="#000">−log<tspan font-size="5.32" dy="1.90">10</tspan><tspan dy="-1.90">(</tspan><tspan font-style="italic">p</tspan>)</text>
<path d="M494.8 193.7h0M511.0 205.5h0M535.8 191.6h0M515.3 203.8h0M524.4 195.1h0M536.0 170.0h0M519.0 205.2h0M519.9 200.3h0M500.8 206.2h0M515.5 206.6h0M511.7 205.2h0M512.2 206.5h0M518.0 202.7h0M526.9 190.9h0M536.9 164.1h0M524.9 199.5h0M496.7 195.0h0M527.2 188.5h0M507.8 205.3h0M522.7 195.6h0M518.4 200.4h0M525.8 200.1h0M502.8 198.4h0M533.2 173.0h0M493.3 205.3h0M503.8 202.9h0M519.9 205.0h0M516.1 206.7h0M495.4 196.6h0M516.6 203.0h0M508.5 204.4h0M501.1 202.6h0M525.4 187.1h0M494.9 204.2h0M528.3 187.0h0M526.5 199.1h0M510.8 206.2h0M528.3 193.3h0M521.2 192.5h0M506.3 203.1h0M525.4 185.7h0M511.0 205.8h0M495.9 194.7h0M495.1 205.0h0M517.2 203.1h0M522.7 199.9h0M526.8 203.4h0M501.2 199.8h0M495.2 201.2h0M524.5 191.0h0M504.4 205.5h0M507.8 202.9h0M508.2 206.4h0M523.8 194.1h0M533.3 171.1h0M533.1 186.4h0M528.0 195.3h0M506.0 203.8h0M534.0 171.0h0M502.8 203.0h0M508.1 204.8h0M509.5 205.2h0M500.4 200.2h0M527.8 189.6h0M529.6 186.8h0M499.5 198.0h0M531.6 193.2h0M492.5 197.2h0M516.3 203.7h0M535.5 176.3h0M528.1 203.5h0M516.4 202.5h0M495.3 205.1h0M525.0 186.7h0M495.4 197.0h0M498.0 197.3h0M521.0 202.0h0M501.5 199.1h0M515.2 204.4h0M509.4 205.4h0M535.6 175.4h0M514.0 206.6h0M524.3 191.0h0M533.1 187.3h0M529.1 184.9h0M530.3 179.6h0M529.4 179.2h0M535.1 177.2h0M515.3 204.4h0M528.0 192.2h0M510.6 206.6h0M525.2 184.9h0M508.6 206.1h0M500.8 201.7h0M504.8 199.8h0M494.2 200.9h0M496.7 197.6h0M526.8 199.8h0M494.3 198.8h0M518.1 199.0h0M493.2 204.2h0M499.9 203.7h0M502.2 199.9h0M518.6 204.0h0M499.9 202.9h0M499.3 197.9h0M505.7 202.8h0M528.7 190.0h0M503.4 199.4h0M533.1 189.8h0M516.4 201.7h0M513.5 206.9h0M493.8 192.5h0M528.0 193.2h0M515.5 204.9h0M504.0 199.2h0M521.4 201.9h0M492.0 197.6h0M508.4 203.0h0M524.0 193.2h0M498.7 204.3h0M506.1 204.9h0M531.1 186.3h0M520.5 193.9h0M503.6 201.9h0M498.4 197.2h0M491.6 192.6h0M530.0 179.8h0M495.3 201.8h0M524.1 203.6h0M513.3 206.4h0M535.0 179.1h0M530.5 193.3h0M527.4 193.0h0M533.2 200.5h0M529.1 197.5h0M516.2 204.0h0M498.7 196.8h0M505.7 204.4h0M495.0 201.1h0M512.8 205.7h0M507.9 203.1h0M496.3 200.4h0M512.5 205.1h0M529.3 185.0h0M492.1 199.1h0M523.8 200.2h0M517.2 203.2h0M492.0 190.8h0M527.9 198.4h0M519.5 202.5h0M508.6 204.2h0M505.1 204.0h0M509.3 204.0h0M503.2 204.7h0M524.8 197.5h0M534.5 180.6h0M524.4 197.8h0M529.1 201.9h0M497.9 205.2h0M522.3 194.0h0M499.7 201.5h0M529.6 186.0h0M495.6 202.5h0M498.6 204.8h0M510.0 206.9h0M533.4 186.5h0M514.8 205.4h0M526.4 185.8h0M509.1 205.3h0M510.3 207.4h0M509.7 204.1h0M536.2 170.6h0M521.5 196.4h0M492.3 199.9h0M507.1 202.9h0M496.3 200.6h0M514.7 205.2h0M529.0 186.3h0M498.7 197.5h0M532.6 183.4h0M507.5 203.9h0M497.9 197.5h0M536.4 179.9h0M524.1 189.4h0M500.5 197.1h0M520.0 203.4h0M495.3 202.2h0M517.7 200.9h0M506.5 201.2h0M507.9 204.2h0M497.1 194.5h0M497.7 195.6h0M516.2 203.8h0M517.0 204.8h0M532.9 170.4h0M528.7 187.0h0M497.1 195.9h0M504.6 200.1h0M502.5 201.1h0M529.3 198.2h0M516.4 206.6h0M493.0 202.7h0M536.4 165.4h0M521.5 200.7h0M522.0 194.0h0M508.9 204.1h0M528.1 206.0h0M500.6 201.2h0M498.0 201.1h0M517.4 205.3h0M515.1 206.2h0M517.3 204.0h0M520.7 206.2h0M522.0 203.3h0M535.1 178.4h0M512.9 206.4h0M519.9 197.8h0M526.0 187.7h0M513.6 205.8h0M529.6 179.6h0M510.1 205.2h0M517.3 200.4h0M515.4 204.9h0M511.2 204.4h0M506.1 206.7h0M524.5 187.6h0M524.8 192.2h0M525.7 197.3h0M518.5 206.0h0M497.2 200.0h0M514.4 206.4h0M493.9 195.5h0M515.4 206.0h0M505.4 203.7h0M502.2 206.1h0M533.0 171.0h0M521.8 192.9h0M510.7 204.3h0M501.6 199.3h0M517.3 200.4h0M496.0 195.6h0M497.1 199.0h0M534.8 207.4h0M502.6 203.5h0M506.3 206.6h0M532.2 176.3h0M509.6 205.4h0M518.1 206.5h0M492.9 192.5h0M505.5 203.0h0M534.0 168.7h0M513.0 206.9h0M504.9 200.2h0M532.3 196.0h0M529.6 192.5h0M513.0 207.0h0M531.5 172.9h0M500.7 199.8h0M500.2 197.4h0M493.8 204.3h0M524.5 198.1h0M532.5 174.4h0M523.9 202.6h0M523.2 189.5h0M511.8 207.1h0M501.7 203.2h0M523.8 201.1h0M499.7 203.4h0M521.7 193.9h0M508.4 203.6h0M531.7 183.3h0M501.9 203.3h0M533.7 178.3h0M504.1 201.4h0M495.6 193.4h0M511.5 205.5h0M515.7 207.1h0M518.8 203.2h0M502.9 199.7h0M495.5 201.6h0M525.9 198.6h0M504.2 202.1h0M500.0 197.1h0M536.4 203.5h0M512.5 205.5h0M509.0 202.9h0M514.2 207.0h0M516.8 202.6h0M507.9 203.3h0M527.1 190.9h0M514.5 205.4h0M522.6 196.3h0M534.8 195.5h0M527.0 200.2h0M519.2 203.5h0M511.5 204.9h0M527.3 184.9h0M502.2 201.7h0M501.6 200.6h0M514.2 207.4h0M518.7 199.4h0M517.6 200.1h0M499.7 204.5h0M492.3 197.4h0M511.3 205.7h0M503.5 200.0h0M494.8 193.6h0M517.4 202.4h0M527.5 197.6h0M498.2 202.0h0M493.4 200.5h0M519.8 199.7h0M503.5 201.5h0M495.5 195.0h0M499.3 203.1h0M498.8 198.2h0M529.3 181.7h0M494.3 199.4h0M508.1 205.7h0M535.7 203.0h0M513.8 206.2h0M536.4 196.2h0M512.2 205.4h0M493.3 201.7h0M532.0 198.5h0M509.4 205.6h0M510.8 207.0h0M493.1 191.5h0M526.2 187.7h0M502.0 203.8h0M516.6 205.2h0M512.5 205.2h0M508.1 205.0h0M536.1 176.7h0M493.3 199.1h0M521.1 205.6h0M507.1 202.7h0M530.8 184.4h0M531.8 187.0h0M509.4 203.4h0M508.8 203.3h0M501.3 202.6h0M499.9 200.1h0M499.0 203.7h0M501.3 201.5h0M505.5 203.4h0M536.7 173.6h0M530.8 196.6h0M508.9 206.8h0M523.0 198.5h0M504.0 207.1h0M499.8 203.1h0M509.4 203.1h0M524.0 199.4h0M507.9 206.1h0M534.1 188.2h0M526.3 187.7h0M532.8 205.2h0M506.2 204.0h0M495.3 194.2h0M506.3 201.9h0M515.1 207.1h0M509.4 205.9h0M493.4 203.4h0M518.6 206.7h0M505.7 203.6h0M516.3 206.2h0M523.7 199.9h0M524.5 191.4h0M498.2 203.5h0M504.3 201.0h0M509.9 205.4h0M530.9 195.7h0M504.8 203.8h0M501.3 206.5h0M492.6 195.7h0M517.3 201.0h0M535.9 189.1h0M522.0 191.8h0M501.3 199.6h0M521.8 191.7h0M531.0 195.3h0M520.3 205.1h0M511.0 205.7h0M494.2 199.8h0M506.4 203.4h0M504.2 205.3h0M509.8 205.0h0M499.1 198.6h0M502.4 205.8h0M507.1 204.1h0M498.4 199.1h0M523.4 194.8h0M523.4 206.2h0M509.3 205.2h0M494.4 199.5h0M494.0 198.1h0M518.2 202.1h0M506.3 205.0h0M492.6 199.7h0M532.1 183.5h0M503.4 200.9h0M500.0 200.9h0M519.5 196.0h0M508.0 203.7h0M534.4 174.1h0M520.0 198.3h0M510.2 205.3h0M504.1 200.2h0M531.5 189.9h0M532.9 203.8h0M497.7 199.6h0M505.5 204.0h0M536.0 196.2h0M500.3 203.6h0M522.4 201.2h0M491.5 196.4h0M509.4 205.9h0M514.0 206.5h0M516.4 203.2h0M517.0 201.2h0M535.6 187.9h0M507.3 201.9h0M505.8 201.8h0M523.1 193.1h0M535.4 170.8h0M498.8 198.9h0M513.8 206.5h0M508.3 205.3h0M525.6 192.5h0M502.3 203.9h0M506.3 205.5h0M514.9 206.9h0M494.4 205.3h0M496.2 196.6h0M496.6 199.8h0M526.6 192.3h0M498.9 196.7h0M531.1 203.2h0M503.1 201.9h0M527.7 193.3h0M524.1 199.7h0M524.1 198.2h0M506.7 202.1h0M529.8 179.9h0M517.3 203.3h0M523.7 193.3h0M529.3 181.4h0M497.2 200.9h0M522.0 201.6h0M499.9 207.0h0M518.1 198.6h0M535.7 197.2h0M522.8 197.7h0M520.2 200.6h0M534.0 168.5h0M493.7 195.2h0M496.9 206.1h0M504.5 201.1h0M536.7 197.5h0M506.5 207.1h0M516.2 204.2h0M508.5 205.2h0M527.9 182.9h0M504.4 203.3h0M519.6 197.5h0M536.1 185.1h0M523.1 195.3h0M527.9 200.3h0M499.5 205.2h0M534.0 192.6h0M513.7 207.2h0M506.2 207.2h0M517.2 205.6h0M520.0 202.4h0M501.9 201.6h0M508.1 205.4h0M493.8 205.3h0M532.1 191.8h0M495.1 203.1h0M513.5 205.8h0M500.7 197.8h0M513.5 206.6h0M528.2 192.7h0M494.1 197.4h0M521.4 196.4h0M504.1 199.5h0M530.8 174.2h0M511.7 204.8h0M524.5 201.3h0M492.7 202.9h0M496.9 205.4h0M507.8 202.8h0M505.6 203.0h0M492.0 201.9h0M535.1 205.8h0M515.5 203.9h0M527.5 185.6h0M509.7 203.7h0M529.2 182.4h0M536.4 198.8h0M534.7 186.0h0M523.6 200.1h0M532.9 204.9h0M517.7 204.5h0M509.2 205.2h0M521.4 194.2h0M508.1 203.5h0M507.6 205.2h0M532.7 190.9h0M495.8 201.0h0M525.2 199.9h0M525.3 192.5h0M522.5 202.4h0M496.3 204.0h0M507.4 204.2h0M491.9 197.1h0M509.9 205.6h0M515.9 202.6h0M500.8 197.8h0M506.1 201.8h0M496.4 193.9h0M511.1 204.1h0M501.5 202.1h0M523.6 201.7h0M503.9 201.1h0M534.6 189.2h0M499.8 202.1h0M536.5 196.0h0M520.4 200.7h0M520.8 202.7h0M519.5 196.5h0M530.5 183.9h0M514.5 206.0h0M496.7 195.6h0M522.9 197.0h0M521.8 198.7h0M509.0 205.8h0M518.8 200.4h0M514.9 207.3h0M520.0 200.2h0M518.5 200.6h0M533.9 197.1h0M512.8 205.3h0M525.1 197.6h0M525.0 185.3h0M509.8 203.6h0M497.3 194.5h0M513.8 207.0h0M529.7 184.4h0M534.2 172.7h0M527.8 190.3h0M536.7 201.0h0M531.1 180.8h0M502.9 199.6h0M512.2 205.8h0M530.9 196.9h0M504.2 201.5h0M494.8 197.7h0M527.3 191.3h0M502.5 199.4h0M530.4 180.4h0M516.5 201.8h0M527.8 200.2h0M508.1 206.5h0M493.2 200.0h0M530.9 178.1h0M496.8 203.5h0M509.2 203.3h0M519.6 196.3h0M494.8 192.8h0M500.9 199.9h0M531.4 180.0h0M500.5 199.3h0M511.1 207.4h0M507.0 204.7h0M520.2 202.2h0M518.9 199.2h0M499.7 204.9h0M523.1 196.6h0M497.4 204.7h0M534.3 179.2h0M507.8 205.7h0M536.8 173.0h0M525.0 196.6h0M505.6 203.7h0M498.2 198.5h0M510.8 204.4h0M510.1 205.2h0M514.5 205.2h0M507.3 202.7h0M502.2 200.9h0M504.5 200.2h0M504.5 200.3h0M522.3 197.7h0M534.0 187.3h0M525.3 191.5h0M511.9 207.2h0M510.6 206.0h0M511.6 204.5h0M504.8 201.5h0M522.1 201.3h0M510.2 206.6h0M532.2 193.8h0M510.6 205.8h0M528.8 181.1h0M518.4 201.2h0M496.0 194.6h0M495.5 200.5h0M508.5 203.4h0M521.9 199.7h0M532.4 172.5h0M492.6 195.6h0M512.8 206.5h0M512.7 206.5h0M522.0 195.8h0M535.7 165.7h0M536.7 184.3h0M529.2 185.1h0M523.4 188.3h0M494.5 198.8h0M509.8 204.3h0M501.4 197.4h0M501.0 202.3h0M498.0 201.0h0M525.3 203.6h0M499.1 198.8h0M519.8 197.4h0M503.0 199.7h0M524.8 189.2h0M496.9 199.7h0M492.2 192.5h0M534.5 170.2h0M492.6 199.7h0M515.9 204.3h0M496.6 196.0h0M505.2 202.8h0M497.2 198.7h0M497.4 205.2h0M514.8 206.3h0M526.9 197.9h0M510.3 207.1h0M501.4 201.7h0M516.9 203.5h0M530.2 201.0h0M530.2 198.9h0M535.6 180.4h0M510.0 204.5h0M530.8 175.0h0M499.9 176.9h0M497.0 183.0h0M502.0 180.0h0M532.0 165.0h0M530.2 165.2h0M526.0 170.0h0M535.0 163.0h0M533.0 167.0h0M495.0 188.0h0M498.0 186.0h0M503.0 184.0h0M506.0 188.0h0M494.5 192.0h0" stroke="#c3ccd8" stroke-width="2.5" stroke-linecap="round" fill="none"/>
<path d="M628.1 33.9h0M592.5 47.0h0M611.8 50.7h0M628.1 63.5h0M581.8 70.8h0M613.5 77.2h0M567.7 87.9h0M551.6 103.5h0M665.6 27.3h0M659.7 46.6h0M638.3 62.0h0M632.9 74.0h0M583.7 81.6h0M588.1 83.1h0M591.0 86.0h0M592.8 86.4h0M597.2 86.9h0M599.3 82.5h0M605.9 87.2h0M610.0 88.6h0M611.0 91.5h0M619.8 85.4h0M582.3 90.4h0M582.8 95.6h0M585.5 96.2h0M606.2 95.6h0M615.8 94.7h0M565.3 98.1h0M570.6 102.0h0M572.3 103.9h0M587.7 103.2h0M598.6 99.6h0M597.9 101.0h0M598.6 104.4h0M608.8 105.4h0M614.7 106.9h0M580.4 109.0h0M589.1 108.8h0M595.4 108.3h0M542.6 133.1h0M550.7 128.8h0M571.7 102.9h0M579.8 110.0h0M587.4 103.2h0M589.0 109.7h0M597.0 100.8h0M598.7 104.5h0M597.9 108.1h0M595.4 108.9h0M609.2 106.1h0M608.4 108.9h0M614.8 106.8h0M619.7 112.9h0M620.5 114.5h0M619.7 123.9h0M610.0 138.0h0M615.3 139.1h0M603.5 134.7h0M595.9 140.1h0M597.0 148.1h0M594.6 152.5h0M589.0 155.7h0M585.7 157.8h0M586.5 161.4h0M584.6 163.3h0M577.7 163.8h0M576.5 166.2h0M572.3 167.5h0M571.2 173.5h0M566.3 174.6h0M563.6 180.8h0M550.7 192.1h0M549.1 193.7h0M542.9 203.1h0M549.9 174.3h0M590.2 126.6h0M553.2 171.2h0M539.3 185.2h0M561.8 168.4h0M537.7 177.9h0M537.7 200.2h0M567.0 128.8h0M597.0 139.1h0M563.7 157.9h0M538.7 164.0h0M554.5 146.3h0M539.4 173.2h0M537.3 185.5h0M549.2 187.6h0M553.9 172.6h0M552.7 175.2h0M550.2 161.5h0M598.9 138.7h0M581.0 142.7h0M543.4 168.0h0M542.4 162.2h0M573.6 138.0h0M581.6 130.6h0M594.1 137.2h0M537.2 174.4h0M588.6 128.1h0M596.8 118.9h0M537.5 192.5h0M574.8 131.1h0M537.7 179.3h0M594.8 133.4h0M538.1 175.0h0M537.8 167.1h0M576.6 127.8h0M556.6 160.5h0M539.5 194.7h0M538.3 192.2h0M538.0 182.7h0M540.0 173.7h0M595.6 134.4h0M542.9 197.4h0M540.0 179.3h0M582.5 139.1h0M537.8 205.4h0M541.3 194.3h0M543.9 170.3h0M537.5 168.7h0M558.3 149.1h0M559.6 152.9h0M549.9 191.8h0M551.7 172.6h0M583.8 121.6h0M538.7 203.4h0M578.7 128.3h0M539.4 195.1h0M592.0 115.5h0M593.2 139.2h0M559.8 154.8h0M537.9 166.1h0M594.7 114.9h0M568.0 137.3h0M579.3 140.2h0M542.5 166.6h0M569.4 127.7h0M540.4 186.0h0M582.2 138.3h0M542.1 199.8h0M539.8 162.9h0M541.7 179.5h0M537.4 172.7h0M545.6 180.4h0M538.3 179.8h0M586.4 148.2h0M564.0 160.9h0M558.4 144.4h0M537.3 165.9h0M588.6 136.4h0M594.7 107.0h0M562.3 154.0h0M570.3 137.7h0M599.1 105.4h0M555.7 174.5h0M587.4 138.6h0M567.9 161.0h0M589.1 123.4h0M566.3 167.3h0M584.2 129.6h0M575.9 153.1h0M557.5 166.9h0M546.3 180.0h0M560.2 139.3h0M562.5 176.1h0M585.2 140.1h0M546.6 186.3h0M558.1 158.0h0M580.8 120.4h0M572.1 123.2h0M559.6 157.7h0M540.5 192.0h0M552.5 173.2h0M589.7 119.4h0M537.2 178.4h0M565.7 137.2h0M539.0 202.9h0M564.2 149.6h0M586.5 124.6h0M564.7 138.2h0M548.7 186.6h0M589.0 142.5h0M546.4 179.9h0M543.4 163.9h0M552.5 183.1h0M581.9 142.1h0M593.2 117.4h0M539.0 182.9h0M541.9 169.1h0M547.8 179.9h0M552.3 160.4h0M580.9 152.7h0M549.9 152.9h0M537.3 203.5h0M537.3 196.2h0M557.4 153.3h0M576.0 122.6h0M538.3 183.8h0M537.2 201.6h0M540.7 167.3h0M537.3 192.7h0M549.6 177.8h0M563.8 166.2h0M594.2 131.3h0M539.7 183.2h0M539.2 163.3h0M551.0 179.6h0M539.2 174.8h0M544.6 187.1h0M554.0 171.3h0M572.7 138.7h0M576.1 154.5h0M537.7 205.7h0M569.6 130.2h0M550.0 177.1h0M588.5 124.7h0M557.3 178.5h0M576.6 155.4h0M550.5 177.5h0M539.8 193.9h0M578.7 142.4h0M569.1 134.3h0M587.4 147.4h0M596.4 124.2h0M576.0 133.6h0M588.5 142.0h0M544.7 160.0h0M549.3 174.7h0M573.8 141.7h0M537.3 200.7h0M537.5 200.1h0M539.1 177.7h0M575.7 127.4h0M538.6 186.3h0M569.7 161.3h0M566.7 168.9h0M552.2 188.3h0M537.7 174.4h0M554.4 156.6h0M570.1 152.0h0M554.1 181.2h0M556.6 154.4h0M546.2 191.6h0M587.5 119.5h0M582.1 151.2h0M554.2 169.2h0M539.7 185.8h0M552.9 172.4h0M537.2 204.5h0M547.1 188.5h0M556.8 162.0h0M566.8 130.1h0M555.2 160.9h0M594.0 140.1h0M541.7 180.7h0M538.2 183.1h0M578.5 152.0h0M551.3 161.8h0M539.5 189.7h0M590.3 114.4h0M574.9 120.2h0M539.5 172.4h0M566.5 141.7h0M545.0 183.2h0M537.9 196.5h0M538.1 186.5h0M541.1 169.3h0M554.6 162.7h0M546.0 173.0h0M554.6 150.6h0M539.8 189.9h0M562.5 155.8h0M582.1 138.3h0M582.7 124.2h0M571.2 158.4h0M587.7 123.2h0M543.4 198.5h0M540.2 205.6h0M586.0 118.0h0M540.8 193.0h0M541.4 164.5h0M580.1 133.1h0M575.9 126.6h0M547.3 183.2h0M537.2 174.0h0M566.1 168.0h0M595.3 109.9h0M553.1 178.9h0M552.9 175.9h0M539.4 165.7h0M537.9 166.0h0M556.1 164.2h0M557.3 146.3h0M539.3 171.7h0M581.0 152.9h0M590.5 113.1h0M537.4 204.6h0M573.5 134.9h0M550.7 171.2h0M548.7 177.7h0M537.2 196.0h0M581.4 123.4h0M550.0 182.1h0M547.4 161.5h0M538.9 185.7h0M537.2 204.5h0M577.0 146.3h0M583.1 138.2h0M547.3 179.3h0M553.0 188.9h0M577.4 129.9h0M588.7 137.8h0M574.7 155.1h0M547.4 192.3h0M585.2 138.9h0M573.7 154.0h0M547.4 184.7h0M537.5 179.8h0M550.8 148.9h0M545.0 184.0h0M561.3 144.3h0M592.5 132.0h0M544.3 185.9h0M557.3 163.2h0M546.6 197.9h0M562.8 163.0h0M573.2 163.9h0M537.2 192.2h0M571.0 134.3h0M547.2 155.4h0M539.6 178.9h0M537.8 175.5h0M588.1 131.4h0M553.2 187.9h0M557.2 183.7h0M562.4 168.2h0M537.6 191.0h0M572.9 123.0h0M590.8 115.1h0M551.0 155.6h0M552.4 173.2h0M537.4 204.7h0M554.4 170.1h0M545.5 167.9h0M563.8 155.3h0M542.2 190.8h0M542.6 159.4h0M540.9 162.7h0M538.7 196.6h0M546.6 193.4h0M571.9 124.3h0M597.8 137.7h0" stroke="#a24d58" stroke-width="2.75" stroke-linecap="round" fill="none"/>
<path d="M481.5 162.5h0M478.8 164.0h0M465.2 193.0h0M475.0 194.8h0M484.0 195.3h0M485.0 191.3h0M467.6 198.5h0M490.7 201.7h0" stroke="#44639b" stroke-width="2.75" stroke-linecap="round" fill="none"/>
<text x="646.00" y="26.34" font-size="7.6" text-anchor="start" font-weight="normal" fill="#a85561" stroke="#a85561" stroke-width="0.18" >LAT2</text>
<text x="605.00" y="41.74" font-size="7.6" text-anchor="start" font-weight="normal" fill="#a85561" stroke="#a85561" stroke-width="0.18" >PPP1R9B</text>
<text x="646.00" y="44.94" font-size="7.6" text-anchor="start" font-weight="normal" fill="#a85561" stroke="#a85561" stroke-width="0.18" >PDLIM7</text>
<text x="577.00" y="45.44" font-size="7.6" text-anchor="start" font-weight="normal" fill="#a85561" stroke="#a85561" stroke-width="0.18" >ABL1</text>
<text x="606.00" y="58.74" font-size="7.6" text-anchor="start" font-weight="normal" fill="#a85561" stroke="#a85561" stroke-width="0.18" >TRIM5</text>
<text x="634.00" y="60.34" font-size="7.6" text-anchor="start" font-weight="normal" fill="#a85561" stroke="#a85561" stroke-width="0.18" >YES1</text>
<text x="601.40" y="70.44" font-size="7.6" text-anchor="start" font-weight="normal" fill="#a85561" stroke="#a85561" stroke-width="0.18" >CALCOCO1</text>
<text x="565.90" y="69.24" font-size="7.6" text-anchor="start" font-weight="normal" fill="#a85561" stroke="#a85561" stroke-width="0.18" >GFER</text>
<text x="589.40" y="80.14" font-size="7.6" text-anchor="start" font-weight="normal" fill="#a85561" stroke="#a85561" stroke-width="0.18" >AXIN1</text>
<text x="627.90" y="82.14" font-size="7.6" text-anchor="start" font-weight="normal" fill="#a85561" stroke="#a85561" stroke-width="0.18" >CLIP2</text>
<text x="549.80" y="86.14" font-size="7.6" text-anchor="start" font-weight="normal" fill="#a85561" stroke="#a85561" stroke-width="0.18" >WWP2</text>
<text x="531.60" y="111.64" font-size="7.6" text-anchor="start" font-weight="normal" fill="#a85561" stroke="#a85561" stroke-width="0.18" >PPP3R1</text>
<text x="477.60" y="160.34" font-size="7.6" text-anchor="start" font-weight="normal" fill="#4f6ea5" stroke="#4f6ea5" stroke-width="0.18" >CCL2</text>
<text x="461.70" y="171.24" font-size="7.6" text-anchor="start" font-weight="normal" fill="#4f6ea5" stroke="#4f6ea5" stroke-width="0.18" >ITM2A</text>
<text x="458.50" y="182.14" font-size="7.6" text-anchor="start" font-weight="normal" fill="#4f6ea5" stroke="#4f6ea5" stroke-width="0.18" >MICB_MICA</text>
<text x="465.20" y="190.84" font-size="7.6" text-anchor="start" font-weight="normal" fill="#4f6ea5" stroke="#4f6ea5" stroke-width="0.18" >NPM1</text>
<text x="487.50" y="190.84" font-size="7.6" text-anchor="start" font-weight="normal" fill="#4f6ea5" stroke="#4f6ea5" stroke-width="0.18" >AHSP</text>
<text x="490.70" y="200.04" font-size="7.6" text-anchor="start" font-weight="normal" fill="#4f6ea5" stroke="#4f6ea5" stroke-width="0.18" >MNDA</text>
<text x="457.20" y="206.44" font-size="7.6" text-anchor="start" font-weight="normal" fill="#4f6ea5" stroke="#4f6ea5" stroke-width="0.18" >PM20D1</text>
<rect x="465.50" y="268.00" width="74.60" height="30.10" fill="#e0cd9d" />
<rect x="465.50" y="268.00" width="22.70" height="30.10" fill="#cbb06a" />
<line x1="463.50" y1="283.05" x2="465.50" y2="283.05" stroke="#333333" stroke-width="0.6" />
<text x="462.90" y="285.35" font-size="6.4" text-anchor="end" font-weight="normal" fill="#4d4d4d" stroke="#4d4d4d" stroke-width="0.18" >PM2.5</text>
<rect x="465.50" y="305.80" width="92.70" height="29.60" fill="#9dbba0" />
<rect x="465.50" y="305.80" width="34.40" height="29.60" fill="#5e9a70" />
<line x1="463.50" y1="320.60" x2="465.50" y2="320.60" stroke="#333333" stroke-width="0.6" />
<text x="462.90" y="322.90" font-size="6.4" text-anchor="end" font-weight="normal" fill="#4d4d4d" stroke="#4d4d4d" stroke-width="0.18" >PM10</text>
<rect x="465.50" y="343.00" width="63.20" height="29.60" fill="#939fbf" />
<rect x="465.50" y="343.00" width="20.80" height="29.60" fill="#54709d" />
<line x1="463.50" y1="357.80" x2="465.50" y2="357.80" stroke="#333333" stroke-width="0.6" />
<text x="462.90" y="360.10" font-size="6.4" text-anchor="end" font-weight="normal" fill="#4d4d4d" stroke="#4d4d4d" stroke-width="0.18" >NO2</text>
<rect x="465.50" y="380.20" width="28.30" height="29.80" fill="#9488c0" />
<rect x="465.50" y="380.20" width="2.10" height="29.80" fill="#5a50a8" />
<line x1="463.50" y1="395.10" x2="465.50" y2="395.10" stroke="#333333" stroke-width="0.6" />
<text x="462.90" y="397.40" font-size="6.4" text-anchor="end" font-weight="normal" fill="#4d4d4d" stroke="#4d4d4d" stroke-width="0.18" >NOx</text>
<rect x="465.50" y="417.40" width="153.60" height="29.70" fill="#d3d3d3" />
<line x1="463.50" y1="432.25" x2="465.50" y2="432.25" stroke="#333333" stroke-width="0.6" />
<text x="462.90" y="434.55" font-size="6.4" text-anchor="end" font-weight="normal" fill="#4d4d4d" stroke="#4d4d4d" stroke-width="0.18" >All</text>
<line x1="465.50" y1="261.10" x2="465.50" y2="454.20" stroke="#333" stroke-width="0.9" />
<line x1="465.50" y1="454.20" x2="682.40" y2="454.20" stroke="#333" stroke-width="0.9" />
<line x1="465.50" y1="454.20" x2="465.50" y2="456.40" stroke="#333333" stroke-width="0.6" />
<text x="465.50" y="461.86" font-size="6.0" text-anchor="middle" font-weight="normal" fill="#4d4d4d" stroke="#4d4d4d" stroke-width="0.18" >0</text>
<line x1="519.90" y1="454.20" x2="519.90" y2="456.40" stroke="#333333" stroke-width="0.6" />
<text x="519.90" y="461.86" font-size="6.0" text-anchor="middle" font-weight="normal" fill="#4d4d4d" stroke="#4d4d4d" stroke-width="0.18" >300</text>
<line x1="574.30" y1="454.20" x2="574.30" y2="456.40" stroke="#333333" stroke-width="0.6" />
<text x="574.30" y="461.86" font-size="6.0" text-anchor="middle" font-weight="normal" fill="#4d4d4d" stroke="#4d4d4d" stroke-width="0.18" >600</text>
<line x1="628.70" y1="454.20" x2="628.70" y2="456.40" stroke="#333333" stroke-width="0.6" />
<text x="628.70" y="461.86" font-size="6.0" text-anchor="middle" font-weight="normal" fill="#4d4d4d" stroke="#4d4d4d" stroke-width="0.18" >900</text>
<text x="574.00" y="473.09" font-size="7.2" text-anchor="middle" font-weight="normal" fill="#000" stroke="#000" stroke-width="0.18" >Number of Proteins</text>
<text transform="translate(438.56,352.8) rotate(-90)" font-size="7.1" text-anchor="middle">Air Pollutants</text>
<text x="604.30" y="269.44" font-size="7.9" text-anchor="start" font-weight="normal" fill="#000" stroke="#000" stroke-width="0.18" >Protein Type</text>
<rect x="603.80" y="276.00" width="8.50" height="7.90" fill="#4a4048" />
<rect x="603.80" y="291.40" width="8.50" height="8.20" fill="#8c8a8c" />
<text x="615.70" y="282.48" font-size="7.45" text-anchor="start" font-weight="normal" fill="#000" stroke="#000" stroke-width="0.18" >Specific to the AP</text>
<text x="615.70" y="298.28" font-size="7.45" text-anchor="start" font-weight="normal" fill="#000" stroke="#000" stroke-width="0.18" >Non-specific</text>
<text x="13.70" y="503.99" font-size="7.2" text-anchor="start" font-weight="bold" fill="#000" >GO</text>
<rect x="12.7" y="507.9" width="75.3" height="123.30000000000007" fill="#fff" stroke="#9a9a9a" stroke-width="0.9"/>
<rect x="14.45" y="509.35" width="13.85" height="11.60" fill="#dbb7bb" />
<rect x="28.80" y="509.35" width="13.85" height="11.60" fill="#e6cdcf" />
<rect x="43.15" y="509.35" width="13.85" height="11.60" fill="#ca9399" />
<rect x="57.50" y="509.35" width="13.85" height="11.60" fill="#fdfbfc" />
<rect x="71.85" y="509.35" width="13.85" height="11.60" fill="#c88f96" />
<rect x="14.45" y="521.45" width="13.85" height="11.60" fill="#d4a9ad" />
<rect x="28.80" y="521.45" width="13.85" height="11.60" fill="#eddbdd" />
<rect x="43.15" y="521.45" width="13.85" height="11.60" fill="#e9d2d4" />
<rect x="57.50" y="521.45" width="13.85" height="11.60" fill="#ffffff" />
<rect x="71.85" y="521.45" width="13.85" height="11.60" fill="#d2a5aa" />
<rect x="14.45" y="533.55" width="13.85" height="11.60" fill="#d2a5aa" />
<rect x="28.80" y="533.55" width="13.85" height="11.60" fill="#dbb7bb" />
<rect x="43.15" y="533.55" width="13.85" height="11.60" fill="#c2858b" />
<rect x="57.50" y="533.55" width="13.85" height="11.60" fill="#ffffff" />
<rect x="71.85" y="533.55" width="13.85" height="11.60" fill="#c88f96" />
<rect x="14.45" y="545.65" width="13.85" height="11.60" fill="#e6cdcf" />
<rect x="28.80" y="545.65" width="13.85" height="11.60" fill="#f4e9eb" />
<rect x="43.15" y="545.65" width="13.85" height="11.60" fill="#f6edee" />
<rect x="57.50" y="545.65" width="13.85" height="11.60" fill="#ffffff" />
<rect x="71.85" y="545.65" width="13.85" height="11.60" fill="#d4a9ad" />
<rect x="14.45" y="557.75" width="13.85" height="11.60" fill="#d7aeb2" />
<rect x="28.80" y="557.75" width="13.85" height="11.60" fill="#e4c9cc" />
<rect x="43.15" y="557.75" width="13.85" height="11.60" fill="#c88f96" />
<rect x="57.50" y="557.75" width="13.85" height="11.60" fill="#fbf6f6" />
<rect x="71.85" y="557.75" width="13.85" height="11.60" fill="#d2a5aa" />
<rect x="14.45" y="569.85" width="13.85" height="11.60" fill="#d4a9ad" />
<rect x="28.80" y="569.85" width="13.85" height="11.60" fill="#e6cdcf" />
<rect x="43.15" y="569.85" width="13.85" height="11.60" fill="#af5d66" />
<rect x="57.50" y="569.85" width="13.85" height="11.60" fill="#f4e9eb" />
<rect x="71.85" y="569.85" width="13.85" height="11.60" fill="#ce9ca2" />
<rect x="14.45" y="581.95" width="13.85" height="11.60" fill="#dab3b8" />
<rect x="28.80" y="581.95" width="13.85" height="11.60" fill="#e4c9cc" />
<rect x="43.15" y="581.95" width="13.85" height="11.60" fill="#cb979c" />
<rect x="57.50" y="581.95" width="13.85" height="11.60" fill="#fdfbfc" />
<rect x="71.85" y="581.95" width="13.85" height="11.60" fill="#c58a90" />
<rect x="14.45" y="594.05" width="13.85" height="11.60" fill="#e4c9cc" />
<rect x="28.80" y="594.05" width="13.85" height="11.60" fill="#f6edee" />
<rect x="43.15" y="594.05" width="13.85" height="11.60" fill="#ce9ca2" />
<rect x="57.50" y="594.05" width="13.85" height="11.60" fill="#fdfbfc" />
<rect x="71.85" y="594.05" width="13.85" height="11.60" fill="#e0c0c4" />
<rect x="14.45" y="606.15" width="13.85" height="11.60" fill="#ddbbbe" />
<rect x="28.80" y="606.15" width="13.85" height="11.60" fill="#f2e4e6" />
<rect x="43.15" y="606.15" width="13.85" height="11.60" fill="#ca9399" />
<rect x="57.50" y="606.15" width="13.85" height="11.60" fill="#fbf6f6" />
<rect x="71.85" y="606.15" width="13.85" height="11.60" fill="#d7aeb2" />
<rect x="14.45" y="618.25" width="13.85" height="11.60" fill="#dab3b8" />
<rect x="28.80" y="618.25" width="13.85" height="11.60" fill="#e6cdcf" />
<rect x="43.15" y="618.25" width="13.85" height="11.60" fill="#cb979c" />
<rect x="57.50" y="618.25" width="13.85" height="11.60" fill="#ffffff" />
<rect x="71.85" y="618.25" width="13.85" height="11.60" fill="#d2a5aa" />
<line x1="88.00" y1="515.15" x2="90.00" y2="515.15" stroke="#333333" stroke-width="0.6" />
<text x="90.00" y="517.94" font-size="7.75" text-anchor="start" font-weight="normal" fill="#3a3a3a" >taxis</text>
<line x1="88.00" y1="527.25" x2="90.00" y2="527.25" stroke="#333333" stroke-width="0.6" />
<text x="90.00" y="530.04" font-size="7.75" text-anchor="start" font-weight="normal" fill="#3a3a3a" >positive regulation of MAPK cascade</text>
<line x1="88.00" y1="539.35" x2="90.00" y2="539.35" stroke="#333333" stroke-width="0.6" />
<text x="90.00" y="542.14" font-size="7.75" text-anchor="start" font-weight="normal" fill="#3a3a3a" >leukocyte migration</text>
<line x1="88.00" y1="551.45" x2="90.00" y2="551.45" stroke="#333333" stroke-width="0.6" />
<text x="90.00" y="554.24" font-size="7.75" text-anchor="start" font-weight="normal" fill="#3a3a3a" >ERK1 and ERK2 cascade</text>
<line x1="88.00" y1="563.55" x2="90.00" y2="563.55" stroke="#333333" stroke-width="0.6" />
<text x="90.00" y="566.34" font-size="7.75" text-anchor="start" font-weight="normal" fill="#3a3a3a" >cytokine receptor binding</text>
<line x1="88.00" y1="575.65" x2="90.00" y2="575.65" stroke="#333333" stroke-width="0.6" />
<text x="90.00" y="578.44" font-size="7.75" text-anchor="start" font-weight="normal" fill="#3a3a3a" >cytokine activity</text>
<line x1="88.00" y1="587.75" x2="90.00" y2="587.75" stroke="#333333" stroke-width="0.6" />
<text x="90.00" y="590.54" font-size="7.75" text-anchor="start" font-weight="normal" fill="#3a3a3a" >chemotaxis</text>
<line x1="88.00" y1="599.85" x2="90.00" y2="599.85" stroke="#333333" stroke-width="0.6" />
<text x="90.00" y="602.64" font-size="7.75" text-anchor="start" font-weight="normal" fill="#3a3a3a" >chemokine receptor binding</text>
<line x1="88.00" y1="611.95" x2="90.00" y2="611.95" stroke="#333333" stroke-width="0.6" />
<text x="90.00" y="614.74" font-size="7.75" text-anchor="start" font-weight="normal" fill="#3a3a3a" >chemokine activity</text>
<line x1="88.00" y1="624.05" x2="90.00" y2="624.05" stroke="#333333" stroke-width="0.6" />
<text x="90.00" y="626.84" font-size="7.75" text-anchor="start" font-weight="normal" fill="#3a3a3a" >cell chemotaxis</text>
<line x1="21.38" y1="631.20" x2="21.38" y2="633.20" stroke="#333333" stroke-width="0.6" />
<text transform="translate(25.07,637.70) rotate(-45)" font-size="7.9" text-anchor="end" fill="#333">PM2.5</text>
<line x1="35.72" y1="631.20" x2="35.72" y2="633.20" stroke="#333333" stroke-width="0.6" />
<text transform="translate(39.42,637.70) rotate(-45)" font-size="7.9" text-anchor="end" fill="#333">PM10</text>
<line x1="50.08" y1="631.20" x2="50.08" y2="633.20" stroke="#333333" stroke-width="0.6" />
<text transform="translate(53.78,637.70) rotate(-45)" font-size="7.9" text-anchor="end" fill="#333">NO2</text>
<line x1="64.42" y1="631.20" x2="64.42" y2="633.20" stroke="#333333" stroke-width="0.6" />
<text transform="translate(68.12,637.70) rotate(-45)" font-size="7.9" text-anchor="end" fill="#333">NOx</text>
<line x1="78.78" y1="631.20" x2="78.78" y2="633.20" stroke="#333333" stroke-width="0.6" />
<text transform="translate(82.48,637.70) rotate(-45)" font-size="7.9" text-anchor="end" fill="#333">AP index</text>
<text x="9.10" y="678.10" font-size="7.5" text-anchor="start" font-weight="normal" fill="#000" stroke="#000" stroke-width="0.18" >−log10(P.adjust)</text>
<defs><linearGradient id="gD"><stop offset="0" stop-color="#fbf6f6"/><stop offset="1" stop-color="#b3666e"/></linearGradient></defs>
<rect x="66.2" y="667.3" width="24.89999999999999" height="5.9" fill="url(#gD)"/>
<text x="70.50" y="680.93" font-size="7.3" text-anchor="middle" font-weight="normal" fill="#333" stroke="#333" stroke-width="0.18" >10</text>
<text x="80.20" y="680.93" font-size="7.3" text-anchor="middle" font-weight="normal" fill="#333" stroke="#333" stroke-width="0.18" >20</text>
<text x="89.70" y="680.93" font-size="7.3" text-anchor="middle" font-weight="normal" fill="#333" stroke="#333" stroke-width="0.18" >30</text>
<text x="230.10" y="503.99" font-size="7.2" text-anchor="start" font-weight="bold" fill="#000" >KEGG</text>
<rect x="228.8" y="507.8" width="80.69999999999999" height="123.09999999999997" fill="#fff" stroke="#9a9a9a" stroke-width="0.9"/>
<rect x="230.85" y="509.55" width="14.92" height="11.53" fill="#a0acc5" />
<rect x="246.27" y="509.55" width="14.92" height="11.53" fill="#d9dee8" />
<rect x="261.69" y="509.55" width="14.92" height="11.53" fill="#7587ab" />
<rect x="277.11" y="509.55" width="14.92" height="11.53" fill="#eef0f5" />
<rect x="292.53" y="509.55" width="14.92" height="11.53" fill="#a0acc5" />
<rect x="230.85" y="521.58" width="14.92" height="11.53" fill="#c6cddc" />
<rect x="246.27" y="521.58" width="14.92" height="11.53" fill="#d9dee8" />
<rect x="261.69" y="521.58" width="14.92" height="11.53" fill="#f4f6f9" />
<rect x="277.11" y="521.58" width="14.92" height="11.53" fill="#ffffff" />
<rect x="292.53" y="521.58" width="14.92" height="11.53" fill="#bfc8d8" />
<rect x="230.85" y="533.61" width="14.92" height="11.53" fill="#cad1df" />
<rect x="246.27" y="533.61" width="14.92" height="11.53" fill="#eaedf2" />
<rect x="261.69" y="533.61" width="14.92" height="11.53" fill="#cad1df" />
<rect x="277.11" y="533.61" width="14.92" height="11.53" fill="#ffffff" />
<rect x="292.53" y="533.61" width="14.92" height="11.53" fill="#d9dee8" />
<rect x="230.85" y="545.64" width="14.92" height="11.53" fill="#c6cddc" />
<rect x="246.27" y="545.64" width="14.92" height="11.53" fill="#f7f8fa" />
<rect x="261.69" y="545.64" width="14.92" height="11.53" fill="#f2f4f7" />
<rect x="277.11" y="545.64" width="14.92" height="11.53" fill="#ffffff" />
<rect x="292.53" y="545.64" width="14.92" height="11.53" fill="#d9dee8" />
<rect x="230.85" y="557.67" width="14.92" height="11.53" fill="#e6e9f0" />
<rect x="246.27" y="557.67" width="14.92" height="11.53" fill="#bfc8d8" />
<rect x="261.69" y="557.67" width="14.92" height="11.53" fill="#fbfbfc" />
<rect x="277.11" y="557.67" width="14.92" height="11.53" fill="#ffffff" />
<rect x="292.53" y="557.67" width="14.92" height="11.53" fill="#d9dee8" />
<rect x="230.85" y="569.70" width="14.92" height="11.53" fill="#f7f8fa" />
<rect x="246.27" y="569.70" width="14.92" height="11.53" fill="#f4f6f9" />
<rect x="261.69" y="569.70" width="14.92" height="11.53" fill="#d9dee8" />
<rect x="277.11" y="569.70" width="14.92" height="11.53" fill="#ffffff" />
<rect x="292.53" y="569.70" width="14.92" height="11.53" fill="#e6e9f0" />
<rect x="230.85" y="581.73" width="14.92" height="11.53" fill="#bbc4d6" />
<rect x="246.27" y="581.73" width="14.92" height="11.53" fill="#d0d6e3" />
<rect x="261.69" y="581.73" width="14.92" height="11.53" fill="#e6e9f0" />
<rect x="277.11" y="581.73" width="14.92" height="11.53" fill="#ffffff" />
<rect x="292.53" y="581.73" width="14.92" height="11.53" fill="#a6b1c9" />
<rect x="230.85" y="593.76" width="14.92" height="11.53" fill="#d0d6e3" />
<rect x="246.27" y="593.76" width="14.92" height="11.53" fill="#dde1ea" />
<rect x="261.69" y="593.76" width="14.92" height="11.53" fill="#b5bed2" />
<rect x="277.11" y="593.76" width="14.92" height="11.53" fill="#ffffff" />
<rect x="292.53" y="593.76" width="14.92" height="11.53" fill="#cad1df" />
<rect x="230.85" y="605.79" width="14.92" height="11.53" fill="#95a3bf" />
<rect x="246.27" y="605.79" width="14.92" height="11.53" fill="#d0d6e3" />
<rect x="261.69" y="605.79" width="14.92" height="11.53" fill="#516795" />
<rect x="277.11" y="605.79" width="14.92" height="11.53" fill="#ffffff" />
<rect x="292.53" y="605.79" width="14.92" height="11.53" fill="#6f81a7" />
<rect x="230.85" y="617.82" width="14.92" height="11.53" fill="#eaedf2" />
<rect x="246.27" y="617.82" width="14.92" height="11.53" fill="#eef0f5" />
<rect x="261.69" y="617.82" width="14.92" height="11.53" fill="#c4cbdb" />
<rect x="277.11" y="617.82" width="14.92" height="11.53" fill="#ffffff" />
<rect x="292.53" y="617.82" width="14.92" height="11.53" fill="#d9dee8" />
<line x1="309.50" y1="515.32" x2="311.50" y2="515.32" stroke="#333333" stroke-width="0.6" />
<text x="311.50" y="514.11" font-size="7.75" text-anchor="start" font-weight="normal" fill="#3a3a3a" >Viral protein interaction with cytokine</text>
<text x="311.50" y="522.11" font-size="7.75" text-anchor="start" font-weight="normal" fill="#3a3a3a" >and cytokine receptor</text>
<line x1="309.50" y1="527.35" x2="311.50" y2="527.35" stroke="#333333" stroke-width="0.6" />
<text x="311.50" y="530.13" font-size="7.75" text-anchor="start" font-weight="normal" fill="#3a3a3a" >TNF signaling pathway</text>
<line x1="309.50" y1="539.38" x2="311.50" y2="539.38" stroke="#333333" stroke-width="0.6" />
<text x="311.50" y="542.16" font-size="7.75" text-anchor="start" font-weight="normal" fill="#3a3a3a" >Rheumatoid arthritis</text>
<line x1="309.50" y1="551.40" x2="311.50" y2="551.40" stroke="#333333" stroke-width="0.6" />
<text x="311.50" y="554.19" font-size="7.75" text-anchor="start" font-weight="normal" fill="#3a3a3a" >PI3K−Akt signaling pathway</text>
<line x1="309.50" y1="563.44" x2="311.50" y2="563.44" stroke="#333333" stroke-width="0.6" />
<text x="311.50" y="566.23" font-size="7.75" text-anchor="start" font-weight="normal" fill="#3a3a3a" >NF−kappa B signaling pathway</text>
<line x1="309.50" y1="575.47" x2="311.50" y2="575.47" stroke="#333333" stroke-width="0.6" />
<text x="311.50" y="578.25" font-size="7.75" text-anchor="start" font-weight="normal" fill="#3a3a3a" >Malaria</text>
<line x1="309.50" y1="587.50" x2="311.50" y2="587.50" stroke="#333333" stroke-width="0.6" />
<text x="311.50" y="590.28" font-size="7.75" text-anchor="start" font-weight="normal" fill="#3a3a3a" >Lipid and atherosclerosis</text>
<line x1="309.50" y1="599.52" x2="311.50" y2="599.52" stroke="#333333" stroke-width="0.6" />
<text x="311.50" y="602.31" font-size="7.75" text-anchor="start" font-weight="normal" fill="#3a3a3a" >IL−17 signaling pathway</text>
<line x1="309.50" y1="611.56" x2="311.50" y2="611.56" stroke="#333333" stroke-width="0.6" />
<text x="311.50" y="614.35" font-size="7.75" text-anchor="start" font-weight="normal" fill="#3a3a3a" >Cytokine−cytokine receptor interaction</text>
<line x1="309.50" y1="623.59" x2="311.50" y2="623.59" stroke="#333333" stroke-width="0.6" />
<text x="311.50" y="626.38" font-size="7.75" text-anchor="start" font-weight="normal" fill="#3a3a3a" >Chemokine signaling pathway</text>
<line x1="238.31" y1="630.90" x2="238.31" y2="632.90" stroke="#333333" stroke-width="0.6" />
<text transform="translate(242.01,637.40) rotate(-45)" font-size="7.9" text-anchor="end" fill="#333">PM2.5</text>
<line x1="253.73" y1="630.90" x2="253.73" y2="632.90" stroke="#333333" stroke-width="0.6" />
<text transform="translate(257.43,637.40) rotate(-45)" font-size="7.9" text-anchor="end" fill="#333">PM10</text>
<line x1="269.15" y1="630.90" x2="269.15" y2="632.90" stroke="#333333" stroke-width="0.6" />
<text transform="translate(272.85,637.40) rotate(-45)" font-size="7.9" text-anchor="end" fill="#333">NO2</text>
<line x1="284.57" y1="630.90" x2="284.57" y2="632.90" stroke="#333333" stroke-width="0.6" />
<text transform="translate(288.27,637.40) rotate(-45)" font-size="7.9" text-anchor="end" fill="#333">NOx</text>
<line x1="299.99" y1="630.90" x2="299.99" y2="632.90" stroke="#333333" stroke-width="0.6" />
<text transform="translate(303.69,637.40) rotate(-45)" font-size="7.9" text-anchor="end" fill="#333">AP index</text>
<text x="228.50" y="678.10" font-size="7.5" text-anchor="start" font-weight="normal" fill="#000" stroke="#000" stroke-width="0.18" >−log10(P.adjust)</text>
<defs><linearGradient id="gE"><stop offset="0" stop-color="#f6f7f9"/><stop offset="1" stop-color="#5e739d"/></linearGradient></defs>
<rect x="285.6" y="667.3" width="24.5" height="5.9" fill="url(#gE)"/>
<text x="291.00" y="680.93" font-size="7.3" text-anchor="middle" font-weight="normal" fill="#333" stroke="#333" stroke-width="0.18" >10</text>
<text x="301.00" y="680.93" font-size="7.3" text-anchor="middle" font-weight="normal" fill="#333" stroke="#333" stroke-width="0.18" >20</text>
<text x="460.70" y="503.78" font-size="6.6" text-anchor="start" font-weight="bold" fill="#000" >Reactome</text>
<rect x="460.3" y="507.8" width="78.59999999999997" height="123.09999999999997" fill="#fff" stroke="#9a9a9a" stroke-width="0.9"/>
<rect x="461.55" y="509.55" width="14.84" height="11.53" fill="#c0d6c7" />
<rect x="522.91" y="509.55" width="14.84" height="11.53" fill="#caddd0" />
<rect x="461.55" y="521.58" width="14.84" height="11.53" fill="#80ae8f" />
<rect x="476.89" y="521.58" width="14.84" height="11.53" fill="#85b193" />
<rect x="492.23" y="521.58" width="14.84" height="11.53" fill="#95bba2" />
<rect x="507.57" y="521.58" width="14.84" height="11.53" fill="#f4f8f6" />
<rect x="522.91" y="521.58" width="14.84" height="11.53" fill="#5a956d" />
<rect x="461.55" y="533.61" width="14.84" height="11.53" fill="#afccb8" />
<rect x="507.57" y="533.61" width="14.84" height="11.53" fill="#caddd0" />
<rect x="522.91" y="533.61" width="14.84" height="11.53" fill="#dfebe3" />
<rect x="461.55" y="545.64" width="14.84" height="11.53" fill="#c4d9cb" />
<rect x="492.23" y="545.64" width="14.84" height="11.53" fill="#b5d0be" />
<rect x="522.91" y="545.64" width="14.84" height="11.53" fill="#f2f7f4" />
<rect x="461.55" y="557.67" width="14.84" height="11.53" fill="#b5d0be" />
<rect x="476.89" y="557.67" width="14.84" height="11.53" fill="#8bb598" />
<rect x="492.23" y="557.67" width="14.84" height="11.53" fill="#abc9b4" />
<rect x="522.91" y="557.67" width="14.84" height="11.53" fill="#a6c6b0" />
<rect x="461.55" y="569.70" width="14.84" height="11.53" fill="#d1e1d6" />
<rect x="476.89" y="569.70" width="14.84" height="11.53" fill="#abc9b4" />
<rect x="492.23" y="569.70" width="14.84" height="11.53" fill="#d5e4da" />
<rect x="522.91" y="569.70" width="14.84" height="11.53" fill="#c0d6c7" />
<rect x="461.55" y="581.73" width="14.84" height="11.53" fill="#85b193" />
<rect x="476.89" y="581.73" width="14.84" height="11.53" fill="#c0d6c7" />
<rect x="492.23" y="581.73" width="14.84" height="11.53" fill="#569369" />
<rect x="507.57" y="581.73" width="14.84" height="11.53" fill="#f7faf8" />
<rect x="522.91" y="581.73" width="14.84" height="11.53" fill="#c0d6c7" />
<rect x="461.55" y="593.76" width="14.84" height="11.53" fill="#eef4f0" />
<rect x="492.23" y="593.76" width="14.84" height="11.53" fill="#e6efe9" />
<rect x="522.91" y="593.76" width="14.84" height="11.53" fill="#c0d6c7" />
<rect x="461.55" y="605.79" width="14.84" height="11.53" fill="#85b193" />
<rect x="476.89" y="605.79" width="14.84" height="11.53" fill="#f7faf8" />
<rect x="492.23" y="605.79" width="14.84" height="11.53" fill="#6ba07c" />
<rect x="522.91" y="605.79" width="14.84" height="11.53" fill="#abc9b4" />
<rect x="461.55" y="617.82" width="14.84" height="11.53" fill="#d5e4da" />
<rect x="476.89" y="617.82" width="14.84" height="11.53" fill="#f2f7f4" />
<rect x="492.23" y="617.82" width="14.84" height="11.53" fill="#d5e4da" />
<rect x="522.91" y="617.82" width="14.84" height="11.53" fill="#a0c2ab" />
<line x1="538.90" y1="515.32" x2="540.90" y2="515.32" stroke="#333333" stroke-width="0.6" />
<text x="540.90" y="518.11" font-size="7.75" text-anchor="start" font-weight="normal" fill="#3a3a3a" >TNFs bind their physiological receptors</text>
<line x1="538.90" y1="527.35" x2="540.90" y2="527.35" stroke="#333333" stroke-width="0.6" />
<text x="540.90" y="530.13" font-size="7.75" text-anchor="start" font-weight="normal" fill="#3a3a3a" >Signaling by Interleukins</text>
<line x1="538.90" y1="539.38" x2="540.90" y2="539.38" stroke="#333333" stroke-width="0.6" />
<text x="540.90" y="542.16" font-size="7.75" text-anchor="start" font-weight="normal" fill="#3a3a3a" >Reversible hydration of carbon dioxide</text>
<line x1="538.90" y1="551.40" x2="540.90" y2="551.40" stroke="#333333" stroke-width="0.6" />
<text x="540.90" y="554.19" font-size="7.75" text-anchor="start" font-weight="normal" fill="#3a3a3a" >Peptide ligand−binding receptors</text>
<line x1="538.90" y1="563.44" x2="540.90" y2="563.44" stroke="#333333" stroke-width="0.6" />
<text x="540.90" y="566.23" font-size="7.75" text-anchor="start" font-weight="normal" fill="#3a3a3a" >Neutrophil degranulation</text>
<line x1="538.90" y1="575.47" x2="540.90" y2="575.47" stroke="#333333" stroke-width="0.6" />
<text x="540.90" y="578.25" font-size="7.75" text-anchor="start" font-weight="normal" fill="#3a3a3a" >Interleukin−4 and Interleukin−13 signaling</text>
<line x1="538.90" y1="587.50" x2="540.90" y2="587.50" stroke="#333333" stroke-width="0.6" />
<text x="540.90" y="590.28" font-size="7.75" text-anchor="start" font-weight="normal" fill="#3a3a3a" >Interleukin−10 signaling</text>
<line x1="538.90" y1="599.52" x2="540.90" y2="599.52" stroke="#333333" stroke-width="0.6" />
<text x="540.90" y="598.31" font-size="7.75" text-anchor="start" font-weight="normal" fill="#3a3a3a" >Immunoregulatory interactions between</text>
<text x="540.90" y="606.31" font-size="7.75" text-anchor="start" font-weight="normal" fill="#3a3a3a" >Lymphoid and Lymphoid cell</text>
<line x1="538.90" y1="611.56" x2="540.90" y2="611.56" stroke="#333333" stroke-width="0.6" />
<text x="540.90" y="614.35" font-size="7.75" text-anchor="start" font-weight="normal" fill="#3a3a3a" >Chemokine receptors bind chemokines</text>
<line x1="538.90" y1="623.59" x2="540.90" y2="623.59" stroke="#333333" stroke-width="0.6" />
<text x="540.90" y="622.38" font-size="7.75" text-anchor="start" font-weight="normal" fill="#3a3a3a" >Cell surface interactions at the vascular</text>
<text x="540.90" y="630.38" font-size="7.75" text-anchor="start" font-weight="normal" fill="#3a3a3a" >wall</text>
<line x1="468.97" y1="630.90" x2="468.97" y2="632.90" stroke="#333333" stroke-width="0.6" />
<text transform="translate(472.67,637.40) rotate(-45)" font-size="7.9" text-anchor="end" fill="#333">PM2.5</text>
<line x1="484.31" y1="630.90" x2="484.31" y2="632.90" stroke="#333333" stroke-width="0.6" />
<text transform="translate(488.01,637.40) rotate(-45)" font-size="7.9" text-anchor="end" fill="#333">PM10</text>
<line x1="499.65" y1="630.90" x2="499.65" y2="632.90" stroke="#333333" stroke-width="0.6" />
<text transform="translate(503.35,637.40) rotate(-45)" font-size="7.9" text-anchor="end" fill="#333">NO2</text>
<line x1="514.99" y1="630.90" x2="514.99" y2="632.90" stroke="#333333" stroke-width="0.6" />
<text transform="translate(518.69,637.40) rotate(-45)" font-size="7.9" text-anchor="end" fill="#333">NOx</text>
<line x1="530.33" y1="630.90" x2="530.33" y2="632.90" stroke="#333333" stroke-width="0.6" />
<text transform="translate(534.03,637.40) rotate(-45)" font-size="7.9" text-anchor="end" fill="#333">AP index</text>
<text x="458.60" y="678.10" font-size="7.5" text-anchor="start" font-weight="normal" fill="#000" stroke="#000" stroke-width="0.18" >−log10(P.adjust)</text>
<defs><linearGradient id="gF"><stop offset="0" stop-color="#f5f9f6"/><stop offset="1" stop-color="#5c966e"/></linearGradient></defs>
<rect x="515.8" y="667.3" width="25.40000000000009" height="5.9" fill="url(#gF)"/>
<text x="518.50" y="680.93" font-size="7.3" text-anchor="middle" font-weight="normal" fill="#333" stroke="#333" stroke-width="0.18" >3</text>
<text x="526.50" y="680.93" font-size="7.3" text-anchor="middle" font-weight="normal" fill="#333" stroke="#333" stroke-width="0.18" >6</text>
<text x="534.50" y="680.93" font-size="7.3" text-anchor="middle" font-weight="normal" fill="#333" stroke="#333" stroke-width="0.18" >9</text>
</svg></body></html>
